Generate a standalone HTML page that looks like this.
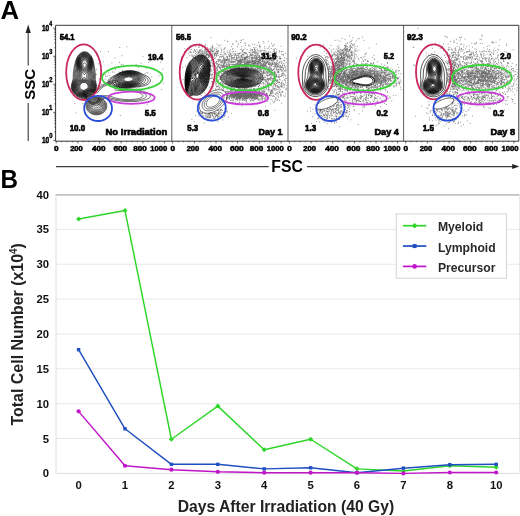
<!DOCTYPE html><html><head><meta charset="utf-8"><title>Figure</title><style>html,body{margin:0;padding:0;background:#fff}svg{display:block;filter:blur(0.3px)}text{font-family:"Liberation Sans",sans-serif}</style></head><body>
<svg width="520" height="516" viewBox="0 0 520 516">
<rect width="520" height="516" fill="#fff"/>
<text transform="translate(0.46 18.70) scale(1.009 1)" font-size="25.45" font-weight="bold">A</text>
<text transform="translate(0.56 187.70) scale(0.937 1)" font-size="25.89" font-weight="bold">B</text>
<path d="M28.2 33V65.4M28.2 103V141" stroke="#3a3a3a" stroke-width="1.1"/>
<path d="M28.2 24.6L25.6 33.1H30.8Z" fill="#222"/>
<text transform="translate(35.2 84.3) rotate(-90)" font-size="15" text-anchor="middle" font-weight="bold">SSC</text>
<path d="M56 166.6H268.7M307 166.6H513" stroke="#3a3a3a" stroke-width="1.1"/>
<path d="M519.3 166.6L512.2 164.1V169.1Z" fill="#222"/>
<text x="287.1" y="172" font-size="15.8" text-anchor="middle" font-weight="bold">FSC</text>
<path d="M126.3 46.8h.8m-7.7 .6h.8m-20.1 4.1h.8m7.1 0h.8m12.7 4.2h.8m20.2 .7h.8m-28.7 1.7h.8m34.6 3.2h.8m-48.1 .5h.8m44.5 .5h.8m11.5 0h.8m-42 .3h.8m-8.4 .2h.8m28.4 .3h.8m-43.6 .7h.8m22 .6h.8m14.2 0h.8m-13.8 .3h.8m-1.8 1.5h.8m-8 .9h.8m22.6 .4h.8m7.5 .5h.8m15.5 1.2h.8m-67 .1h.8m18.2 .2h.8m6.2 .9h.8m-22.8 .1h.8m20.9 .5h.8m15.7 0h.8m-27.1 1h.8m.8 .1h.8m4.4 .1h.8m26.7 .3h.8m-38.9 .3h.8m38.5 .3h.8m-45.3 .4h.8m40.8 .2h.8m-49.5 .8h.8m7.8 0h.8m-10.4 .2h.8m13 .8h.8m48.8 .5h.8m-54.1 .3h.8m.7 .1h.8m43.8 .6h.8m-53.2 1.8h.8m4.9 .3h.8m-5.8 .1h.8m2.5 1.8h.8m-.5 1h.8m58.8 1h.8m-62.4 1.4h.8m-5.5 1.2h.8m41.6 1.2h.8m-5.1 .7h.8m2.2 .2h.8m-2.5 1.4h.8m24.2 .5h.8m-58.6 9.4h.8m5.3 1.1h.8m-24.9 .5h.8m-11.5 3h.8m7.3 .1h.8m63.6 1h.8m-37.7 7.9h.8m-35 .2h.8m43.3 2.7h.8" stroke="#6a6a6a" stroke-width="0.85" fill="none"/>
<g fill="none" stroke="#000" stroke-width="0.62">
<path d="M85.5 98.8l-2.3 .1-2.4-.7-2.8-1.3-2.2-1.6-1.8-1.7-1.4-2-.9-2.3-.4-2.3 .3-2.7 1.6-5.3 .1-5.7 .6-4.3 1.2-6 1.1-3.7 1.4-3 1.9-2.4 2.3-1.5 1.2-.5 1.2-.2 1.3 .1 1.3 .3 1.2 .6 1.2 1 1.9 2.1 1.6 3.2 .9 3.6 1.3 7.7 .4 4 0 5.5 .9 4.2 .3 2.3-.2 2-.6 2.3-1.1 2-1.1 1.4-1.7 1.7-2.3 1.5-2 1-2 .6z"/><path d="M85.8 97.8l-2.3 .2-2.5-.5-2.5-1-2.3-1.4-1.9-1.8-1.4-2-.8-2-.3-2.3 .3-3 1.9-5.2 .5-7.5 1.4-8.7 1-3.6 1.3-2.7 1.8-2.1 2-1.3 2.2-.5 2.3 .3 1.3 .6 1.2 .8 1.9 2.2 1.5 3.3 .7 3.2 1.2 9.8 .2 7 1.2 4.2 .3 2.5-.1 2-.5 1.7-1 2-1.2 1.6-1.7 1.6-1.7 1.2-1.8 .8-2.2 .6z"/><path d="M84.5 97.3l-2.3-.1-2.2-.6-2.5-1.2-1.7-1.3-1.6-1.5-1.1-1.8-.7-2-.2-2 .5-3 1.8-4.2 .5-1.6 .2-4.7 .8-5.3 .4-5 .9-4 1.3-2.4 1.6-2 2-1.2 2.3-.5 1.3 .1 1.2 .4 2 1.4 1.7 2 1.2 2.8 .8 3.7 .2 5.7 .6 5.3 0 4.5 1.7 5 .4 2.8-.2 2-.6 1.7-.9 1.7-1.5 1.8-1.6 1.3-2.3 1.3-1.7 .6-2.3 .3z"/><path d="M86.2 96.6l-2.2 .2-2.2-.2-2.3-.7-2.3-1.2-2-1.6-1.3-1.8-.9-2-.4-2 .1-1.7 .4-1.8 2.4-4.8 .4-1.2 .2-4.2 .6-4.6 .1-5.7 .8-3.7 1-2.3 1.6-2.1 2-1.3 2-.5 2.3 .3 1 .5 1.2 .8 1.7 2 1.2 2.8 .5 2 .2 2-.2 6 .5 4.5 0 4 .4 1.5 1.7 4 .4 2.5-.1 1.7-.4 1.8-.8 1.5-1 1.5-1.6 1.4-1.4 1-1.6 .8-2 .6z"/><path d="M84.5 96.3l-2.3-.1-2-.5-2-.8-1.7-1.2-1.4-1.4-1.2-1.7-.6-1.8-.3-2 .2-1.5 .5-1.7 .7-1.6 1.9-3 .5-1.4 .2-3.6 .5-4-.3-6.4 .2-2 .5-1.8 1-2.2 1.6-2 2-1.3 2-.5 2 .4 2 1.2 1.6 1.9 1.2 2.7 .5 2 .2 2-.6 6.8 .3 3.8 0 3.4 .5 1.6 2 4.2 .4 1.5 .1 1.5-.2 1.8-.6 1.7-.9 1.5-1.2 1.4-1.6 1.2-1.7 1-1.7 .6-2.3 .3z"/><path d="M85 95.8l-2 0-2.2-.4-2-.7-1.8-1.1-1.5-1.5-1.1-1.5-.7-2-.2-1.8 .2-1.8 .6-1.7 .8-1.5 2.1-3 .5-1.5 .5-6.5-.6-4.5-.1-2.3 .2-2 .5-2 1-2.2 1.6-1.9 1.7-1.2 2-.4 2 .4 2 1.3 1.5 1.8 1.1 2.5 .3 1.7 .2 2.3-.2 2.5-.8 4.5 .2 6.5 .5 1.5 2.3 4.3 .5 1.4 .1 1.6-.1 1.7-.5 1.5-.8 1.5-1.2 1.5-1.4 1.1-1.7 1-1.7 .6-1.8 .3z"/><path d="M85.5 95.3l-2.3 .1-2-.3-2-.7-1.7-1-1.5-1.3-1.1-1.5-.7-1.8-.3-1.8 .2-2 .7-1.7 1-1.7 2.3-3 .5-1.6 .4-5.7-.9-4.5-.2-2.5 .2-2.3 .4-2 1.1-2.2 1.4-1.6 1.8-1.1 1.7-.4 2 .4 1.7 1.2 1.5 1.7 1.1 2.6 .4 2 0 2.2-.3 2.5-1.1 4.5 .1 5.8 .5 1.4 1.9 3 .8 1.6 .5 1.4 .2 1.6-.1 1.4-.4 1.6-.8 1.4-1 1.3-1.3 1.1-1.4 .9-1.6 .6-1.7 .4z"/><path d="M86 94.8l-2 .2-2-.1-2.2-.7-1.8-1-1.4-1.2-1.2-1.4-.7-1.8-.3-1.8 .2-2 .7-1.7 1.1-1.7 2.6-3 .6-1.6 .1-5.2-1.1-4.5-.3-2.5 0-2.2 .5-2.3 1.1-2.3 1.3-1.4 1.6-1 1.7-.4 2 .4 1.7 1.2 1.4 1.8 .9 2.2 .4 2.2-.1 2.3-.4 2.5-1.4 4.5-.1 5 .5 1.5 2.2 3 .9 1.5 .6 1.7 .2 1.6-.1 1.4-.3 1.3-.6 1.3-1 1.2-1.1 1-1.2 .9-1.5 .7-1.5 .4z"/><path d="M84.8 94.6l-2-.1-1.8-.3-1.8-.7-1.4-.9-1.3-1.3-.8-1.3-.6-1.4-.2-1.8 .3-2 .7-1.8 1.3-1.7 2.7-2.7 .7-1.6 0-4.7-1.5-4.7-.5-2.6 .1-2.2 .4-2.2 1-2 1.1-1.5 1.6-1 1.7-.4 1.7 .3 1.8 1.2 1.3 1.6 .9 2.2 .3 2.3-.1 2.5-.5 2.2-1.7 4.6-.3 4.4 .5 1.6 2.4 3 1.2 1.7 .6 1.7 .2 1.8-.1 1.5-.4 1.3-.7 1.2-1.1 1.2-1.3 1-1.2 .7-1.5 .6-1.7 .3z"/><path d="M85.2 94.1l-1.7 .1-1.7-.3-1.8-.5-1.5-.9-1.3-1.1-1-1.4-.6-1.4-.2-1.6 .2-2 .9-2 1.5-1.8 3.1-2.9 .6-.7 .2-.8-.3-4-1.8-4.5-.7-2.5-.1-2.5 .4-2.3 .8-2 1.2-1.4 1.4-1 1.7-.4 1.7 .3 1.6 1 1.2 1.6 .9 2.2 .3 2.5-.3 2.5-.8 2.5-2 4.2-.3 1.6-.2 2.4 .7 1.6 2.7 2.7 1.3 1.7 .7 1.8 .3 1.8 0 1.2-.4 1.2-.6 1.3-.8 1.1-1 .9-1.3 .8-1.4 .6-1.6 .4z"/><path d="M84.5 74.7l-.5-.1-.5-.6-2.9-5-.9-2.4-.3-2.6 .3-2.7 .5-1.3 .7-1.2 1.6-1.5 1-.5 1-.1 1 .1 1 .4 1 .7 .7 .8 1.2 2.3 .4 2.8-.3 2.5-.8 2.5-1.5 2.4-2 2.8-.7 .7z"/><path d="M85.5 93.6l-1.7 .1-1.8-.2-1.5-.4-1.5-.8-1.2-1-1-1.3-.6-1.2-.3-1.5 0-1.3 .3-1.2 .6-1.2 .9-1.3 2.5-2.4 2.8-1.8 1-.4 .8 .1 1 .6 2.2 1.7 1.7 1.7 1.5 2.2 .6 2.3 0 1.3-.3 1.2-1.3 2.1-2 1.7-1.2 .6-1.5 .4z"/><path d="M85 72.1l-.8 .1-.7-.3-1-.9-.9-1.2-1.4-2.7-.4-2.8 .2-2.5 1-2.4 1.5-1.5 1-.5 1-.2 1.7 .4 1 .7 .7 .7 1.1 2 .4 2.6-.2 2.4-1 2.6-1.4 2.2-1 .9-.8 .4z"/><path d="M85.5 93.1l-1.5 .2-1.5-.1-1.5-.4-1.5-.8-1.3-.9-.8-1.1-.6-1.2-.4-1.2 0-1.3 .3-1.3 .5-1.2 .9-1.2 1.1-1.2 1.6-1.1 1.4-.8 1.3-.4 1 0 1.3 .3 2.7 1.9 1.9 2.3 .6 1.2 .3 1.2-.2 2.3-.5 1.3-.7 1-1.9 1.6-2.5 .9z"/><path d="M84.8 71.1l-.8-.1-.8-.3-1.5-1.7-1.2-2.4-.3-2.6 .3-2.4 1-2 1.4-1.3 1.6-.5 1 .2 .7 .3 1.5 1.3 .9 2 .4 2.2-.3 2.5-.9 2.2-1.6 1.8-.7 .6-.7 .2z"/><path d="M85.5 92.6l-1.3 .2-1.4-.1-1.6-.4-1.1-.5-1.1-.8-.9-1-.6-1-.4-1.2-.1-1.2 .2-1.3 .5-1.3 .7-1 1.1-1.1 1.3-.9 1.2-.7 1.2-.4 1.3 0 1 .2 2.3 1.3 1 .9 1 1.2 .5 1.1 .4 1.2-.1 2.2-1 2-.8 1-1 .7-2.3 .9z"/><path d="M85.2 70.1l-.7 .1-.7-.1-1.4-1.1-1.2-1.9-.5-2.3 .1-2.2 .7-2 1.3-1.5 1.4-.6 1.6 .2 1.2 .9 1 1.7 .5 2-.1 2-.6 2.1-1.1 1.6-1.5 1.1z"/><path d="M85.5 92.1l-2.5 .1-1.2-.3-1.3-.5-1-.7-.9-.9-.6-1-.3-1-.1-1 .1-1.2 1-2 1.8-1.8 1.3-.7 1.2-.5 2 0 1.2 .4 1 .7 1.8 1.7 1 2.2 .1 2-.3 1-.6 1-1.4 1.5-2.3 1z"/><path d="M85 69.3l-1.2-.1-1.3-1-.9-1.6-.4-2 .2-2 .6-1.6 1.1-1.2 1.4-.5 1.3 .3 1.1 1 .7 1.4 .4 1.8-.2 2-.6 1.5-1 1.3-1.2 .7z"/><path d="M85 91.6l-2.2 0-2.2-.8-1.6-1.5-.7-1.7 .1-2 1-2 1.7-1.6 2.1-.8 2 .1 1.9 1 1.5 1.5 .8 2 0 2-.9 1.8-1.5 1.3-2 .7z"/><path d="M85.2 68.3l-1 .2-1-.6-.9-1.3-.4-1.6 0-1.4 .4-1.6 .9-1.1 1-.5 1 .1 1 .7 .7 1.1 .3 1.3 0 1.4-.4 1.6-.6 1-1 .7z"/><path d="M84.2 91.1l-2-.3-1.7-.9-1.1-1.3-.5-1.8 .4-1.8 .9-1.5 1.6-1.2 2-.5 1.7 .2 1.6 1 1.2 1.6 .5 1.7-.2 1.7-1 1.6-1.4 1-2 .5z"/><path d="M84.5 67.3l-.7-.3-.4-.4-.4-.9-.1-.9 .1-.8 .4-.7 .6-.4 .5 0 .7 .2 .6 .4 .4 1.3-.1 1-.4 .8-.5 .5-.7 .2z"/><path d="M84.2 90.3l-1.4-.1-1.6-.7-1-1.2-.4-1.5 .2-1.5 .9-1.5 1.3-1 1.6-.4 1.4 .2 1.6 .9 .9 1.3 .4 1.5-.3 1.5-.8 1.2-1.2 .9-1.6 .4z"/>
</g>
<g fill="none" stroke="#000" stroke-width="0.62">
<path d="M128.2 87.8l-9.2 .2-4.2-.4-2.3-.6-1.9-1-1.5-1.2-.9-1.2-.3-1.3 .1-1.3 .6-1.2 1.1-1.2 1.5-1.1 6.3-3.6 3.5-1.7 3.5-1 4-.6 3.7 .1 3.8 .7 3.8 1.3 7.2 3.5 2 1.4 1.2 1.7 .2 .7-.1 1-.6 1.6-1.5 1.4-2.4 1.3-2 .6-2.3 .5-13.3 1.4z"/><path d="M129.8 87.3l-4 .2-5.8-.1-3.2-.3-2.6-.5-2.2-.9-1.8-1.4-.8-1.5-.1-1 .1-.8 .9-1.4 2.1-1.8 5.8-3.9 4-1.8 3.8-.9 3.5-.3 3.5 .3 3.5 .7 4 1.8 5.8 3.9 1 1 .6 1 .2 1-.2 1-.7 1-.8 .7-1.3 .7-1.6 .7-8 1.8-5.7 .8z"/><path d="M127.2 87.1l-5.7-.2-5.5-.7-1.8-.6-1.4-.7-1-.9-.7-1-.2-.7 0-1 .4-1 .8-1 4.7-3.9 2-1.3 2-1 3.4-1.2 3.6-.5 3.7-.1 3.5 .6 3 1 2.8 1.7 2.6 2.2 1.7 2.2 .3 1.3-.3 1.3-1.3 1.2-1.9 1-3.7 1.4-3.7 1-3.3 .5-4 .4z"/><path d="M129.2 86.6l-3.4 .1-3.6-.2-3.4-.6-2.8-.7-1.9-.9-1.1-1-.5-1.3 .1-1.2 .6-1 1-1.2 2.9-2.8 2.9-1.9 2.8-1.2 3.2-.8 3.5-.3 3.5 .3 3.2 .8 3.3 1.6 1.3 1 1.2 1.3 .8 1.2 .4 1.2 .1 1-.3 1-.8 1-1 .8-3.4 1.8-4.3 1.3-4.3 .7z"/><path d="M130.5 86.1l-3.3 .2-3.2-.1-3.5-.5-2.7-.8-2-.9-1.2-1-.6-1.2 .2-1.5 1.4-2.3 2.2-2.1 2.4-1.7 3-1.3 3-.7 3.3-.2 3.3 .2 3 .8 3 1.5 2 1.8 .8 1.3 .3 1 .1 1-.3 1-.6 1-.7 .7-2.4 1.6-3.5 1.3-4 .9z"/><path d="M129.2 85.8l-3 .1-3-.2-2.7-.6-2.5-.9-1.5-.9-1-1.3-.2-1.2 .4-1.5 1.4-2 2.1-1.9 2.6-1.5 2.7-.9 3.3-.6 3.2 0 3 .5 2.8 1 2.2 1.4 .9 1 .7 1 .3 1 .1 1-.6 1.7-1.6 1.7-2.6 1.4-3.2 1.1-3.8 .6z"/><path d="M130.2 85.3l-2.7 .2-3-.1-2.7-.5-2.6-.9-1.7-1-.9-1.2-.3-1.2 .4-1.6 1.1-1.7 2-1.7 2.4-1.4 2.6-.9 3-.5 2.7-.1 3 .5 2.5 .8 2.1 1.3 1.5 1.7 .5 1.8-.4 1.8-1.2 1.5-2.3 1.5-2.7 1.1-3.3 .6z"/><path d="M129.2 85.1l-2.7 0-2.7-.2-2.6-.6-2-.9-1.3-1.1-.6-1.3 0-1.2 .6-1.5 1.2-1.5 1.9-1.5 2.2-1.1 2.8-.8 2.8-.3 3 .1 2.4 .6 2.3 1 1.7 1.4 1 1.6 .1 1.8-.7 1.4-1.6 1.5-2 1.1-2.8 1-3 .5z"/><path d="M130 84.6l-2.8 .2-2.4-.2-2.3-.5-2.1-.8-1.4-1-.7-1-.2-1.3 .4-1.4 1.1-1.6 1.6-1.3 2-1.1 2.6-.8 2.7-.3 2.5 0 2.5 .5 2 .8 1.8 1.2 1 1.6 .3 1.4-.5 1.6-1.3 1.4-1.8 1.1-2.2 .9-2.8 .6z"/><path d="M128.5 84.3l-2.5 0-2.5-.4-2-.7-1.5-.9-.9-1.3-.2-1.2 .5-1.5 1-1.3 1.6-1.2 2-1 2.2-.6 2.3-.3 2.5 .1 2.2 .4 2 .9 1.5 1 .9 1.3 .2 1.2-.2 1.2-.9 1.3-1.5 1.1-2 1-2.2 .6-2.5 .3z"/><path d="M129.5 83.8l-2.3 .1-2.2-.2-2-.4-1.6-.7-1.1-1-.6-1 0-1 .4-1.3 1.1-1.3 1.3-1 2-.9 2-.6 2.3-.2 2.2 .1 2 .4 1.8 .8 1.2 1 .9 1.2 .1 1.5-.5 1.2-1.3 1.3-1.4 .9-2 .7-2.3 .4z"/><path d="M130 83.3l-2 .2-2-.1-2-.4-1.5-.5-1-.7-.8-1-.2-1 .3-1.2 1-1.3 1.2-1 1.6-.7 1.9-.6 2-.3 2 .1 1.7 .3 1.8 .7 1.2 .9 .9 1.1 .2 1-.3 1.2-.8 1-1.3 1-1.8 .8-2.1 .5z"/><path d="M127.8 83.1l-2-.2-1.6-.3-1.4-.7-1.1-.9-.4-1 .1-1 .5-1 1.1-1 1.2-.7 1.6-.6 1.7-.4 1.7-.1 1.8 .1 1.7 .5 1.3 .7 .9 .8 .5 1 .1 1-.5 1-.8 .8-1.2 .8-1.7 .7-1.8 .3-1.7 .2z"/><path d="M128.5 82.6l-3.3-.3-1.2-.4-1-.6-.6-.7-.3-1 .4-1 .6-.8 .9-.8 1.5-.7 3-.6 1.7 .1 1.5 .2 1.2 .6 1 .7 .6 .7 .2 .8-.3 1-.5 .8-1 .7-1.1 .6-1.6 .4-1.7 .3z"/><path d="M128.5 82.1l-2.7-.2-1.1-.3-.9-.6-.6-.7-.2-.7 .3-.8 .5-.8 1-.7 1-.5 2.7-.6 2.7 .3 1.3 .5 .6 .6 .5 .7 .2 .7-.3 .8-.5 .7-1.9 1.1-2.6 .5z"/><path d="M129.8 81.3l-2.3 .2-2.3-.4-1-.8-.2-.5 .1-.8 .4-.5 .7-.7 2-.8 2-.1 2 .4 1 .5 .4 .5 .2 .5-.1 .8-1 1-1.9 .7z"/>
</g>
<g fill="none" stroke="#000" stroke-width="0.5">
<path d="M98 114.8l-1.8 .1-2-.2-1.7-.5-1.7-.8-1.6-1-1.3-1.4-.8-1.2-.7-1.8-.3-1.4 .1-1.8 .5-1.8 .8-1.4 1-1.3 1.5-1.3 1.5-.8 2-.8 2-.3 2.3 0 1.7 .3 2 .8 1.7 1 1.6 1.4 1.2 1.7 .6 1.7 .3 1.8-.2 2-.5 1.5-1.1 1.7-1.6 1.6-1.7 1.1-1.8 .7-2 .4z"/><path d="M97.5 114.3l-1.7 0-2-.3-1.8-.6-1.5-.8-1.3-1-1.1-1.3-.8-1.5-.4-1.5-.1-1.7 .2-1.6 .6-1.4 1-1.6 1.2-1.1 1.4-1 1.8-.8 1.8-.4 2-.1 2 .2 2 .6 1.4 .8 1.6 1.2 1.1 1.4 .7 1.2 .6 1.8 0 1.8-.2 1.4-.7 1.6-1.1 1.5-1.2 1.1-1.5 1-2 .8-2 .3z"/><path d="M98.8 113.6l-1.6 .2-1.7 0-1.7-.4-1.6-.5-1.4-.9-1.2-1-1-1.2-.7-1.2-.4-1.3-.1-1.5 .2-1.5 .5-1.3 .7-1.2 1-1.1 1.2-1 1.5-.8 1.7-.5 1.8-.3 1.8 .1 2 .4 1.7 .8 1.5 1.1 1.2 1.3 .8 1.5 .5 1.7 .1 1.6-.3 1.4-.7 1.6-.9 1.2-1.5 1.2-1.4 .9-2 .7z"/><path d="M98 113.1l-3 0-1.5-.4-1.5-.6-1.2-.8-1-1-.9-1.3-.5-1.2-.3-1.2 .1-1.6 .3-1.2 .6-1.2 .9-1.2 1-.9 2.5-1.3 1.7-.4 1.8-.1 1.8 .2 1.4 .6 1.6 .8 1.1 1 1 1.3 .7 1.4 .3 1.6-.1 1.4-.4 1.6-.8 1.2-1.1 1.2-1.3 .9-1.4 .7-1.8 .5z"/><path d="M97.2 112.6l-2.7-.2-1.5-.5-1.2-.7-1.1-.9-.8-1-.6-1-.4-1.3-.1-1.2 .2-1.2 .5-1.3 .7-1.2 2-1.7 1.6-.7 1.2-.3 1.5-.2 1.7 .2 1.6 .5 1.2 .6 1.2 1 .9 1.1 .7 1.2 .3 1.2 .1 1.6-.3 1.2-.6 1.2-.7 1-1.1 1-1.3 .7-1.4 .6-1.6 .3z"/><path d="M97.8 111.8l-2.6 0-2.4-.8-1.8-1.4-1.2-2-.2-1 0-1.3 .3-1.3 .5-1 1.6-1.7 2.2-1.1 1.3-.3 1.5-.1 1.5 .3 1.3 .5 2 1.4 .8 1 .6 1.3 .2 1.3-.1 1.2-.3 1.2-.6 1-.9 1-1 .8-1.3 .6-1.4 .4z"/><path d="M97.8 111.1l-2.3 0-2.3-.7-1.6-1.4-1-1.7-.1-2 .7-2 1.3-1.5 2-1.1 1.3-.2 1.2-.1 2.3 .6 1.2 .8 .8 .8 .7 1 .4 1 .1 2-.2 1-.5 1-.8 .9-1 .7-2.2 .9z"/><path d="M97.2 110.3l-2-.1-1.7-.7-1.3-1.2-.8-1.7 0-1.8 .9-1.8 1.4-1.2 1.8-.7 2 0 2 .8 1.4 1.4 .7 1.7-.1 1.8-.9 1.8-1.6 1.2-1.8 .5z"/><path d="M97 109.3l-1.5-.1-1.5-.6-1-1-.6-1.6 .1-1.4 .6-1.3 1.1-1 1.6-.6 1.4 0 1.6 .6 1.1 1 .7 1.5 0 1.5-.8 1.5-1.2 1-1.6 .5z"/><path d="M96.8 107.8l-1.3-.1-1-.6-.7-.8-.3-1 .1-1 .5-1 .9-.7 1-.3 1.2 .1 1.1 .4 .8 .8 .4 1-.1 1.2-.6 1-.8 .6-1.2 .4z"/><path d="M97.5 105.8l-1.5 .1-1-.4-.4-.9 .4-1 .7-.6 .8-.1 .8 .1 .7 .5 .3 .5 .1 .8-.4 .7-.5 .3z"/>
</g>
<g fill="none" stroke="#000" stroke-width="0.55">
<path d="M97.8 104.8l-2.6 .2-2.7-.7-2.7-1.3-2.8-2.2-2.2-2.8-1.2-2.7-.3-2.5 .2-1 .4-1 .7-.8 .9-.6 2-.5 2.3 .2 4.2 1 1.8-.2 1.2-.8 4.5-3.5 3.3-2 3.7-1.7 3.7-1 2-.3 1.8 .1 1.2 .4 1 .6 .6 .7 .2 .9-.1 3.5 .3 .6 .8 .5 2 .3 6.8 .5 4.4 .4 4.6 .8 3.4 .8 3.6 1 2.8 1.3 1.8 1.3 .6 .7 .3 .8 0 1-.7 1-1.4 .9-1.7 .8-4.7 1.2-6.8 .8-6.8 .1-7-.4-6.7-1-7.7-1.8-3-.1-1 .3-.8 .5-.5 .7-.9 2.5-.6 1-1 1-1.2 .5z"/><path d="M97 103.6l-2 .2-2.5-.6-2.5-1.2-2.2-1.9-1.9-2.3-1-2.2-.2-2.3 .5-1.6 1.3-1.1 2-.4 2 .2 4 1 1.7-.1 1-.7 4-3.5 3-2 4-1.9 3.6-1 2.7 0 1 .3 .7 .6 .5 .7 .2 .8-.1 3.2 .4 .8 .6 .3 2 .4 6.4 .2 4.6 .4 7.2 1.2 3.5 1.1 2.6 1.1 1.7 1.3 .7 1.2-.2 1-.7 .8-1.2 .7-1.9 .7-4.7 1.1-6 .4-5.8 0-5.5-.5-5.5-.9-7.8-2-2.2-.2-2.2 .1-1.3 .4-.7 .5-.6 .7-1.2 3.4-.8 .9-1.2 .7z"/><path d="M95.8 102.6l-1.8 0-2-.6-2-1.1-1.8-1.6-1.3-1.7-.9-2-.1-1.8 .6-1.3 1.3-.9 1.7-.3 2 .3 4 1.2 1.5 0 .8-.5 3-3.5 2.7-2.1 3.7-2 3.6-1.1 1.2 0 1.2 .1 .9 .3 .5 .6 .4 1.2-.2 3.2 .2 .6 .8 .5 2 .3 10 .2 6.4 .8 3.5 .9 2.7 1 1.6 1 .5 .5 .4 .8-.1 .7-.5 .7-1.2 .8-1.6 .6-4.5 .9-5.5 .3-5.5-.2-5.5-.7-3.7-.9-5-1.7-1.8-.4-2.5-.1-4.7 .2-1 .4-.6 .6-.8 3.2-.6 1.3-.8 .8-1.2 .5z"/>
</g>
<path d="M210.7 37.7h.8m31.3 1.8h.8m-3.1 .7h.8m-16.8 .1h.8m16 .5h.8m-5.9 .2h.8m25.7 .3h.8m4.4 0h.8m-41.2 .1h.8m7.5 0h.8m-9.6 .1h.8m12.4 .9h.8m17.4 .2h.8m-14.7 .3h.8m18.2 0h.8m-26.1 .4h.8m32 0h.8m-26.5 .2h.8m-46.7 .2h.8m32.1 0h.8m-16.6 .3h.8m-15.9 .2h.8m50.3 .1h.8m-47.9 .1h.8m26.3 .2h.8m21.2 0h.8m18.4 0h.8m-36.7 .1h.8m-18.1 .1h.8m27.2 .2h.8m9.7 0h.8m-60.6 .4h.8m4.7 0h.8m6.5 0h.8m43.9 0h.8m-39 .1h.8m25.6 .1h.8m27.2 0h.8m-25.4 .1h.8m-49.4 .1h.8m18.4 0h.8m39.2 0h.8m12.3 .2h.8m-23.3 .1h.8m18.9 .1h.8m10.6 0h.8m-77.7 .1h.8m55.4 .1h.8m-65.3 .1h.8m35.1 .1h.8m5 0h.8m-25.3 .1h.8m27.6 0h.8m17.3 0h.8m-61.7 .1h.8m12.7 0h.8m51.6 0h.8m-66.1 .6h.8m-10.6 .1h.8m63.4 0h.8m-46.9 .2h.8m3.7 0h.8m-.1 0h.8m42.4 0h.8m-31.5 .1h.8m34.1 0h.8m-58.2 .1h.8m13.8 .1h.8m50.3 0h.8m-48.3 .1h.8m23.2 0h.8m-21 .1h.8m29.2 0h.8m-44.7 .1h.8m3.2 .1h.8m55.6 .1h.8m-62.9 .1h.8m55 0h.8m10 0h.8m-63.8 .1h.8m19.6 0h.8m-49 .1h.8m19.8 0h.8m61.2 .1h.8m-53.8 .1h.8m8.9 0h.8m-19.6 .1h.8m-.6 0h.8m-.5 0h.8m-.4 0h.8m25.6 0h.8m17.3 0h.8m2.5 0h.8m-13.1 .1h.8m14.8 0h.8m16.3 0h.8m-85.4 .1h.8m17.1 0h.8m2 0h.8m-4.6 .1h.8m8.8 0h.8m23.7 0h.8m11 0h.8m19.9 0h.8m-27.1 .1h.8m6.6 0h.8m-63.8 .1h.8m4.5 0h.8m26.3 0h.8m19.1 0h.8m-50 .1h.8m9.4 0h.8m5.2 0h.8m65.2 0h.8m-89.3 .1h.8m15.4 0h.8m49.8 0h.8m-50 .1h.8m4.8 0h.8m9.4 0h.8m-22.4 .1h.8m.6 0h.8m10.3 0h.8m2.8 0h.8m13.8 0h.8m20.4 0h.8m-47.7 .1h.8m5.7 0h.8m38.6 0h.8m-51.9 .1h.8m-.2 0h.8m58.7 0h.8m1.2 0h.8m-67.8 .1h.8m3.8 0h.8m18 0h.8m23.6 0h.8m-29.4 .2h.8m2.7 0h.8m38.5 0h.8m16.5 0h.8m-13.2 .1h.8m2 0h.8m-71.3 .1h.8m7.4 0h.8m39.8 .1h.8m6.3 0h.8m1.7 0h.8m5.4 0h.8m5.3 0h.8m13.6 0h.8m-84.9 .1h.8m10.9 0h.8m2.9 0h.8m10.3 0h.8m20.2 0h.8m11.6 0h.8m7.8 0h.8m-57.6 .1h.8m34.8 0h.8m8.9 0h.8m1.8 0h.8m.1 0h.8m-43.9 .1h.8m15.8 0h.8m30.1 0h.8m5.1 0h.8m-56.6 .1h.8m2.2 0h.8m13.1 0h.8m14.2 0h.8m11.5 0h.8m-57.6 .1h.8m1 0h.8m4.4 0h.8m1.2 0h.8m3.5 0h.8m21.4 0h.8m-28.5 .1h.8m1.4 0h.8m1.6 0h.8m62.4 0h.8m-73.1 .1h.8m.6 0h.8m32.6 0h.8m44.8 0h.8m-.7 0h.8m-97.5 .1h.8m4.9 0h.8m4.5 0h.8m11.5 0h.8m.6 0h.8m2.5 0h.8m-.1 0h.8m2 0h.8m-.6 0h.8m1 0h.8m14.3 0h.8m42.1 0h.8m-64.6 .1h.8m4.5 0h.8m42.6 0h.8m6.9 0h.8m5.1 0h.8m7.5 0h.8m-76.7 .1h.8m45.8 0h.8m-55.9 .1h.8m10.6 0h.8m6.1 0h.8m42.7 0h.8m18.4 0h.8m-91 .1h.8m3.2 0h.8m7.7 0h.8m.7 0h.8m7 0h.8m12.6 0h.8m4.8 0h.8m26.9 0h.8m15.8 0h.8m-75.6 .1h.8m9.3 0h.8m7.6 0h.8m4.5 0h.8m-25.1 .1h.8m69 0h.8m.7 0h.8m-80.7 .1h.8m1.9 0h.8m59.1 0h.8m2.8 0h.8m-60.8 .1h.8m8.8 0h.8m8.5 0h.8m.7 0h.8m31.4 0h.8m2.8 0h.8m1 0h.8m10.3 0h.8m-75.5 .1h.8m17.3 0h.8m11.1 .1h.8m7.1 0h.8m11.2 0h.8m1.9 0h.8m-.1 0h.8m3.8 0h.8m1 0h.8m.6 0h.8m2.5 0h.8m20.2 0h.8m-78.4 .1h.8m44.5 0h.8m18.3 0h.8m.2 0h.8m9 0h.8m-76.4 .1h.8m6.3 0h.8m21.2 0h.8m3.7 0h.8m12.3 0h.8m29.3 0h.8m-71.6 .1h.8m51 0h.8m-52.7 .1h.8m1.2 0h.8m37.4 0h.8m21.2 0h.8m4.6 0h.8m-72.3 .1h.8m.3 0h.8m-.3 0h.8m6.2 0h.8m2.2 0h.8m27.1 0h.8m13.9 0h.8m-46.7 .1h.8m4.5 0h.8m-.2 0h.8m30 0h.8m-.3 0h.8m12 0h.8m-13.5 .1h.8m4 0h.8m5.3 0h.8m27.7 0h.8m-82.7 .1h.8m5 0h.8m28.3 0h.8m14.8 0h.8m12.8 0h.8m7.9 0h.8m-74.8 .1h.8m14.5 0h.8m6.9 0h.8m13.3 0h.8m4.8 0h.8m15.9 0h.8m-47.3 .1h.8m14.7 0h.8m26.2 0h.8m-70 .1h.8m8.1 0h.8m.5 0h.8m2.8 0h.8m-.4 0h.8m3.9 0h.8m1.3 0h.8m5.1 0h.8m.5 0h.8m21.9 0h.8m14.9 0h.8m11.2 0h.8m-72.7 .1h.8m9.6 0h.8m23.5 0h.8m3.7 0h.8m1.9 0h.8m-36.1 .1h.8m3.2 0h.8m9.7 0h.8m7.2 0h.8m10.3 0h.8m-23.4 .1h.8m28.4 0h.8m-31.6 .1h.8m21.6 0h.8m1.5 0h.8m10.3 0h.8m-41.1 .1h.8m-.6 0h.8m34.4 0h.8m19.7 0h.8m17.9 0h.8m.6 0h.8m-91.8 .1h.8m8.2 0h.8m-.7 0h.8m.3 0h.8m-.1 0h.8m2.7 0h.8m1 0h.8m11.5 0h.8m31.3 0h.8m-54.2 .1h.8m17.1 0h.8m12.7 0h.8m7.6 0h.8m3.5 0h.8m-47.2 .1h.8m2.5 0h.8m7.4 0h.8m1 0h.8m10.8 0h.8m28.2 0h.8m1.6 0h.8m7.6 0h.8m-11.7 .1h.8m4.8 0h.8m-58 .1h.8m3.8 0h.8m1.9 0h.8m.4 0h.8m2.8 0h.8m4.1 0h.8m9.3 0h.8m1.7 0h.8m21.3 0h.8m21 0h.8m-60.9 .1h.8m9.8 0h.8m1.2 0h.8m17.7 0h.8m2.7 0h.8m9.6 0h.8m25.1 0h.8m-82 .1h.8m11.5 0h.8m-.6 0h.8m15.5 0h.8m3.4 0h.8m6.1 0h.8m28 0h.8m3.4 0h.8m-74.3 .1h.8m12.3 0h.8m14 0h.8m21.1 0h.8m-.5 0h.8m6.2 0h.8m2.1 0h.8m-62.7 .1h.8m12 0h.8m29.7 0h.8m.4 0h.8m22.1 0h.8m1.7 0h.8m-68.3 .1h.8m1.9 0h.8m3.5 0h.8m1 0h.8m2.7 0h.8m3.6 0h.8m30.4 0h.8m-44.1 .1h.8m.7 0h.8m0 0h.8m5.4 0h.8m1.1 0h.8m14.9 0h.8m1.6 0h.8m19.8 0h.8m20 0h.8m-87.4 .1h.8m4 0h.8m8.4 0h.8m-.6 0h.8m30.3 0h.8m1.1 0h.8m33.1 0h.8m1.3 0h.8m-76.2 .1h.8m13.1 0h.8m24.8 0h.8m13.9 0h.8m.2 0h.8m1.4 0h.8m-46.7 .1h.8m21.9 0h.8m18 0h.8m8.1 0h.8m8.6 0h.8m-77.8 .1h.8m11 0h.8m3.7 0h.8m2.4 0h.8m4.4 0h.8m20.8 0h.8m15.7 0h.8m2 0h.8m24.7 0h.8m-78.1 .1h.8m22.7 0h.8m8.4 0h.8m8.2 0h.8m2.7 0h.8m-56.1 .1h.8m13.7 0h.8m30.2 0h.8m-.5 0h.8m14.4 0h.8m19 0h.8m-84 .1h.8m11.6 0h.8m.5 0h.8m4.7 0h.8m17.6 0h.8m9.3 0h.8m-.3 0h.8m12.3 0h.8m-45.8 .1h.8m11.9 0h.8m7 0h.8m21.2 0h.8m3 0h.8m2.5 0h.8m-.8 0h.8m-67.8 .1h.8m12.5 0h.8m5.3 0h.8m4.1 0h.8m14.3 0h.8m2.1 0h.8m4.6 0h.8m1.1 0h.8m17 0h.8m16.3 0h.8m-67.9 .1h.8m2.3 0h.8m7 0h.8m1.8 0h.8m-.6 0h.8m3.6 0h.8m8 0h.8m10 0h.8m11.3 0h.8m2.7 0h.8m3 0h.8m2.5 0h.8m-61 .1h.8m1.2 0h.8m36.6 0h.8m6.2 0h.8m18 0h.8m.3 0h.8m-57 .1h.8m.7 0h.8m4.8 0h.8m20.5 0h.8m-19.6 .1h.8m33.1 0h.8m3.5 0h.8m.7 0h.8m-57.7 .1h.8m16.3 0h.8m43.1 0h.8m-81.3 .1h.8m20.7 0h.8m23.8 0h.8m6.8 0h.8m.1 0h.8m6.1 0h.8m3.8 0h.8m8.6 0h.8m-.7 0h.8m10.3 0h.8m-72.1 .1h.8m-.4 0h.8m47.6 0h.8m19.5 0h.8m-.7 0h.8m-51.8 .1h.8m-.1 0h.8m3.7 0h.8m10.3 0h.8m2 0h.8m.5 0h.8m1.7 0h.8m25.7 0h.8m3.6 0h.8m-39.8 .1h.8m2.1 0h.8m2.1 0h.8m27.8 0h.8m-94.7 .1h.8m11.2 .1h.8m14.6 0h.8m.7 0h.8m2 0h.8m24.1 0h.8m2.4 0h.8m3.7 0h.8m0 0h.8m8.9 0h.8m3.5 0h.8m-27.6 .1h.8m-.3 0h.8m1.3 0h.8m12.5 0h.8m1.7 0h.8m-.2 0h.8m.9 0h.8m-.2 0h.8m.7 0h.8m3.9 0h.8m6.6 0h.8m-75.8 .1h.8m13.6 0h.8m35.3 0h.8m1.9 0h.8m-.7 0h.8m3.7 0h.8m5.6 0h.8m-.2 0h.8m.4 0h.8m-73.6 .1h.8m33.3 0h.8m1.6 0h.8m8.4 0h.8m2.9 0h.8m0 0h.8m1.2 0h.8m5.7 0h.8m13.4 0h.8m7.2 0h.8m-25.8 .1h.8m.7 0h.8m-.7 0h.8m7.1 0h.8m10.8 0h.8m-83.2 .1h.8m44.9 0h.8m3.1 0h.8m.4 0h.8m9.4 0h.8m2.6 0h.8m2.6 0h.8m-.2 0h.8m2.4 0h.8m-38.5 .1h.8m2.9 0h.8m18.7 0h.8m12.3 0h.8m3.9 0h.8m-.2 0h.8m1.4 0h.8m-28.2 .1h.8m8.1 0h.8m3.9 0h.8m-18.9 .1h.8m17.4 0h.8m5.3 0h.8m12.1 0h.8m2.7 0h.8m4.4 0h.8m10.5 0h.8m-60.5 .1h.8m3.2 0h.8m3.2 0h.8m10.3 0h.8m10.1 0h.8m0 0h.8m.6 0h.8m2.6 0h.8m3.9 0h.8m9.4 0h.8m3.1 0h.8m.9 0h.8m-57.3 .1h.8m19.3 0h.8m-.3 0h.8m8.4 0h.8m6.7 0h.8m1.8 0h.8m-53.6 .1h.8m11.3 0h.8m23.8 0h.8m7.2 0h.8m8 0h.8m.5 0h.8m1.1 0h.8m7.1 0h.8m-45.8 .1h.8m20.7 0h.8m2.3 0h.8m9.6 0h.8m-52.4 .1h.8m18.1 0h.8m12.5 0h.8m11.9 0h.8m1.9 0h.8m3.9 0h.8m1.7 0h.8m4.4 0h.8m-52 .1h.8m13.1 0h.8m18.3 0h.8m13.4 0h.8m2.5 0h.8m5.4 0h.8m-.3 0h.8m5.2 0h.8m-53.3 .1h.8m9.7 0h.8m7 0h.8m6.6 0h.8m-.6 0h.8m-24.8 .1h.8m5.6 0h.8m8.5 0h.8m13.6 0h.8m.9 0h.8m3.1 0h.8m1.4 0h.8m4.6 0h.8m.4 0h.8m-44.7 .1h.8m-.8 0h.8m15.9 0h.8m1.1 0h.8m19.6 0h.8m-47.4 .1h.8m12.5 0h.8m-.1 0h.8m-32.3 .1h.8m14.4 0h.8m1.9 0h.8m10.3 0h.8m-.8 0h.8m4.1 0h.8m-.3 0h.8m4.6 0h.8m9.9 0h.8m9.7 0h.8m-46.7 .1h.8m12.6 0h.8m3.4 0h.8m11.3 0h.8m.5 0h.8m-.4 0h.8m1.9 0h.8m.1 0h.8m11.4 0h.8m-51 .1h.8m.4 0h.8m10.2 0h.8m2.4 0h.8m5.9 0h.8m12.8 0h.8m9.4 0h.8m0 0h.8m2.3 0h.8m-53.9 .1h.8m3.9 0h.8m.6 0h.8m5.8 0h.8m7.9 0h.8m2.3 0h.8m1.3 0h.8m12.2 0h.8m4.6 0h.8m1.5 0h.8m6.2 0h.8m.2 0h.8m-49.4 .1h.8m14.7 0h.8m13.2 0h.8m2.2 0h.8m2.7 0h.8m-46.2 .1h.8m-.2 0h.8m-.1 0h.8m5.2 0h.8m2.8 0h.8m2.2 0h.8m3.7 0h.8m4.7 0h.8m1.6 0h.8m-.6 0h.8m5.1 0h.8m-37 .1h.8m4.5 0h.8m7.6 0h.8m19.3 0h.8m11.5 0h.8m10 0h.8m-58.5 .1h.8m4.7 0h.8m7 0h.8m4 0h.8m2.2 0h.8m16.8 0h.8m-.7 0h.8m5.3 0h.8m1.5 0h.8m11.1 0h.8m-.6 0h.8m-33.8 .1h.8m18.4 0h.8m-.2 0h.8m-.6 0h.8m8.6 0h.8m-.5 0h.8m7.3 0h.8m-55.5 .1h.8m4.1 0h.8m7.1 0h.8m19.4 0h.8m-.6 0h.8m2.4 0h.8m2.9 0h.8m2.6 0h.8m-37.8 .1h.8m6.9 0h.8m5.1 0h.8m13.2 0h.8m5.2 0h.8m8.4 0h.8m-62.8 .1h.8m12.7 0h.8m17.4 0h.8m6.8 0h.8m-.3 0h.8m4.8 0h.8m18.6 0h.8m-55.2 .1h.8m5 0h.8m-.8 0h.8m12.8 0h.8m.1 0h.8m2.5 0h.8m.2 0h.8m6.9 0h.8m-.3 0h.8m6.3 0h.8m-.6 0h.8m12.4 0h.8m-63 .1h.8m16.5 0h.8m8.2 0h.8m-.3 0h.8m.7 0h.8m.8 0h.8m2.9 0h.8m12.5 0h.8m10.8 0h.8m1 0h.8m11.4 0h.8m-63.3 .1h.8m2.3 0h.8m-.6 0h.8m1.2 0h.8m9 0h.8m2.9 0h.8m9 0h.8m3.6 0h.8m29.7 0h.8m-61.5 .1h.8m13.7 0h.8m1.8 0h.8m7.7 0h.8m4.6 0h.8m4 0h.8m1.6 0h.8m3.8 0h.8m-48.5 .1h.8m-.5 0h.8m5.9 0h.8m2.3 0h.8m11.9 0h.8m2.3 0h.8m31.2 0h.8m-66.2 .1h.8m13.1 0h.8m3.7 0h.8m10.9 0h.8m-.5 0h.8m9.3 0h.8m11.3 0h.8m12.2 0h.8m6.5 0h.8m-60.5 .1h.8m6.6 0h.8m5.6 0h.8m13.3 0h.8m.5 0h.8m-.8 0h.8m12.3 0h.8m4.1 0h.8m-34.2 .1h.8m1 0h.8m5.6 0h.8m-.5 0h.8m.8 0h.8m2.8 0h.8m5.9 0h.8m3.4 0h.8m-41.8 .1h.8m1.2 0h.8m5.4 0h.8m7.2 0h.8m1.7 0h.8m5.7 0h.8m1.7 0h.8m.9 0h.8m3.6 0h.8m.7 0h.8m22.7 0h.8m-68.3 .1h.8m6.6 0h.8m1.5 0h.8m.5 0h.8m21.3 0h.8m.4 0h.8m-.5 0h.8m2 0h.8m11.1 0h.8m0 0h.8m.3 0h.8m-47.5 .1h.8m3.5 0h.8m5.8 0h.8m3.5 0h.8m18.5 0h.8m.2 0h.8m-.1 0h.8m1.6 0h.8m1.3 0h.8m6.2 0h.8m-49.9 .1h.8m17.2 0h.8m3.6 0h.8m-.3 0h.8m12.7 0h.8m3.3 0h.8m-.2 0h.8m3 0h.8m0 0h.8m-31.8 .1h.8m8.8 0h.8m2.6 0h.8m3 0h.8m5 0h.8m.9 0h.8m2.8 0h.8m8.3 0h.8m-52.5 .1h.8m1 0h.8m13.4 0h.8m2.1 0h.8m1 0h.8m.1 0h.8m-.3 0h.8m6 0h.8m.2 0h.8m1.7 0h.8m2.4 0h.8m1.4 0h.8m18 0h.8m-63.7 .1h.8m20.2 0h.8m2.9 0h.8m5.2 0h.8m1.4 0h.8m6.1 0h.8m7.5 0h.8m7.9 0h.8m-.1 0h.8m0 0h.8m-.6 0h.8m10.3 0h.8m-42.1 .1h.8m1.1 0h.8m15.3 0h.8m23.8 0h.8m-68.6 .1h.8m6.6 0h.8m6.2 0h.8m4 0h.8m7.3 0h.8m2.1 0h.8m5.8 0h.8m3.7 0h.8m2.5 0h.8m1.8 0h.8m-34.2 .1h.8m5.3 0h.8m5.3 0h.8m1.5 0h.8m12.2 0h.8m3 0h.8m-.1 0h.8m.3 0h.8m11.4 0h.8m.9 0h.8m2.7 0h.8m-56.8 .1h.8m24.5 0h.8m3.6 0h.8m3.4 0h.8m2.8 0h.8m3.7 0h.8m0 0h.8m6.3 0h.8m-47.1 .1h.8m-.4 0h.8m6.6 0h.8m.4 0h.8m2.3 0h.8m3.8 0h.8m6.6 0h.8m1 0h.8m1.9 0h.8m3.8 0h.8m-.6 0h.8m2.6 0h.8m4.3 0h.8m8.1 0h.8m9.2 0h.8m-62.8 .1h.8m6.1 0h.8m15.5 0h.8m0 0h.8m1.4 0h.8m.9 0h.8m26.2 0h.8m-.3 0h.8m-58.6 .1h.8m18.4 0h.8m6 0h.8m-.3 0h.8m.2 0h.8m-.2 0h.8m14.3 0h.8m.4 0h.8m-.5 0h.8m.1 0h.8m-56.1 .1h.8m15.4 0h.8m1.9 0h.8m8 0h.8m2.6 0h.8m9.5 0h.8m.8 0h.8m-.6 0h.8m-24.5 .1h.8m8.4 0h.8m3.1 0h.8m.4 0h.8m2.2 0h.8m14.6 0h.8m9.5 0h.8m6.7 0h.8m-67.1 .1h.8m8 0h.8m16.5 0h.8m1.7 0h.8m-.5 0h.8m4.1 0h.8m-.7 0h.8m5 0h.8m-.4 0h.8m3 0h.8m7.2 0h.8m-52.5 .1h.8m3.6 0h.8m1.6 0h.8m-.6 0h.8m5.9 0h.8m2.6 0h.8m3.5 0h.8m.1 0h.8m.4 0h.8m13 0h.8m3.1 0h.8m.3 0h.8m-.2 0h.8m.7 0h.8m8.7 0h.8m-.7 0h.8m-30.5 .1h.8m3.3 0h.8m1.2 0h.8m-.8 0h.8m-.2 0h.8m.3 0h.8m2.4 0h.8m.8 0h.8m1.1 0h.8m.2 0h.8m3.3 0h.8m4.4 0h.8m-.5 0h.8m3.9 0h.8m5.1 0h.8m-66.6 .1h.8m2.4 0h.8m2.6 0h.8m20.1 0h.8m1.8 0h.8m5.8 0h.8m-.5 0h.8m7 0h.8m2.1 0h.8m7.1 0h.8m6.1 0h.8m1 0h.8m-62.3 .1h.8m2.5 0h.8m32 0h.8m3.2 0h.8m-15.7 .1h.8m14.3 0h.8m2.2 0h.8m3.5 0h.8m-37.1 .1h.8m0 0h.8m10.2 0h.8m.9 0h.8m13.8 0h.8m1 0h.8m2.4 0h.8m3.2 0h.8m1 0h.8m8.1 0h.8m8.4 0h.8m1.6 0h.8m-66.7 .1h.8m5.3 0h.8m16.3 0h.8m4.2 0h.8m1.8 0h.8m1.7 0h.8m1 0h.8m-.6 0h.8m1.9 0h.8m.8 0h.8m-.7 0h.8m7.6 0h.8m8.6 0h.8m.5 0h.8m-63.4 .1h.8m29.5 0h.8m9.8 0h.8m15.2 0h.8m-59.5 .1h.8m32.5 0h.8m26.9 0h.8m3.3 0h.8m-.8 0h.8m-51.5 .1h.8m13.1 0h.8m6.3 0h.8m5.5 0h.8m9 0h.8m.4 0h.8m.9 0h.8m1.4 0h.8m-.2 0h.8m-.2 0h.8m8.1 0h.8m-43.6 .1h.8m.2 0h.8m8.2 0h.8m6.6 0h.8m3.9 0h.8m.4 0h.8m.7 0h.8m-.5 0h.8m1.2 0h.8m-.7 0h.8m4.5 0h.8m-.7 0h.8m-41.2 .1h.8m-.3 0h.8m10.1 0h.8m12.7 0h.8m.3 0h.8m10 0h.8m.5 0h.8m5.1 0h.8m11.6 0h.8m-56.2 .1h.8m9.1 0h.8m32.8 0h.8m-60 .1h.8m7.3 0h.8m19.6 0h.8m3.2 0h.8m2.4 0h.8m4.7 0h.8m2.6 0h.8m4.4 0h.8m-.5 0h.8m8.6 0h.8m1.8 0h.8m-56.9 .1h.8m16.5 0h.8m1 0h.8m.9 0h.8m-.6 0h.8m4.8 0h.8m1.2 0h.8m6.1 0h.8m12.5 0h.8m3.5 0h.8m-55.7 .1h.8m7.6 0h.8m3.2 0h.8m1 0h.8m.4 0h.8m1.9 0h.8m14.8 0h.8m.7 0h.8m2.3 0h.8m8.5 0h.8m2.4 0h.8m5 0h.8m.9 0h.8m-58 .1h.8m4.3 0h.8m7.4 0h.8m5.4 0h.8m4.1 0h.8m1.3 0h.8m.3 0h.8m1.1 0h.8m20.5 0h.8m.3 0h.8m4.9 0h.8m-42.6 .1h.8m6.5 0h.8m.5 0h.8m6.3 0h.8m1.1 0h.8m1.2 0h.8m3.2 0h.8m10.9 0h.8m7.9 0h.8m-66.4 .1h.8m9.9 0h.8m11.6 0h.8m.7 0h.8m3.5 0h.8m5 0h.8m13.8 0h.8m2.4 0h.8m8.8 0h.8m-59.5 .1h.8m6.4 0h.8m2.8 0h.8m4.2 0h.8m5.7 0h.8m.2 0h.8m3.2 0h.8m-.2 0h.8m2.9 0h.8m.1 0h.8m.3 0h.8m6.7 0h.8m2.1 0h.8m-.1 0h.8m1.1 0h.8m.7 0h.8m5.9 0h.8m-53.6 .1h.8m1.4 0h.8m12.6 0h.8m-.1 0h.8m.8 0h.8m5.1 0h.8m1.3 0h.8m-.1 0h.8m4.6 0h.8m5.4 0h.8m25.5 0h.8m-56.8 .1h.8m1.4 0h.8m-.4 0h.8m1.3 0h.8m12.4 0h.8m1.8 0h.8m2.5 0h.8m10.2 0h.8m-28.4 .1h.8m8.9 0h.8m1.6 0h.8m-.2 0h.8m.7 0h.8m2.1 0h.8m8.1 0h.8m1.1 0h.8m9.1 0h.8m-59.8 .1h.8m5.2 0h.8m3.2 0h.8m4.3 0h.8m4.6 0h.8m-.5 0h.8m.9 0h.8m4.1 0h.8m1.1 0h.8m5.1 0h.8m4.2 0h.8m3.4 0h.8m18.4 0h.8m-.1 0h.8m-67.7 .1h.8m2.6 0h.8m11.7 0h.8m2.3 0h.8m7.1 0h.8m1.2 0h.8m-.1 0h.8m1.5 0h.8m4.5 0h.8m-.8 0h.8m9.7 0h.8m3.2 0h.8m7 0h.8m7.3 0h.8m3.5 0h.8m-60.1 .1h.8m.3 0h.8m12.8 0h.8m7.6 0h.8m.3 0h.8m4.4 0h.8m2.6 0h.8m.3 0h.8m2.5 0h.8m1.5 0h.8m12 0h.8m4.5 0h.8m-60.4 .1h.8m.9 0h.8m5.6 0h.8m7.6 0h.8m6.7 0h.8m2.2 0h.8m1.9 0h.8m6.2 0h.8m2.6 0h.8m2.2 0h.8m-.3 0h.8m-.7 0h.8m.4 0h.8m4.6 0h.8m12.3 0h.8m-61.7 .1h.8m13.8 0h.8m2.1 0h.8m5.5 0h.8m1.1 0h.8m-.2 0h.8m-.4 0h.8m.1 0h.8m.8 0h.8m1.5 0h.8m1.5 0h.8m6.8 0h.8m5.6 0h.8m10.4 0h.8m-39.7 .1h.8m1.4 0h.8m2.4 0h.8m10.3 0h.8m14.2 0h.8m3.3 0h.8m-66.7 .1h.8m23.6 0h.8m1.2 0h.8m5 0h.8m5.4 0h.8m1.2 0h.8m.4 0h.8m4.2 0h.8m-.7 0h.8m1.7 0h.8m1.2 0h.8m.4 0h.8m-.7 0h.8m-55.4 .1h.8m3.6 0h.8m1.4 0h.8m2.6 0h.8m15.6 0h.8m.5 0h.8m4.5 0h.8m.7 0h.8m5.2 0h.8m.1 0h.8m9.1 0h.8m.3 0h.8m16.4 0h.8m-60 .1h.8m16.5 0h.8m6.9 0h.8m14.2 0h.8m.5 0h.8m0 0h.8m-.8 0h.8m6.7 0h.8m-47.8 .1h.8m-.1 0h.8m4.1 0h.8m15.3 0h.8m1 0h.8m2.5 0h.8m2.2 0h.8m5.8 0h.8m16.4 0h.8m-60.3 .1h.8m5.6 0h.8m-.1 0h.8m10.9 0h.8m-.6 0h.8m8 0h.8m.8 0h.8m8.9 0h.8m2.1 0h.8m2.9 0h.8m21.2 0h.8m-101.2 .1h.8m25.8 0h.8m13.1 0h.8m15.8 0h.8m2.6 0h.8m-.8 0h.8m3.9 0h.8m-40.9 .1h.8m12.6 0h.8m2.6 0h.8m8.4 0h.8m.5 0h.8m15.2 0h.8m1 0h.8m3 0h.8m21.6 0h.8m2 0h.8m-65.6 .1h.8m1.9 0h.8m2.9 0h.8m.2 0h.8m1.8 0h.8m-.8 0h.8m13.5 0h.8m5.4 0h.8m1.7 0h.8m1.5 0h.8m2.7 0h.8m10.3 0h.8m9.6 0h.8m-63.9 .1h.8m4.9 0h.8m5.5 0h.8m5.3 0h.8m9.7 0h.8m6.2 0h.8m-.1 0h.8m11.4 0h.8m.1 0h.8m6.2 0h.8m.1 0h.8m-.2 0h.8m1.1 0h.8m-53.8 .1h.8m5.4 0h.8m2.5 0h.8m3.2 0h.8m1.5 0h.8m3.4 0h.8m10.5 0h.8m2.4 0h.8m1.6 0h.8m2.1 0h.8m-.1 0h.8m10.2 0h.8m.9 0h.8m.4 0h.8m-61.4 .1h.8m.2 0h.8m6.3 0h.8m11.5 0h.8m.2 0h.8m.2 0h.8m12.1 0h.8m25.5 0h.8m-57.4 .1h.8m15.8 0h.8m2.1 0h.8m.5 0h.8m1.1 0h.8m1.4 0h.8m2.2 0h.8m.8 0h.8m9.7 0h.8m12.2 0h.8m-63.4 .1h.8m4.9 0h.8m2.7 0h.8m5.6 0h.8m.1 0h.8m-.7 0h.8m9.5 0h.8m10.6 0h.8m9.4 0h.8m14 0h.8m1 0h.8m-52.2 .1h.8m4.1 0h.8m1.6 0h.8m3.1 0h.8m.5 0h.8m5.4 0h.8m12.5 0h.8m.2 0h.8m5.9 0h.8m-84.9 .1h.8m39.9 0h.8m6.7 0h.8m4.8 0h.8m.3 0h.8m5.6 0h.8m2.6 0h.8m8.8 0h.8m0 0h.8m1.8 0h.8m5.7 0h.8m1.3 0h.8m5.6 0h.8m-53 .1h.8m11.7 0h.8m3.1 0h.8m1.7 0h.8m15.1 0h.8m9 0h.8m-41.1 .1h.8m4.3 0h.8m2.5 0h.8m8.5 0h.8m-.6 0h.8m2.1 0h.8m20.2 0h.8m.1 0h.8m11 0h.8m-61.5 .1h.8m7 0h.8m18 0h.8m-.2 0h.8m9 0h.8m22.5 0h.8m3 0h.8m-61.3 .1h.8m10.2 0h.8m1.9 0h.8m2.4 0h.8m6 0h.8m1.2 0h.8m7.4 0h.8m20.6 0h.8m1.1 0h.8m0 0h.8m-64 .1h.8m-.6 0h.8m1.5 0h.8m4.1 0h.8m3.8 0h.8m3.7 0h.8m-.1 0h.8m8.6 0h.8m-.8 0h.8m14.3 0h.8m4 0h.8m-53.1 .1h.8m1.9 0h.8m0 0h.8m2 0h.8m12.9 0h.8m-.6 0h.8m3.6 0h.8m.4 0h.8m6.1 0h.8m8.8 0h.8m1.5 0h.8m1.4 0h.8m.9 0h.8m8 0h.8m11.3 0h.8m-53.3 .1h.8m1 0h.8m5.9 0h.8m2 0h.8m1.1 0h.8m1.5 0h.8m15.4 0h.8m.8 0h.8m12.4 0h.8m2.7 0h.8m-61.1 .1h.8m9.9 0h.8m2.2 0h.8m.3 0h.8m15.9 0h.8m3.2 0h.8m2.7 0h.8m2 0h.8m1.3 0h.8m5 0h.8m-41.8 .1h.8m15.7 0h.8m3.2 0h.8m2.4 0h.8m-36.9 .1h.8m10 0h.8m5.9 0h.8m2.1 0h.8m.1 0h.8m-.3 0h.8m2.7 0h.8m2.8 0h.8m13.7 0h.8m25.1 0h.8m-58.5 .1h.8m13.2 0h.8m4.5 0h.8m.2 0h.8m3.3 0h.8m-.4 0h.8m-.2 0h.8m3.4 0h.8m-31.5 .1h.8m21 0h.8m.8 0h.8m0 0h.8m-.6 0h.8m2.6 0h.8m1.5 0h.8m.9 0h.8m-45 .1h.8m36.5 0h.8m-.7 0h.8m12.6 0h.8m2.6 0h.8m-54.3 .1h.8m18.6 0h.8m16.7 0h.8m10 0h.8m19.7 0h.8m-70.1 .1h.8m2.6 0h.8m9.9 0h.8m2.6 0h.8m2.8 0h.8m12.2 0h.8m10.2 0h.8m7.1 0h.8m.8 0h.8m.9 0h.8m3.2 0h.8m-43 .1h.8m1.3 0h.8m38.5 0h.8m1.6 0h.8m-56.8 .1h.8m12.3 0h.8m23.9 0h.8m2.5 0h.8m7.5 0h.8m-60 .1h.8m13.9 0h.8m3.5 0h.8m.4 0h.8m23.7 0h.8m6.8 0h.8m.1 0h.8m.6 0h.8m5.8 0h.8m5.6 0h.8m-52.8 .1h.8m4 0h.8m1 0h.8m22 0h.8m-.6 0h.8m1.6 0h.8m13 0h.8m-51.8 .1h.8m8.4 0h.8m22.5 0h.8m.6 0h.8m5.1 0h.8m17.9 0h.8m.8 0h.8m-.5 0h.8m1.3 0h.8m-63.3 .1h.8m9.6 0h.8m-.8 0h.8m22.1 0h.8m25.3 0h.8m-26 .1h.8m1.9 0h.8m-36.2 .1h.8m33.9 0h.8m9 0h.8m5.8 0h.8m2.4 0h.8m-9.1 .1h.8m0 0h.8m1.7 0h.8m3.8 0h.8m-52.5 .1h.8m2 0h.8m26.4 0h.8m1.4 0h.8m2.7 0h.8m-.6 0h.8m0 0h.8m6.9 0h.8m3.8 0h.8m3.8 0h.8m-.7 0h.8m-67.6 .1h.8m41.3 0h.8m-37.2 .1h.8m4.9 0h.8m6.7 0h.8m25.7 0h.8m12 0h.8m-56.9 .1h.8m12 0h.8m30 0h.8m6.5 0h.8m3.4 0h.8m1.5 0h.8m1.3 0h.8m8 0h.8m3 0h.8m-.2 0h.8m-70.6 .1h.8m.3 0h.8m36.2 0h.8m.6 0h.8m.5 0h.8m12.3 0h.8m-46.3 .1h.8m1.3 0h.8m27.1 0h.8m4.2 0h.8m-.6 0h.8m19.5 0h.8m-20.1 .1h.8m1.9 0h.8m-49.9 .1h.8m2 0h.8m5.3 0h.8m-.1 0h.8m57.2 0h.8m-60.2 .1h.8m47.6 0h.8m-57.8 .1h.8m43.6 0h.8m13.3 0h.8m-16.2 .1h.8m-.3 0h.8m14.2 0h.8m5.2 0h.8m5.3 0h.8m-70.5 .1h.8m11.4 0h.8m44.1 0h.8m4 0h.8m7 0h.8m-75 .1h.8m10 0h.8m2.6 0h.8m31.3 0h.8m1.7 0h.8m.5 0h.8m1.8 0h.8m1.5 0h.8m3.2 0h.8m-45.3 .1h.8m56.9 0h.8m-71.9 .1h.8m9.4 0h.8m46.7 0h.8m4.5 0h.8m-53.8 .1h.8m.8 .1h.8m-.3 0h.8m57.1 0h.8m-72.7 .1h.8m3.7 0h.8m3.4 0h.8m-.2 0h.8m5.6 0h.8m44.4 0h.8m-55.7 .1h.8m41.9 0h.8m4 0h.8m2.6 0h.8m-45.5 .1h.8m-.1 0h.8m38 0h.8m8.1 0h.8m7 0h.8m-54.7 .1h.8m.6 0h.8m-.7 0h.8m41 0h.8m6.3 0h.8m-15.5 .1h.8m-.8 0h.8m1.3 0h.8m1.2 0h.8m1.6 0h.8m10.4 0h.8m-.4 0h.8m6.9 0h.8m-25.2 .1h.8m6 0h.8m-.1 0h.8m-6 .1h.8m4.8 0h.8m4.6 0h.8m3.5 0h.8m3.9 0h.8m-67.6 .1h.8m2.7 0h.8m-4.4 .1h.8m5.7 0h.8m45.8 0h.8m-50.4 .1h.8m45.7 .1h.8m6.5 0h.8m2.6 0h.8m-15.4 .1h.8m8.1 0h.8m-.2 0h.8m5.1 0h.8m-15.6 .1h.8m-50.6 .2h.8m56.6 0h.8m3.2 0h.8m-56.9 .1h.8m44.5 0h.8m-.5 0h.8m2.1 0h.8m2.9 0h.8m1.9 0h.8m-.3 0h.8m-58.7 .1h.8m48.4 0h.8m.6 0h.8m-52.9 .1h.8m.1 0h.8m44.6 0h.8m-.3 0h.8m.9 0h.8m3.9 0h.8m1.7 0h.8m3.8 0h.8m-60.2 .1h.8m.9 0h.8m2.9 0h.8m40.4 0h.8m11.1 0h.8m7.1 0h.8m-61.4 .1h.8m60.2 0h.8m-20.1 .1h.8m5.8 0h.8m-5.7 .1h.8m5.8 .1h.8m11.2 0h.8m-61.7 .1h.8m43.6 0h.8m-53.8 .1h.8m45.8 0h.8m1.2 .1h.8m18.1 0h.8m0 0h.8m-66.6 .1h.8m58.9 0h.8m-66.2 .1h.8m58.5 0h.8m-58.8 .1h.8m56.5 .1h.8m.6 0h.8m-57.4 .1h.8m3.7 0h.8m49.7 0h.8m4.8 0h.8m-.8 0h.8m-63.8 .1h.8m59.2 0h.8m-61.8 .1h.8m54.2 .1h.8m11.9 0h.8m-9.5 .1h.8m-.8 0h.8m13.5 0h.8m-68.6 .1h.8m57.2 0h.8m1.1 0h.8m2.2 0h.8m-17.4 .1h.8m19.2 0h.8m-62.7 .1h.8m41 0h.8m3.4 0h.8m15.7 0h.8m-64.9 .1h.8m61.9 0h.8m-20.2 .1h.8m4.3 0h.8m-.7 0h.8m13.2 0h.8m-14.1 .1h.8m2.5 0h.8m-.6 0h.8m12.8 0h.8m-68.1 .1h.8m50.7 0h.8m-58.6 .1h.8m54.2 0h.8m-57.8 .2h.8m65.7 0h.8m-.5 .1h.8m-13.1 .1h.8m8.5 0h.8m-56.2 .1h.8m1 0h.8m54.8 0h.8m8.9 0h.8m-10.2 .1h.8m-1.8 .1h.8m-.3 0h.8m-.3 0h.8m-.8 0h.8m4.1 0h.8m-.1 .2h.8m-4 .1h.8m1.5 0h.8m-62.1 .1h.8m47.4 0h.8m-56.9 .1h.8m65.8 0h.8m-.3 0h.8m-59 .1h.8m50.5 0h.8m4.2 0h.8m1 0h.8m-4.4 .1h.8m-.4 0h.8m-10.9 .2h.8m4.7 0h.8m7 0h.8m-.3 0h.8m-9.6 .1h.8m-50.5 .1h.8m41.6 0h.8m19.9 0h.8m-66.8 .2h.8m46.2 0h.8m-53.2 .1h.8m50.7 .1h.8m-1.1 .1h.8m15.1 0h.8m-60.8 .1h.8m-3.4 .1h.8m53.3 0h.8m-.7 0h.8m-4.5 .1h.8m5.4 0h.8m1.5 0h.8m9.9 .1h.8m-20.4 .1h.8m5.6 0h.8m-63.8 .1h.8m.7 0h.8m59.8 0h.8m-62.4 .1h.8m58.7 0h.8m-1.9 .1h.8m15.3 0h.8m-23.2 .1h.8m4.9 0h.8m-.6 0h.8m-53.6 .1h.8m3.9 0h.8m50.1 0h.8m1 0h.8m.6 0h.8m-62.5 .1h.8m55.4 0h.8m-3.1 .1h.8m-2.7 .1h.8m1.5 0h.8m-49.1 .1h.8m42.9 0h.8m5.1 0h.8m-.6 0h.8m-49.4 .2h.8m-.4 0h.8m48.5 0h.8m13.5 0h.8m-20.9 .1h.8m9.8 0h.8m3.8 0h.8m-97.2 .1h.8m29.5 0h.8m48.8 0h.8m-.4 0h.8m8.3 0h.8m4.5 0h.8m-11.7 .1h.8m6.7 0h.8m-9.9 .1h.8m8.1 0h.8m5.3 0h.8m-16.3 .1h.8m10.2 0h.8m.3 0h.8m-60.7 .1h.8m51 0h.8m5.2 0h.8m-57.2 .1h.8m51.3 0h.8m-5.9 .1h.8m6 0h.8m-58.5 .1h.8m-.6 0h.8m50.7 0h.8m1.1 .1h.8m16.1 0h.8m-10.5 .1h.8m1.4 0h.8m4.5 0h.8m-10.5 .1h.8m2.4 0h.8m.3 0h.8m-1.5 .2h.8m8 0h.8m-14.4 .1h.8m-57.1 .1h.8m61.1 0h.8m-60.2 .2h.8m-.7 .1h.8m-2.6 .1h.8m49.2 0h.8m7.2 0h.8m-62.4 .1h.8m59.9 0h.8m-62.7 .1h.8m.3 0h.8m54.3 0h.8m3.9 0h.8m2.9 0h.8m-64.2 .1h.8m51.6 0h.8m-44.7 .1h.8m43.3 0h.8m13.5 .1h.8m-17.3 .1h.8m14.3 0h.8m-63.5 .1h.8m51.8 0h.8m12.6 0h.8m-61.6 .2h.8m56.9 0h.8m0 0h.8m5.6 0h.8m-6.8 .1h.8m-2.8 .1h.8m-65.6 .1h.8m57.8 0h.8m-59.7 .1h.8m49.8 0h.8m3.7 0h.8m13.9 0h.8m-16.3 .1h.8m-46.4 .1h.8m38.4 0h.8m-.2 0h.8m-39 .1h.8m45.9 0h.8m4.4 0h.8m-52.7 .1h.8m39.6 .1h.8m-48 .1h.8m-.1 0h.8m42.4 0h.8m6.7 0h.8m5.8 0h.8m6.2 0h.8m-14.2 .1h.8m3.5 0h.8m3.5 0h.8m-57.3 .1h.8m56.1 0h.8m3.8 0h.8m1 0h.8m-24.8 .1h.8m9.3 0h.8m1.6 0h.8m-60.5 .1h.8m.2 0h.8m10.6 0h.8m34.8 0h.8m13.5 .1h.8m-13 .1h.8m.6 0h.8m.6 0h.8m-45.2 .1h.8m37.2 0h.8m9.2 0h.8m10.6 .1h.8m3.5 0h.8m.2 0h.8m-62.8 .1h.8m45.3 0h.8m-54.2 .1h.8m2.3 0h.8m2.4 0h.8m-.6 0h.8m44.6 0h.8m3.2 .1h.8m1.7 0h.8m-49.6 .1h.8m43.1 .1h.8m4.1 0h.8m.3 0h.8m5.4 0h.8m-13.9 .1h.8m-9.4 .1h.8m10.8 0h.8m-.6 0h.8m-6.9 .1h.8m-53.8 .1h.8m2.7 0h.8m49.9 0h.8m15.8 0h.8m.1 0h.8m-9.7 .1h.8m-5.1 .2h.8m-12.2 .2h.8m8.5 0h.8m11.2 0h.8m-68.5 .1h.8m61.4 0h.8m10.2 0h.8m-30.3 .1h.8m19.2 0h.8m-.1 0h.8m-49.4 .1h.8m52.1 0h.8m-59.5 .1h.8m3.9 0h.8m.1 0h.8m24.4 0h.8m18.9 0h.8m-56.5 .1h.8m-.2 0h.8m9.7 0h.8m36 0h.8m5.5 0h.8m-56.4 .1h.8m41.1 0h.8m23 0h.8m-56.8 .1h.8m36.4 0h.8m1.1 0h.8m12.4 0h.8m2.1 0h.8m-62.4 .1h.8m34.7 0h.8m7.6 0h.8m11 0h.8m-18.1 .1h.8m21.1 0h.8m-63.6 .1h.8m36 0h.8m8.5 0h.8m.8 0h.8m-53.9 .1h.8m4.5 0h.8m60.5 0h.8m1.9 0h.8m-69 .1h.8m16.3 0h.8m-.1 0h.8m29.4 0h.8m-45.6 .1h.8m34 0h.8m6.7 0h.8m-26.3 .1h.8m43.2 0h.8m-.4 0h.8m-55.6 .1h.8m61.1 0h.8m-75.5 .1h.8m23.4 0h.8m15.2 0h.8m14.4 0h.8m13 0h.8m-47.7 .1h.8m15.4 0h.8m32.5 0h.8m-45.8 .1h.8m14.3 0h.8m20.5 0h.8m-37.3 .1h.8m41.5 0h.8m-54.6 .1h.8m.2 0h.8m.8 0h.8m2.8 0h.8m36.6 0h.8m-41.8 .1h.8m19.5 0h.8m13.3 0h.8m-43.1 .1h.8m2.3 0h.8m-4.4 .1h.8m26.9 0h.8m12.2 0h.8m8.1 0h.8m13.6 0h.8m-52 .1h.8m13.3 0h.8m21.9 0h.8m-50.7 .2h.8m3.7 0h.8m14 0h.8m5.8 0h.8m7.9 0h.8m18.9 0h.8m5.2 0h.8m-45.8 .1h.8m11.7 0h.8m28.1 0h.8m10.1 0h.8m-47.4 .1h.8m4 0h.8m12.4 0h.8m-5 .1h.8m11.7 0h.8m-22.8 .1h.8m9.3 0h.8m18.7 0h.8m-40.1 .1h.8m9.1 0h.8m12.6 0h.8m-37.3 .1h.8m12 0h.8m3.2 0h.8m-.2 0h.8m3.3 0h.8m19.4 0h.8m-48.3 .1h.8m23.4 0h.8m1.5 0h.8m20.4 0h.8m10 0h.8m-.2 0h.8m-62.3 .1h.8m30.5 0h.8m6.3 0h.8m8.4 0h.8m-21.5 .1h.8m3.4 0h.8m31.6 0h.8m1.4 0h.8m-61.7 .1h.8m12.8 0h.8m.5 0h.8m11.4 0h.8m3.4 0h.8m.9 0h.8m1.9 0h.8m11.8 0h.8m1.2 0h.8m3.3 0h.8m12.5 0h.8m-39.9 .1h.8m-.1 0h.8m1.6 0h.8m-10.6 .1h.8m4.6 0h.8m4.5 0h.8m23.4 0h.8m-45.4 .1h.8m7.5 0h.8m2.1 0h.8m13.2 0h.8m8.7 0h.8m2.4 0h.8m11.7 0h.8m-48.2 .1h.8m-.7 0h.8m8.4 0h.8m.2 0h.8m33.1 0h.8m-42.1 .1h.8m3.9 0h.8m7.1 0h.8m9.7 0h.8m26.2 0h.8m-64.5 .1h.8m.4 0h.8m2.8 0h.8m20.8 0h.8m19.1 0h.8m-.4 0h.8m-23.3 .1h.8m2.8 0h.8m20.3 0h.8m1.9 0h.8m-59 .1h.8m20.7 0h.8m6.6 0h.8m9.1 0h.8m-.4 0h.8m-20.8 .1h.8m.1 0h.8m5.6 0h.8m.3 0h.8m15.1 0h.8m1.3 0h.8m-29.1 .1h.8m5.2 0h.8m1.2 0h.8m.1 0h.8m18.9 0h.8m10.1 0h.8m2.5 0h.8m-45.2 .1h.8m1.1 0h.8m7.9 0h.8m2.2 0h.8m3.3 0h.8m21.4 0h.8m7.4 0h.8m-47.6 .1h.8m7.4 0h.8m.2 0h.8m0 0h.8m6.8 0h.8m5.9 0h.8m12.3 0h.8m-47.4 .1h.8m6.3 0h.8m4 0h.8m9.3 0h.8m-10.2 .1h.8m-.6 0h.8m2.6 0h.8m3.1 0h.8m4.4 0h.8m7 0h.8m6.3 0h.8m-20.4 .1h.8m5.7 0h.8m2.6 0h.8m.5 0h.8m-15.1 .1h.8m8.2 0h.8m1.5 0h.8m14.7 0h.8m-38.1 .1h.8m.7 0h.8m-.8 0h.8m3.1 0h.8m9.6 0h.8m4.3 0h.8m-.1 0h.8m2.1 0h.8m-.2 0h.8m5.7 0h.8m-31.6 .1h.8m6.8 0h.8m4.9 0h.8m2.2 0h.8m3 0h.8m12.5 0h.8m-25.5 .1h.8m-.4 0h.8m-.7 0h.8m1.1 0h.8m-.1 0h.8m14.2 0h.8m4.2 0h.8m9.1 0h.8m-38.3 .1h.8m-.5 0h.8m5.3 0h.8m12.5 0h.8m12.9 0h.8m1.8 0h.8m-43 .1h.8m9 0h.8m.1 0h.8m4.4 0h.8m4.4 0h.8m3.2 0h.8m16.9 0h.8m-47.1 .1h.8m.9 0h.8m2.5 0h.8m3.8 0h.8m5.4 0h.8m-.5 0h.8m3.7 0h.8m11.8 0h.8m-31.1 .1h.8m15.4 0h.8m.5 0h.8m-.5 0h.8m17.3 0h.8m6.3 0h.8m-36.4 .1h.8m1.2 0h.8m.5 0h.8m2.1 0h.8m1.5 0h.8m2 0h.8m4.3 0h.8m9.2 0h.8m-25.1 .1h.8m2.3 0h.8m3.6 0h.8m-.4 0h.8m3.7 0h.8m-.7 0h.8m4.8 0h.8m.9 0h.8m.5 0h.8m-.8 0h.8m.5 0h.8m20.5 0h.8m-.5 0h.8m-48.7 .1h.8m2.9 0h.8m.2 0h.8m4.3 0h.8m.6 0h.8m2.4 0h.8m.8 0h.8m-.5 0h.8m19.5 0h.8m-43.6 .1h.8m1.7 0h.8m4.2 0h.8m4.2 0h.8m.5 0h.8m2.5 0h.8m-.2 0h.8m9.3 0h.8m.3 0h.8m6.1 0h.8m5.9 0h.8m6.3 0h.8m-52.7 .1h.8m.2 0h.8m19.7 0h.8m-.1 0h.8m5.7 0h.8m4 0h.8m1.7 0h.8m-36.8 .1h.8m1.8 0h.8m4.5 0h.8m1.4 0h.8m1.9 0h.8m-.6 0h.8m2.7 0h.8m.9 0h.8m6.5 0h.8m1.4 0h.8m17.3 0h.8m6.5 0h.8m1.9 0h.8m-45.4 .1h.8m1.6 0h.8m10 0h.8m2.3 0h.8m9.8 0h.8m15.1 0h.8m-71 .1h.8m21.8 0h.8m-.6 0h.8m.6 0h.8m10.7 0h.8m.8 0h.8m2 0h.8m-.5 0h.8m-.1 0h.8m1.6 0h.8m-.8 0h.8m5.2 0h.8m-.7 0h.8m19.3 0h.8m-39.4 .1h.8m-.8 0h.8m2.4 0h.8m1.4 0h.8m1.1 0h.8m0 0h.8m.8 0h.8m1.9 0h.8m-.7 0h.8m.2 0h.8m-.6 0h.8m6.9 0h.8m19.8 0h.8m-54.9 .1h.8m2.8 0h.8m-.8 0h.8m1.4 0h.8m2.5 0h.8m-.5 0h.8m1.4 0h.8m4.5 0h.8m.2 0h.8m.5 0h.8m.4 0h.8m1.2 0h.8m-.2 0h.8m2.4 0h.8m-.1 0h.8m-.1 0h.8m-20.8 .1h.8m1.5 0h.8m.6 0h.8m1.9 0h.8m0 0h.8m1.1 0h.8m5 0h.8m4 0h.8m1.2 0h.8m.9 0h.8m-.6 0h.8m.2 0h.8m8.5 0h.8m-38.6 .1h.8m8 0h.8m1.4 0h.8m1.1 0h.8m1.6 0h.8m.6 0h.8m2.5 0h.8m.7 0h.8m3.8 0h.8m.9 0h.8m3.1 0h.8m7.5 0h.8m-40.3 .1h.8m4.6 0h.8m2.4 0h.8m.3 0h.8m1 0h.8m1.8 0h.8m.9 0h.8m2 0h.8m.1 0h.8m-.7 0h.8m-.3 0h.8m5.8 0h.8m3.1 0h.8m-27.8 .1h.8m-.2 0h.8m-.7 0h.8m-.3 0h.8m.5 0h.8m2.2 0h.8m.9 0h.8m.6 0h.8m4.4 0h.8m-.2 0h.8m-.7 0h.8m1.3 0h.8m.7 0h.8m-.3 0h.8m3.3 0h.8m-55.4 .1h.8m29 0h.8m1.9 0h.8m2.2 0h.8m2.4 0h.8m1.4 0h.8m2.4 0h.8m-.7 0h.8m.6 0h.8m-.1 0h.8m1 0h.8m1.5 0h.8m1.1 0h.8m-30.3 .1h.8m8.4 0h.8m.6 0h.8m-.5 0h.8m2.8 0h.8m-.4 0h.8m-.2 0h.8m4.4 0h.8m-.4 0h.8m0 0h.8m.9 0h.8m-.2 0h.8m5.9 0h.8m-.8 0h.8m11.9 0h.8m4.5 0h.8m0 0h.8m-49.7 .1h.8m6.5 0h.8m-.5 0h.8m.5 0h.8m-.4 0h.8m-.4 0h.8m4.6 0h.8m6.2 0h.8m-.4 0h.8m3 0h.8m.5 0h.8m0 0h.8m-.7 0h.8m9.1 0h.8m3.7 0h.8m-41.6 .1h.8m1.4 0h.8m.5 0h.8m1.4 0h.8m2.1 0h.8m0 0h.8m.5 0h.8m1.2 0h.8m0 0h.8m.5 0h.8m.3 0h.8m.5 0h.8m1.1 0h.8m1.2 0h.8m-.2 0h.8m.2 0h.8m.8 0h.8m-.3 0h.8m2.5 0h.8m11.1 0h.8m1.9 0h.8m-47 .1h.8m3.6 0h.8m-.7 0h.8m-.2 0h.8m6.5 0h.8m.5 0h.8m-.4 0h.8m.6 0h.8m-.6 0h.8m.8 0h.8m-.4 0h.8m0 0h.8m-.5 0h.8m-.2 0h.8m-.3 0h.8m-.7 0h.8m1.5 0h.8m-.2 0h.8m1.6 0h.8m-.2 0h.8m.6 0h.8m2.7 0h.8m4.8 0h.8m2.2 0h.8m-.1 0h.8m-30.9 .1h.8m-.5 0h.8m4.6 0h.8m2.8 0h.8m-.5 0h.8m1.8 0h.8m4.8 0h.8m1.7 0h.8m12.5 0h.8m-44.9 .1h.8m1.7 0h.8m-.1 0h.8m4.9 0h.8m.7 0h.8m-.7 0h.8m2.2 0h.8m-.3 0h.8m13.5 0h.8m22.5 0h.8m-50 .1h.8m-.1 0h.8m-.1 0h.8m-.6 0h.8m1.6 0h.8m2.8 0h.8m-.4 0h.8m1.8 0h.8m1.2 0h.8m-.2 0h.8m3.2 0h.8m4.5 0h.8m-.7 0h.8m-.6 0h.8m-.7 0h.8m-.5 0h.8m.1 0h.8m.9 0h.8m4.7 0h.8m14.4 0h.8m-49.7 .1h.8m-.3 0h.8m5.9 0h.8m0 0h.8m.9 0h.8m-.6 0h.8m.6 0h.8m1.6 0h.8m5.2 0h.8m-.6 0h.8m-.3 0h.8m-.2 0h.8m1.1 0h.8m2.5 0h.8m.8 0h.8m3.3 0h.8m.4 0h.8m-.3 0h.8m1.3 0h.8m3.7 0h.8m13.1 0h.8m-48.3 .1h.8m2.1 0h.8m0 0h.8m10.9 0h.8m0 0h.8m-.3 0h.8m1.8 0h.8m-.5 0h.8m-.5 0h.8m2.6 0h.8m4.7 0h.8m-.6 0h.8m2.6 0h.8m5.8 0h.8m-42 .1h.8m.9 0h.8m1.6 0h.8m2.2 0h.8m-.2 0h.8m-.5 0h.8m-.5 0h.8m1.6 0h.8m-.5 0h.8m2.4 0h.8m-.3 0h.8m-.4 0h.8m-.5 0h.8m-.7 0h.8m0 0h.8m8.3 0h.8m7.2 0h.8m-37.8 .1h.8m10 0h.8m-.1 0h.8m.5 0h.8m-.7 0h.8m-.6 0h.8m-.3 0h.8m6.2 0h.8m2.8 0h.8m4.4 0h.8m3.8 0h.8m4.2 0h.8m-.8 0h.8m18.6 0h.8m-56.2 .1h.8m.6 0h.8m1.8 0h.8m-.3 0h.8m2.8 0h.8m2.9 0h.8m-.6 0h.8m.2 0h.8m-.6 0h.8m.2 0h.8m.7 0h.8m-.6 0h.8m1.7 0h.8m4.8 0h.8m-.2 0h.8m3.3 0h.8m-.4 0h.8m10.4 0h.8m4.2 0h.8m-43.8 .1h.8m.1 0h.8m2.7 0h.8m2.5 0h.8m.5 0h.8m-.7 0h.8m7.3 0h.8m-.1 0h.8m-.3 0h.8m1.8 0h.8m.2 0h.8m-.3 0h.8m1.7 0h.8m.8 0h.8m2.6 0h.8m-28 .1h.8m-.7 0h.8m.4 0h.8m3.2 0h.8m2 0h.8m.8 0h.8m.3 0h.8m1.2 0h.8m2.5 0h.8m4.3 0h.8m-26.4 .1h.8m.2 0h.8m1.8 0h.8m4.6 0h.8m1 0h.8m2.7 0h.8m.2 0h.8m-.6 0h.8m-.4 0h.8m1.2 0h.8m.5 0h.8m-.7 0h.8m-.4 0h.8m-.4 0h.8m1.5 0h.8m-.1 0h.8m0 0h.8m-.6 0h.8m2.7 0h.8m.4 0h.8m9.3 0h.8m-36.9 .1h.8m1.6 0h.8m6.9 0h.8m3.8 0h.8m.7 0h.8m.7 0h.8m.2 0h.8m.5 0h.8m-.6 0h.8m-.7 0h.8m.3 0h.8m3 0h.8m3.9 0h.8m-37.3 .1h.8m4.6 0h.8m1.2 0h.8m-.3 0h.8m.5 0h.8m-.6 0h.8m-.2 0h.8m.2 0h.8m1.9 0h.8m-.4 0h.8m1.6 0h.8m.4 0h.8m4 0h.8m0 0h.8m2 0h.8m-.2 0h.8m2.8 0h.8m-22 .1h.8m.2 0h.8m2.4 0h.8m.8 0h.8m2.6 0h.8m-.4 0h.8m.3 0h.8m1.5 0h.8m4.7 0h.8m.3 0h.8m8.7 0h.8m.2 0h.8m.4 0h.8m12.5 0h.8m-50.1 .1h.8m-.6 0h.8m.4 0h.8m0 0h.8m.6 0h.8m1.6 0h.8m-.4 0h.8m2.5 0h.8m1.2 0h.8m.8 0h.8m.2 0h.8m3.7 0h.8m-.7 0h.8m.3 0h.8m-.5 0h.8m2.5 0h.8m22.6 0h.8m-49.2 .1h.8m1.5 0h.8m1.7 0h.8m-.7 0h.8m.2 0h.8m-.5 0h.8m0 0h.8m-.2 0h.8m1 0h.8m.5 0h.8m.3 0h.8m.9 0h.8m1.4 0h.8m1 0h.8m.4 0h.8m2.1 0h.8m.5 0h.8m-.1 0h.8m4.1 0h.8m1.3 0h.8m19.7 0h.8m-49 .1h.8m1.3 0h.8m4 0h.8m.4 0h.8m.3 0h.8m.2 0h.8m1.2 0h.8m4 0h.8m-.3 0h.8m-.3 0h.8m-.1 0h.8m-.7 0h.8m2.3 0h.8m0 0h.8m1.3 0h.8m-.1 0h.8m2.4 0h.8m.2 0h.8m-.7 0h.8m3.8 0h.8m-40.8 .1h.8m2.7 0h.8m2.6 0h.8m-.2 0h.8m-.3 0h.8m-.5 0h.8m.3 0h.8m1 0h.8m.4 0h.8m8.2 0h.8m-.2 0h.8m-.3 0h.8m-.5 0h.8m-.6 0h.8m3.8 0h.8m-.8 0h.8m-.4 0h.8m2.5 0h.8m1.1 0h.8m19.7 0h.8m-51.5 .1h.8m7.6 0h.8m-.3 0h.8m-.4 0h.8m-.3 0h.8m2.7 0h.8m-.1 0h.8m.6 0h.8m1 0h.8m3 0h.8m1.7 0h.8m2 0h.8m13.9 0h.8m4.7 0h.8m-46.6 .1h.8m.3 0h.8m6.4 0h.8m-.6 0h.8m-.7 0h.8m-.1 0h.8m2.2 0h.8m-.6 0h.8m-.2 0h.8m.1 0h.8m3.7 0h.8m1.6 0h.8m-.7 0h.8m3.6 0h.8m2 0h.8m5.9 0h.8m2.7 0h.8m-41.3 .1h.8m3.7 0h.8m1.5 0h.8m-.2 0h.8m-.5 0h.8m-.4 0h.8m5 0h.8m-.6 0h.8m3.6 0h.8m1.9 0h.8m3.1 0h.8m-.4 0h.8m1.6 0h.8m-.3 0h.8m3.2 0h.8m7.3 0h.8m-69.2 .1h.8m29.6 0h.8m.5 0h.8m-.1 0h.8m-.7 0h.8m.3 0h.8m-.6 0h.8m-.8 0h.8m1.8 0h.8m4.4 0h.8m-.5 0h.8m-.5 0h.8m2.7 0h.8m-.2 0h.8m2.6 0h.8m3.2 0h.8m4.5 0h.8m.3 0h.8m3.3 0h.8m7.5 0h.8m-46.8 .1h.8m-.4 0h.8m2.6 0h.8m1.1 0h.8m3.6 0h.8m2.5 0h.8m4.1 0h.8m-.5 0h.8m-.2 0h.8m2 0h.8m1.6 0h.8m1.8 0h.8m-.3 0h.8m0 0h.8m4 0h.8m-.2 0h.8m6 0h.8m.8 0h.8m-.2 0h.8m-40.2 .1h.8m-.1 0h.8m5.4 0h.8m3 0h.8m6.1 0h.8m-.4 0h.8m2 0h.8m6.7 0h.8m-32.7 .1h.8m3.8 0h.8m.7 0h.8m.3 0h.8m4.3 0h.8m3.1 0h.8m0 0h.8m-.4 0h.8m1.4 0h.8m.1 0h.8m3.3 0h.8m.1 0h.8m.1 0h.8m.5 0h.8m-.5 0h.8m-.6 0h.8m4 0h.8m-.7 0h.8m22.6 0h.8m-57.1 .1h.8m4 0h.8m-.7 0h.8m1 0h.8m1.6 0h.8m.4 0h.8m-.2 0h.8m-.6 0h.8m.5 0h.8m1.3 0h.8m.3 0h.8m.3 0h.8m2.7 0h.8m.4 0h.8m-.6 0h.8m-.5 0h.8m.5 0h.8m-.5 0h.8m-.4 0h.8m4.2 0h.8m2.4 0h.8m.9 0h.8m-31.6 .1h.8m-.4 0h.8m-.4 0h.8m3.1 0h.8m-.6 0h.8m.6 0h.8m.7 0h.8m-.7 0h.8m.3 0h.8m3 0h.8m2.5 0h.8m-.5 0h.8m3.5 0h.8m-.5 0h.8m2.8 0h.8m1.6 0h.8m.7 0h.8m-.4 0h.8m13.4 0h.8m-45 .1h.8m-.3 0h.8m2.3 0h.8m-.3 0h.8m-.7 0h.8m3 0h.8m-.4 0h.8m-.1 0h.8m0 0h.8m.7 0h.8m1 0h.8m-.6 0h.8m4.4 0h.8m-.3 0h.8m6.7 0h.8m.5 0h.8m9 0h.8m13 0h.8m3.2 0h.8m-57.7 .1h.8m2.6 0h.8m2.9 0h.8m1.7 0h.8m1.7 0h.8m3.7 0h.8m-.1 0h.8m.3 0h.8m4.3 0h.8m-.5 0h.8m-.7 0h.8m.5 0h.8m2.6 0h.8m15.2 0h.8m-44.1 .1h.8m0 0h.8m9.3 0h.8m-.4 0h.8m1.8 0h.8m-.3 0h.8m1.2 0h.8m1.9 0h.8m4.2 0h.8m.1 0h.8m.8 0h.8m-23.8 .1h.8m3 0h.8m.8 0h.8m1.8 0h.8m8.5 0h.8m11.8 0h.8m3.9 0h.8m6.2 0h.8m-40.7 .1h.8m-.1 0h.8m.6 0h.8m1.2 0h.8m.1 0h.8m-.5 0h.8m1.1 0h.8m0 0h.8m1.4 0h.8m-.2 0h.8m2.1 0h.8m2.5 0h.8m1.4 0h.8m8.7 0h.8m2.4 0h.8m-34.8 .1h.8m-.7 0h.8m6.5 0h.8m-.7 0h.8m1.4 0h.8m-.7 0h.8m2.5 0h.8m3.2 0h.8m2.6 0h.8m-.8 0h.8m3.8 0h.8m-.6 0h.8m19.4 0h.8m-36.7 .1h.8m2.7 0h.8m0 0h.8m.3 0h.8m-.6 0h.8m0 0h.8m-.4 0h.8m-.3 0h.8m.5 0h.8m0 0h.8m-.5 0h.8m2.6 0h.8m-21.8 .1h.8m8.6 0h.8m.8 0h.8m3.2 0h.8m-.1 0h.8m10.6 0h.8m-28.7 .1h.8m0 0h.8m-.1 0h.8m.5 0h.8m2.7 0h.8m.7 0h.8m1.2 0h.8m3.1 0h.8m.4 0h.8m6.2 0h.8m5.9 0h.8m2.7 0h.8m1.4 0h.8m-30.3 .1h.8m-.1 0h.8m.6 0h.8m3.2 0h.8m.2 0h.8m1.1 0h.8m2.4 0h.8m3.8 0h.8m5.5 0h.8m-24.6 .1h.8m3.2 0h.8m6 0h.8m1.5 0h.8m-.1 0h.8m1.6 0h.8m-25 .1h.8m3.3 0h.8m.3 0h.8m1.3 0h.8m3.5 0h.8m6.8 0h.8m4 0h.8m.9 0h.8m.1 0h.8m21.6 0h.8m-45.8 .1h.8m.3 0h.8m5.8 0h.8m3.3 0h.8m9.3 0h.8m.4 0h.8m10.7 0h.8m-38.1 .1h.8m1.7 0h.8m.5 0h.8m4.3 0h.8m5.2 0h.8m6.2 0h.8m.2 0h.8m-.4 0h.8m.7 0h.8m-29.6 .1h.8m.5 0h.8m2.5 0h.8m3.6 0h.8m2.6 0h.8m-.1 0h.8m1 0h.8m3.8 0h.8m-.4 0h.8m2.2 0h.8m3.6 0h.8m.2 0h.8m2 0h.8m6.4 0h.8m2 0h.8m7.2 0h.8m-49.9 .1h.8m.4 0h.8m8.1 0h.8m2.1 0h.8m-.7 0h.8m-.6 0h.8m.9 0h.8m2.2 0h.8m2.5 0h.8m3.5 0h.8m0 0h.8m4 0h.8m-30 .1h.8m6.7 0h.8m-.4 0h.8m.9 0h.8m1.1 0h.8m.1 0h.8m2.6 0h.8m4.9 0h.8m-.8 0h.8m0 0h.8m.4 0h.8m.5 0h.8m14.4 0h.8m-42.1 .1h.8m4.2 0h.8m1.1 0h.8m1.5 0h.8m-.7 0h.8m2.5 0h.8m2.4 0h.8m2.3 0h.8m.1 0h.8m2.2 0h.8m1.2 0h.8m3.4 0h.8m-10.5 .1h.8m-.6 0h.8m4.3 0h.8m.1 0h.8m0 0h.8m-17 .1h.8m5.6 0h.8m-.3 0h.8m6.1 0h.8m-.5 0h.8m1.6 0h.8m2 0h.8m4.7 0h.8m-33.8 .1h.8m1.5 0h.8m5.8 0h.8m.5 0h.8m.5 0h.8m1.3 0h.8m11.5 0h.8m1.6 0h.8m4.5 0h.8m2.4 0h.8m-30 .1h.8m1.1 0h.8m.5 0h.8m2.1 0h.8m-.8 0h.8m1.1 0h.8m-.5 0h.8m5.7 0h.8m3.9 0h.8m.5 0h.8m4.1 0h.8m.7 0h.8m-31.2 .1h.8m4 0h.8m.5 0h.8m1.6 0h.8m3.1 0h.8m.1 0h.8m.1 0h.8m4.1 0h.8m13.8 0h.8m-41.4 .1h.8m9.3 0h.8m.4 0h.8m-.6 0h.8m-.5 0h.8m-.3 0h.8m.6 0h.8m12.8 0h.8m6.1 0h.8m14 0h.8m-37.6 .1h.8m6.3 0h.8m.3 0h.8m8.1 0h.8m-.3 0h.8m-27.7 .1h.8m9 0h.8m-.3 0h.8m2 0h.8m.2 0h.8m20.6 0h.8m9.8 0h.8m-30.9 .1h.8m2.4 0h.8m-22.1 .1h.8m10.3 0h.8m6.1 0h.8m8.8 0h.8m-20.4 .1h.8m10.4 0h.8m12.2 0h.8m-31.3 .1h.8m2.9 0h.8m-.6 0h.8m3.4 0h.8m11.1 0h.8m8.1 0h.8m-22.4 .1h.8m8.5 0h.8m6.5 0h.8m1.8 0h.8m-30 .1h.8m7.8 0h.8m-.4 0h.8m3.7 0h.8m13.9 0h.8m6.4 0h.8m-25.9 .1h.8m7.1 0h.8m9.1 0h.8m1.7 0h.8m1.1 0h.8m4.9 0h.8m5.3 0h.8m-20.4 .1h.8m25.7 0h.8m-34.9 .1h.8m9.8 0h.8m-17.7 .1h.8m1.4 0h.8m2.4 0h.8m.2 0h.8m-18.3 .1h.8m15.1 0h.8m32.7 0h.8m-18.4 .1h.8m3.1 0h.8m-31.3 .1h.8m4.4 .1h.8m13.6 0h.8m8.9 0h.8m.7 0h.8m-23.8 .1h.8m1 0h.8m35.2 0h.8m-40.3 .1h.8m12.1 0h.8m1.3 0h.8m-8.5 .1h.8m-15.2 .1h.8m48 0h.8m-37.5 .1h.8m1.3 0h.8m13.6 0h.8m-27.4 .2h.8m0 0h.8m12.1 .1h.8m-.7 0h.8m2.8 0h.8m2.1 0h.8m-.3 0h.8m18.6 .1h.8m1.1 .1h.8m-7.7 .4h.8m-22.5 .1h.8m-11.2 .3h.8m37.9 .1h.8m-14.7 .1h.8m-21.8 .1h.8m-7.8 .2h.8m6.3 .1h.8m21.7 0h.8m-20.2 .1h.8m3.5 .1h.8m25.5 .1h.8m-39.3 .2h.8m46 .1h.8m-36.5 .4h.8m23.9 .4h.8m-29.5 2.2h.8m23 .1h.8m-41.9 2.6h.8m-4.3 .5h.8m-.1 .2h.8m-1.9 .2h.8m-.4 0h.8m-3.3 .4h.8m.7 0h.8m-3.2 .1h.8m-.5 0h.8m1.6 .1h.8m53.7 0h.8m-54.7 .1h.8m-4.6 .1h.8m4.3 0h.8m-26.2 .6h.8m28.8 .1h.8m-.2 0h.8m-9 .2h.8m.3 0h.8m-20.4 .5h.8m-.6 0h.8m13.1 .2h.8m-12.9 .1h.8m24 0h.8m-12.8 .2h.8m3.2 0h.8m3.8 .1h.8m-25.1 .1h.8m21 0h.8m-3.4 .1h.8m-17.5 .1h.8m-.5 0h.8m8 .1h.8m1.2 0h.8m2.9 0h.8m.7 .1h.8m-8.3 .1h.8m-2 .1h.8m10.2 0h.8m-18.6 .1h.8m10 0h.8m3.5 0h.8m-16.9 .1h.8m2.5 0h.8m4 0h.8m.5 0h.8m2.5 0h.8m15.9 0h.8m-23.6 .1h.8m10.5 0h.8m-8.1 .1h.8m1.5 0h.8m-.2 0h.8m2.4 0h.8m-18.6 .1h.8m8.4 0h.8m3.5 0h.8m-9.3 .1h.8m1.4 .1h.8m.4 .2h.8m5.9 0h.8m1.9 .1h.8m-17.2 .1h.8m5.2 0h.8m3.7 0h.8m2.9 .1h.8m1.7 0h.8m-10.4 .2h.8m4.3 .1h.8m-5.4 .1h.8m-3.8 .1h.8m10.2 0h.8m-6.4 .1h.8m6.3 0h.8m1.6 0h.8m2.1 0h.8m-14.8 .1h.8m6.2 0h.8m-.8 .1h.8m-5.8 .1h.8m2 0h.8m.6 0h.8m-6.9 .1h.8m-.5 0h.8m13.5 0h.8m-9 .1h.8m-22.4 .1h.8m20.2 0h.8m.1 0h.8m-5.4 .1h.8m-8 .1h.8m2.1 0h.8m7.2 0h.8m-14.6 .1h.8m3.6 0h.8m.2 0h.8m3.7 0h.8m-9.9 .1h.8m-5.4 .1h.8m10.3 0h.8m10.5 .1h.8m-16.7 .1h.8m9.7 0h.8m1.2 0h.8m-10.8 .1h.8m5.1 .3h.8m4 0h.8m3.1 0h.8m1.1 0h.8m-17.2 .1h.8m1.4 0h.8m-.6 0h.8m4.6 0h.8m-2.8 .1h.8m4.9 .1h.8m-10.5 .1h.8m7.5 0h.8m9.9 0h.8m-22.7 .1h.8m6.6 0h.8m-11.4 .1h.8m13.1 0h.8m-8.8 .1h.8m12.6 0h.8m-12.7 .1h.8m-3.1 .2h.8m-2 .1h.8m-2.1 .1h.8m3.2 .1h.8m4.5 0h.8m-1.8 .4h.8m-2 .2h.8m-22.2 .7h.8m16.1 .1h.8m9 .3h.8m3.6 .2h.8m-12.2 .3h.8m-4.4 .1h.8m9.1 1.3h.8m-24.5 .1h.8m9 1.5h.8" stroke="#6a6a6a" stroke-width="0.85" fill="none"/>
<g fill="none" stroke="#000" stroke-width="0.8">
<path d="M190.3 96.3l-1 .2-.7-.1-.8-.6-.6-.8-1-2.4-.8-4-.4-5.8 .1-5.8 .6-4.4 1-4.3 1.4-3.5 1.6-2.8 1.9-2.2 2.2-2 2.5-1.5 2.5-.9 2.5-.1 2.3 .4 2.2 1.1 2 1.9 1.4 2.3 .8 2.8 .2 3.5-.7 9.5-.5 3.5-.9 3.3-1.1 3-1.6 2.7-1.8 2.4-2 1.8-1.6 .8-1.7 .7-1.7 .2-3.4-.2-.9 .3-2 1z"/><path d="M190 95.6l-.7 0-.7-.2-.8-.6-.5-.8-1-2.7-.7-3.7-.3-5 .2-5.3 .6-4.7 1.1-4 1.2-3 1.6-2.9 2-2.4 2.3-1.9 2.5-1.5 2.2-.8 2.3-.2 2.3 .5 2.2 1.2 1.7 1.7 1.4 2.5 .6 2.5 .2 3.3-.9 9.4-.6 3.8-.8 3-1.2 2.8-1.4 2.4-1.8 2.1-1.7 1.5-1.5 .9-1.5 .5-1.7 .3-3.3-.2-3.3 1.5z"/><path d="M190.3 94.6l-.7 .2-.8-.2-.7-.6-.5-.7-1-2.5-.7-3.8-.2-5 .2-5 .7-4.4 1-3.8 1.3-3 1.5-2.5 1.9-2.3 2.3-1.9 2.2-1.5 2-.7 2.2-.3 2.3 .3 2 1 1.7 1.7 1.3 2.2 .7 2.5 .1 3.3-.9 9.7-.5 3.3-.8 2.7-1 2.5-1.5 2.5-1.6 2-1.8 1.5-1.4 .9-1.8 .5-4.8 0-2.7 1.4z"/><path d="M190 93.8l-.7 0-.6-.2-1.1-1.4-.9-2.6-.5-3.8-.1-4.8 .3-4.4 .7-4.3 1.1-3.5 1.2-2.8 1.6-2.4 2-2.3 2.3-1.9 2-1.2 2.3-.8 2-.1 2 .4 2 1.2 1.4 1.7 1 2 .6 2.4 0 2.6-1 10-.6 3.2-.8 2.8-1 2.2-1.4 2.2-1.5 1.8-1.7 1.4-1.6 .7-1.4 .4-4.3-.1-3.3 1.6z"/><path d="M190.3 92.9l-.7 0-.8-.2-1-1.3-.9-2.6-.4-3.5-.1-4.3 .3-4.2 .7-4 1.1-3.5 1.2-2.7 1.5-2.3 2.1-2.2 2.5-2.2 2-1.2 1.8-.6 2-.2 1.7 .4 1.7 1 1.5 1.5 1 2 .5 2.2 0 2.6-1 10-.5 3-.8 2.4-1 2.3-1.2 2-1.5 1.6-1.4 1.3-1.6 .8-1.4 .4-4.3-.1-3 1.6z"/><path d="M190.6 91.9l-1.3 .1-.6-.4-.6-.8-.8-2.2-.5-3.3-.1-4 .4-4.5 .7-4 1.1-3.2 1.2-2.6 1.5-2 2.2-2.4 2.5-2.2 1.7-1.1 1.8-.6 1.8-.1 1.7 .4 1.5 .9 1.3 1.4 .9 1.7 .5 2.3 0 2.3-1.1 10-.5 2.7-.8 2.5-.9 2-1.3 2-1.3 1.6-1.6 1.1-1.2 .6-1.2 .3-4.3 0-2.7 1.5z"/><path d="M190.3 91.1l-.7 0-.6-.3-.9-1.2-.6-2.3-.4-3 0-3.7 .3-3.8 .8-3.8 1-3 1.1-2.2 1.5-2.1 2.8-2.9 2.2-1.9 1.8-1 1.4-.5 1.8-.1 1.5 .4 1.5 1 1.1 1.3 .7 1.8 .3 2 0 2-1.1 9.8-.5 2.7-.9 2.5-.9 2-1.1 1.5-1.4 1.5-1.2 .9-1.2 .5-1.3 .3-3.7-.1-3.3 1.7z"/><path d="M190.6 90.1l-.8 .1-.5-.2-.9-1.2-.7-2.2-.3-2.8 0-3.5 .4-3.7 .7-3 1-3 1.1-2.1 1.2-1.8 3.3-3.4 2-1.7 1.5-1 1.4-.5 1.6-.1 1.4 .4 1.5 .9 1 1.3 .6 1.7 .3 1.7-1.2 11.6-.5 2.4-.7 2.3-.9 1.7-1.1 1.6-1.2 1.3-1.2 .9-1.3 .6-1 .2-3.7-.2-3 1.7z"/><path d="M190.8 89.1l-1 .1-.5-.3-.5-.6-.6-1.7-.4-2.8-.1-3.2 .4-3.6 .6-3 1-2.7 .9-1.7 1.2-1.8 5.5-5.5 1.5-1 1.2-.5 1.6-.1 1.2 .3 1.2 .8 1 1.2 .6 1.6 .2 1.4-1.2 11.6-.4 2.2-.8 2.2-.8 1.7-1 1.4-1 1-1.3 .9-2 .6-3.7-.1-2.8 1.6z"/><path d="M190.8 88.2l-1 0-.8-.9-.6-1.7-.3-2.6 0-3 .4-3 .6-2.7 .9-2.5 .9-1.8 1.1-1.5 5.8-5.7 1.2-.8 1.3-.4 1.3-.1 1 .3 1 .6 .9 1.2 .5 1.2 .1 1.5-1 11-.5 2.3-.7 2-1.6 2.7-1 1-1.3 .9-2 .5-2.4-.3-1 .1-2.8 1.7z"/><path d="M191 87.1l-1 .1-.7-.6-.6-1.6-.3-2.2 0-2.8 .4-2.7 .5-2.5 .9-2.2 .8-1.7 1-1.3 6-6 1.2-.8 1.1-.4 1-.1 1 .2 1 .7 .6 .8 .4 1.3 .2 1.3-1 10.4-.4 2.3-.8 2-1.5 2.4-1 1-1 .6-1.8 .5-3.2-.3-1 .4-1.8 1.2z"/><path d="M191 86.1l-.7 .2-.8-.7-.5-1.6-.2-2 0-2.4 .4-2.6 .6-2.2 .8-1.9 1.4-2.3 6.3-6.2 1-.7 1-.4 1-.1 .7 .2 .8 .6 .5 .8 .4 1 0 1.2-.8 10-.5 2.3-.7 1.7-1.4 2.2-1.7 1.3-1.8 .3-3-.3-.8 .2-2 1.4z"/><path d="M191 85.1l-.7 0-.6-.5-.4-1.4-.2-1.9 .5-4.2 .4-1.8 .8-1.8 1.5-2.1 6.3-6 1.7-1 .7-.1 .8 .3 .5 .4 .4 .8 .2 1.8-.5 9.2-.5 2.2-.8 1.8-1.3 1.8-1.5 1-1.5 .3-2.2-.5-.8 0-.8 .3-2 1.4z"/><path d="M191 84.1l-.4 0-.6-.5-.3-1.3-.2-1.5 .4-3.5 1.1-3.1 1.3-1.6 6-5.7 1.5-1 .8-.2 .4 .1 .7 .8 .2 1 .1 7.2-.4 3-.9 2.5-1.1 1.5-1.3 .9-1.5 .2-2.2-.5-.8 0-.8 .3-2 1.4z"/><path d="M191.3 82.8l-.5 .1-.5-.6-.3-2 .3-2.7 1-2.6 1-1.3 5-4.7 1.7-1.1 .8-.2 .5 .2 .4 .7 .3 1.2 .4 5-.4 2.8-1 2.4-1 1.2-1.2 .7-1.2 .1-2-.7-.8-.1-.8 .3-1.7 1.3z"/><path d="M191.6 81.4l-.6 0-.2-.3-.2-1.3 .2-2 .8-1.8 5.2-5.5 1.5-.8 .7-.1 .4 .2 .5 .5 .4 1 .5 3.5-.3 2.5-.9 2.3-1 1-1 .4-1.3-.1-1.7-.8-.8-.2-.8 .3-1.4 1.2z"/><path d="M197.6 80.1l-.8 0-.8-.3-2.4-1.9-.6 .1-1 .9-.2 .1-.1-.4 .3-1.1 1.3-1.1 2.5-3.8 1.2-1.1 1.3-.5 .7 .3 .7 1 .4 1.5 0 2-.2 1.5-.6 1.4-.7 .9-1 .5z"/><path d="M197.8 79.1l-1 0-.9-.5-.7-1-.3-1.3 .4-1.5 .7-1.3 1-1 1-.3 .7 .4 .5 .7 .4 2.3-.6 2.2-.5 .8-.7 .5z"/><path d="M197.8 78.2l-.8 .1-.4-.3-.6-.7-.2-1 .1-1 .5-1 .6-.7 .8-.3 .5 .2 .4 .5 .3 1.6-.4 1.7-.8 .9z"/>
</g>
<g fill="none" stroke="#000" stroke-width="0.7">
<path d="M245.3 87.6l-5 .1-5-.5-4.5-1-3.8-1.4-3.2-2-1.1-1-1.1-1.2-.6-1.3-.2-1 0-1.3 .4-1 .8-1.2 1.2-1.2 3.4-2.2 4.4-1.7 5-1 5.6-.4 5.7 .3 5.3 1 4.2 1.6 2 1 1.5 1.1 1.2 1.3 .9 1.2 .5 1.5 0 1.3-.4 1.2-.7 1.2-1.1 1.3-1.4 1.1-3.7 2-4.6 1.3-5.7 .9z"/><path d="M244.6 87.1l-4.6 0-4.4-.5-4.3-.9-3.7-1.5-3-1.9-1.9-2-.6-1-.3-1.3 .1-1 .4-1 .9-1.2 1-1 3.4-2.1 4.2-1.5 5-1 5.2-.3 5.3 .3 4.7 .9 4.3 1.6 1.7 1 1.5 1.1 1.2 1.2 .7 1.3 .3 1.3 0 1.2-.5 1.2-.6 1-1 1.1-1.6 1.2-3.7 1.8-4.7 1.3-5 .7z"/><path d="M242.8 86.6l-4-.2-4-.5-3.8-1-3.2-1.4-2.5-1.7-1.8-2-.4-1-.2-1 .5-1.8 .9-1.1 1.2-1.1 3.3-1.9 4.2-1.4 4.6-.8 5.2-.3 5 .5 4.5 1 3.7 1.5 1.6 .9 1.4 1.3 1 1.2 .4 1 .2 1.2-.1 1-.6 1.3-.8 1-1.3 1.1-1.5 1-3.7 1.6-4.8 1.1-5 .5z"/><path d="M245.6 85.8l-4.3 .2-4.3-.3-3.7-.8-3.5-1.2-2.8-1.6-2-1.8-.6-1-.3-1-.1-.7 .3-1 .6-1 .9-1 2.8-1.8 3.4-1.4 4.6-1 4.7-.4 4.5 .2 4.2 .7 3.8 1.2 3 1.7 1.1 1 .9 1 .5 1.2 .2 1-.2 1-.4 1-.8 1-1.2 1-3.1 1.8-4 1.3-4.2 .7z"/><path d="M244.6 85.3l-4 .1-3.8-.4-3.5-.8-3-1.1-2.5-1.4-1.8-1.7-.9-1.7 0-1 .3-.7 1.4-1.8 2.5-1.6 3.7-1.5 4-.8 4.3-.3 4.3 .1 4 .7 3.7 1.3 2.8 1.6 1.1 1 .7 1 .4 1 .1 1-.2 1-.5 .7-1.9 1.9-3.2 1.7-3.8 1.1-4.2 .6z"/><path d="M243.3 84.8l-3.5 0-3.2-.4-3-.8-3-1.1-2.4-1.5-1.4-1.4-.6-1.6 .2-1.4 1.4-1.7 2.5-1.5 3.5-1.3 4-.7 4.2-.3 4 .3 3.8 .7 3.2 1.2 2.6 1.7 1.4 1.8 .4 1-.1 .8-.7 1.5-2.3 1.8-3.3 1.5-3.7 1-4 .4z"/><path d="M245.3 84.1l-3.5 .1-3.5-.2-3.3-.6-2.7-.9-2.5-1.3-1.7-1.4-.8-1.5-.1-.7 .2-.8 1.2-1.5 2.2-1.4 3.2-1.2 3.6-.7 3.7-.3 3.7 .1 3.3 .6 3 .9 2.5 1.3 1.8 1.7 .7 1.5 0 .8-.2 .7-1.4 1.5-2.7 1.5-3.2 1.1-3.5 .7z"/><path d="M244.3 83.6l-3.3 .1-3-.3-3-.6-2.4-.9-2.1-1.1-1.5-1.2-.7-1.3 0-.7 .2-.8 1.3-1.5 2-1.2 2.8-1 3.4-.7 3.6-.2 3.4 .2 3.3 .6 2.7 .9 2.4 1.4 1.5 1.5 .4 .8 .1 .7-.5 1.3-1.6 1.3-2.5 1.2-3 .9-3.5 .6z"/><path d="M243 83.1l-2.7-.1-2.7-.3-2.6-.6-2.2-.8-1.8-1-1.2-1.3-.5-1.2 .2-1 1.1-1.2 2-1.2 2.7-.9 3.3-.6 3.2-.2 3.2 .2 2.8 .6 2.8 .9 2.2 1.3 1.3 1.3 .4 1.3-.6 1.3-1.6 1.2-2.7 1.1-3.3 .8-3.3 .4z"/><path d="M245 82.3l-2.7 .2-2.7-.1-2.8-.4-2.2-.7-2-.9-1.5-1.1-.6-1 0-1.3 1-1.2 1.5-.9 2.3-.9 2.7-.5 3-.3 2.8 .1 2.5 .4 2.5 .7 2.2 1 1.7 1.2 .8 1.2 0 1-.9 1.1-1.8 1-2.5 .8-3.3 .6z"/><path d="M244.8 81.8l-2.5 .2-2.5-.1-2.5-.4-2-.5-1.7-.8-1.3-.9-.8-1 0-1 .6-1 1.4-1 2.1-.8 2.4-.5 2.8-.3 2.5 .1 2.5 .3 2.2 .6 2.3 1 1.6 1.1 .8 1-.1 1-.9 1-1.7 .8-2.4 .8-2.8 .4z"/><path d="M244.8 81.3l-4.5 .1-2.3-.3-2-.5-1.7-.7-1.2-.9-.5-.7-.1-1 .7-1 1.2-.7 1.6-.7 2.3-.5 2.3-.2 2.4 .1 2.3 .2 2.3 .6 2 .8 1.4 1 .8 .9-.1 1-.9 .9-1.5 .7-2 .5-2.5 .4z"/><path d="M245.3 80.8l-4.5 .2-3.9-.7-1.3-.5-1.3-.8-.6-.7-.1-1 .5-.7 1.1-.8 1.6-.6 2-.4 4-.1 4 .7 1.8 .7 1.4 .8 .9 .9 0 .8-.6 .7-1 .6-1.7 .5-2.3 .4z"/><path d="M245.8 80.3l-4 .2-3.8-.4-2.5-1.1-.7-.7-.2-.7 .4-.8 .6-.5 1.2-.5 1.8-.5 3.4-.2 3.6 .5 3.2 1.2 1 .8 .3 .7-.5 .7-.8 .5-3 .8z"/><path d="M244.6 80.1l-3.3 0-3-.5-2-.9-.6-.7 0-.4 .3-.7 .8-.5 2.5-.7 3.3-.1 3.2 .5 2.5 1 .8 .7 .1 .5-.4 .6-1 .5-3.2 .7z"/><path d="M245.6 79.6l-3.3 .1-3-.3-2-.8-.5-.6 0-.4 .3-.6 .7-.4 2-.6 2.5 0 2.5 .3 2.3 .7 .8 .6 .3 .4-.1 .6-.5 .4-2 .6z"/><path d="M244.3 79.3l-2.5 0-2-.3-1.6-.7-.3-.7 .9-.8 1.8-.4 2.2 0 2.2 .4 1.8 .8 .5 .4 0 .3-1 .6-2 .4z"/><path d="M245 78.8l-2 .2-2-.2-1.5-.5-.3-.3-.1-.4 .7-.6 1.2-.2 1.8 0 1.5 .2 1.4 .6 .5 .4-.3 .6-.9 .2z"/><path d="M244 78.6l-2.4-.1-.8-.2-.6-.5 .4-.4 .7-.2 2.3 .1 .9 .3 .6 .4-.2 .3-.9 .3z"/><path d="M243.8 78.1l-1.2 .1-.9-.2-.2-.2 .5-.2 .8 0 1 .2 0 .3z"/>
</g>
<g fill="none" stroke="#000" stroke-width="0.5">
<path d="M209.6 113.1l-3 .2-2.8-.5-2.2-1.2-1.5-1.6-.8-2.2 0-2.5 .8-2.7 1.5-2.8 2.1-2.8 2.6-2.3 3.3-2.2 3.2-1.6 3.2-.9 3-.3 2.8 .4 2.2 1 1.2 .9 .9 1.3 .5 1.5 .2 1.5-.2 1.7-.4 1.8-.8 1.8-1 1.7-1.3 1.7-1.7 1.8-3.6 2.9-4.2 2.2-4 1.2z"/><path d="M209.6 110.8l-2.3 0-2-.4-1.7-1.1-1-1.4-.6-1.9 .2-2 .8-2.2 1.1-2 1.7-2 2.2-2 2.6-1.7 2.4-1.1 2.6-.7 2.4-.2 2.3 .4 1.7 .8 .8 .8 .6 .9 .5 1.3 .1 1.3-.6 2.7-1.6 3-2.4 2.7-3.1 2.4-3.3 1.6-3.4 .8z"/><path d="M211 108.8l-2 .2-1.7-.2-1.5-.7-1-1.1-.5-1.4-.1-1.6 .5-1.7 .9-1.7 1.3-1.8 1.7-1.5 2-1.4 2-1 2.2-.7 2-.2 1.8 .2 1.4 .6 1.3 1.4 .5 1.8-.3 2.3-1.2 2.3-1.7 2.1-2.3 1.9-2.5 1.4-2.8 .8z"/><path d="M211.8 107.1l-1.5 .2-1.3-.1-1.2-.5-.9-.7-.5-1-.2-1.2 .3-1.2 .6-1.6 1.1-1.4 1.3-1.3 1.5-1.1 1.6-.7 1.7-.6 1.5-.2 1.2 .1 1.3 .5 1 1 .5 1.5-.2 1.5-.8 1.7-1.4 1.8-1.6 1.4-2 1.2-2 .7z"/>
</g>
<path d="M349 35.8h.8m12.2 1.5h.8m-10.4 .5h.8m-11.6 .6h.8m16.2 .2h.8m-1.8 .2h.8m-13.8 .6h.8m-7.8 .8h.8m-3.7 .1h.8m16.1 0h.8m11 .1h.8m-8.4 .6h.8m-16.9 .3h.8m9.1 .3h.8m.8 .1h.8m-4.7 1.4h.8m1.6 0h.8m-3.3 .2h.8m-2.5 .1h.8m4.8 .3h.8m1.9 .1h.8m21.3 .1h.8m-22.9 .7h.8m-31.2 .1h.8m27.7 0h.8m-3 .4h.8m2 0h.8m-7.7 .1h.8m-15.9 .1h.8m7.2 0h.8m4.8 .2h.8m-.1 0h.8m4.4 0h.8m-5 .1h.8m6.5 0h.8m-9.4 .3h.8m4.5 .4h.8m-13.8 .1h.8m8.9 .1h.8m2.2 .1h.8m6.5 0h.8m-10.3 .1h.8m3.2 0h.8m-6.5 .1h.8m8.1 0h.8m-10.5 .2h.8m-25.9 .2h.8m24.8 .1h.8m4.7 .2h.8m-.9 .1h.8m-13.4 .1h.8m6.2 0h.8m2.7 0h.8m-10.8 .2h.8m5.4 0h.8m6.4 .1h.8m15.9 0h.8m-40.2 .3h.8m20 0h.8m-4.3 .1h.8m-3 .1h.8m-1.4 .1h.8m11 0h.8m-10.4 .1h.8m.4 0h.8m-24.2 .2h.8m8.4 .1h.8m2 0h.8m1.1 0h.8m11.1 .2h.8m-.4 0h.8m-10.6 .1h.8m4.2 0h.8m8 0h.8m-9.6 .1h.8m-6.5 .1h.8m1.5 .1h.8m.6 0h.8m3.3 0h.8m-3.2 .1h.8m.7 0h.8m-.3 0h.8m1.3 0h.8m-6 .1h.8m4.7 .1h.8m-.6 0h.8m-18.6 .1h.8m13.8 0h.8m-2.7 .1h.8m1.7 0h.8m10.7 0h.8m-22.1 .1h.8m7.7 0h.8m1.5 0h.8m.7 .1h.8m-8.8 .1h.8m.1 0h.8m6 0h.8m-8.1 .1h.8m-1 .1h.8m2.4 0h.8m9.8 0h.8m-17.8 .1h.8m.6 .1h.8m4.1 .1h.8m11.1 0h.8m-19.6 .1h.8m16 0h.8m-24.5 .1h.8m17.2 0h.8m-9.1 .1h.8m1.8 0h.8m7.4 0h.8m-.6 0h.8m2.3 0h.8m-31.6 .1h.8m12.6 .1h.8m.4 0h.8m7.4 0h.8m-12.1 .2h.8m9.7 0h.8m-.4 0h.8m.9 .1h.8m-.5 0h.8m-6.5 .1h.8m3.4 0h.8m-4.3 .2h.8m-.6 0h.8m-5.4 .1h.8m6.1 0h.8m3.7 0h.8m-11.8 .1h.8m2.6 0h.8m7.4 0h.8m1.8 0h.8m-9 .2h.8m-9.5 .1h.8m12.8 0h.8m.2 0h.8m-9.4 .2h.8m8.5 0h.8m-19.5 .1h.8m4.4 0h.8m1.6 0h.8m.5 0h.8m-8.2 .1h.8m4.7 0h.8m-9.5 .1h.8m9.8 0h.8m23.3 0h.8m-33.2 .2h.8m9.2 0h.8m1.7 .1h.8m4 0h.8m-10 .1h.8m-16.7 .1h.8m10 0h.8m2.6 0h.8m-.6 0h.8m5 0h.8m1.1 0h.8m-4.1 .1h.8m8.9 0h.8m-16.6 .1h.8m1.5 0h.8m-.3 0h.8m1.1 0h.8m-1.2 .1h.8m-2.5 .2h.8m3.8 0h.8m-.4 0h.8m-4.6 .1h.8m-.6 0h.8m9.3 0h.8m11.7 0h.8m-14.5 .1h.8m-23.9 .1h.8m4.7 0h.8m14.6 0h.8m14.4 0h.8m-31.2 .1h.8m3.6 0h.8m6.1 0h.8m5.2 0h.8m-17.9 .1h.8m2.1 0h.8m1.7 .1h.8m.9 0h.8m-9.4 .1h.8m6.5 0h.8m13.5 0h.8m-10.6 .1h.8m-14.7 .1h.8m2.4 0h.8m.9 0h.8m7.7 0h.8m1.6 0h.8m8.8 0h.8m-18 .1h.8m.3 0h.8m2.7 0h.8m4 0h.8m1.6 0h.8m-16.1 .1h.8m4.9 0h.8m3.9 0h.8m.9 0h.8m-16.4 .1h.8m8.3 0h.8m-4.1 .1h.8m5.3 0h.8m.7 0h.8m3.5 0h.8m23.1 0h.8m-37.5 .1h.8m13.9 0h.8m-15.9 .1h.8m3.2 0h.8m1.9 0h.8m-.5 0h.8m6.6 .1h.8m-27.9 .1h.8m7.3 0h.8m-.5 0h.8m15.7 0h.8m2.8 0h.8m-6.6 .1h.8m-15.3 .1h.8m21.4 0h.8m-22.5 .1h.8m13 0h.8m1.5 0h.8m-14.4 .1h.8m7.7 0h.8m2.6 0h.8m-16.2 .1h.8m9.2 0h.8m4.4 0h.8m-40.1 .1h.8m28.7 0h.8m9.6 0h.8m.5 0h.8m4.6 0h.8m9.8 0h.8m-39.6 .1h.8m14.5 0h.8m-.2 0h.8m-3.9 .1h.8m9.1 0h.8m-11.9 .1h.8m5.4 0h.8m5.4 0h.8m-24.8 .1h.8m.3 0h.8m13.4 0h.8m-4.3 .1h.8m-.4 0h.8m-9.9 .1h.8m26.9 0h.8m-16 .1h.8m-.8 0h.8m3 0h.8m2.1 0h.8m.7 0h.8m-9.3 .1h.8m2.9 0h.8m1.4 0h.8m-.3 0h.8m15.1 0h.8m-20.5 .2h.8m-.1 0h.8m6.4 0h.8m19.7 0h.8m-35.2 .1h.8m12.2 0h.8m9.8 0h.8m-22.5 .1h.8m-15.2 .1h.8m1.9 0h.8m11.9 0h.8m1.5 0h.8m4.1 0h.8m-11.4 .1h.8m-.7 0h.8m11.1 0h.8m-.4 0h.8m10 0h.8m-20.9 .1h.8m0 0h.8m1.2 0h.8m-8 .1h.8m5.4 0h.8m1.3 0h.8m-8 .1h.8m2.3 0h.8m.9 0h.8m4.3 0h.8m6.3 0h.8m-.1 0h.8m-59.7 .1h.8m28.5 .1h.8m1.2 0h.8m9.5 0h.8m-.5 0h.8m1.2 0h.8m3.5 0h.8m-2.4 .1h.8m-6.8 .1h.8m3 0h.8m.8 0h.8m-.7 0h.8m-.2 0h.8m-.4 0h.8m14.3 0h.8m-24.1 .1h.8m.1 .1h.8m1.6 0h.8m.7 0h.8m8.4 0h.8m1.5 0h.8m-14.1 .1h.8m1.3 0h.8m.8 0h.8m7.5 .1h.8m2.9 0h.8m-20.8 .1h.8m9.3 0h.8m.3 0h.8m.6 0h.8m4.1 0h.8m22.1 0h.8m-38.9 .2h.8m2.5 0h.8m3.6 0h.8m17.8 0h.8m-32.1 .1h.8m-.2 .1h.8m1.4 0h.8m3.7 0h.8m-3.3 .1h.8m4.4 0h.8m3.2 0h.8m5.5 0h.8m-13.3 .1h.8m-14 .1h.8m10.4 0h.8m4.7 0h.8m-4.5 .1h.8m5 0h.8m20.4 0h.8m8 0h.8m-38 .1h.8m.4 0h.8m1.6 0h.8m-.6 0h.8m17.1 0h.8m-18 .1h.8m3.8 0h.8m1.9 0h.8m15.2 0h.8m-39.4 .1h.8m17.2 0h.8m2.2 0h.8m5.8 0h.8m-11.6 .1h.8m.5 0h.8m-.7 0h.8m.9 0h.8m-3.3 .1h.8m7.9 0h.8m-16.2 .1h.8m5.7 0h.8m-3.9 .1h.8m.7 0h.8m-.6 .1h.8m.3 0h.8m.7 0h.8m-18.1 .1h.8m6.1 0h.8m4.6 0h.8m2.1 0h.8m24 0h.8m-24.7 .1h.8m8.9 0h.8m9.6 0h.8m-26.5 .1h.8m1.7 0h.8m1.4 0h.8m1 0h.8m-19.1 .1h.8m11.9 0h.8m-.4 0h.8m8.6 0h.8m-.7 0h.8m.7 0h.8m2.9 0h.8m-13.8 .1h.8m-15.7 .1h.8m10.5 0h.8m-.4 0h.8m8.7 0h.8m-.1 0h.8m-8.1 .1h.8m-.4 0h.8m-5.5 .1h.8m8.8 0h.8m-5.9 .1h.8m11 0h.8m.3 0h.8m-18.2 .1h.8m1.3 0h.8m24 0h.8m3.4 0h.8m-27.2 .1h.8m1.1 0h.8m5.8 0h.8m18.1 0h.8m-32.7 .1h.8m-.1 0h.8m39.3 0h.8m-43.7 .1h.8m3.1 0h.8m-.7 0h.8m15 0h.8m6.6 0h.8m-23.1 .2h.8m1.4 0h.8m10.9 0h.8m-25.5 .1h.8m13.4 0h.8m-.6 0h.8m8 0h.8m-19.3 .1h.8m-.2 0h.8m1 0h.8m.3 0h.8m.7 0h.8m-.5 0h.8m0 0h.8m4.6 0h.8m-6.3 .1h.8m2.5 0h.8m-12.8 .1h.8m9.1 0h.8m2.2 0h.8m43.1 0h.8m-48.9 .1h.8m2.4 0h.8m4.3 0h.8m25 0h.8m-38.4 .1h.8m-10.2 .1h.8m13.5 0h.8m-.3 0h.8m1.1 0h.8m10.7 0h.8m-20.1 .1h.8m-.4 0h.8m2.2 0h.8m.2 0h.8m2.3 0h.8m-.8 0h.8m-.7 0h.8m1.5 0h.8m-9.8 .1h.8m6.9 0h.8m-9 .1h.8m-.2 0h.8m4.8 0h.8m28.1 0h.8m-26.8 .1h.8m4.3 0h.8m-13 .1h.8m10.9 0h.8m-14.6 .1h.8m-.6 0h.8m-.5 0h.8m30.1 .1h.8m5.5 0h.8m13.3 0h.8m-47.2 .1h.8m4.9 0h.8m-13.2 .1h.8m11.6 0h.8m6.9 0h.8m7.8 0h.8m-36 .1h.8m12.7 0h.8m-.5 0h.8m13.4 0h.8m9.4 0h.8m4.7 0h.8m-45 .1h.8m6.5 0h.8m4.8 0h.8m2.2 0h.8m21.4 0h.8m-34.4 .1h.8m3.5 0h.8m1.6 0h.8m1.7 0h.8m1.5 0h.8m.7 0h.8m25 0h.8m1.4 0h.8m-34.1 .1h.8m2.1 0h.8m7.5 0h.8m10 0h.8m-19.5 .1h.8m6.1 0h.8m19.7 0h.8m10.6 0h.8m-49.3 .1h.8m3.6 0h.8m-.1 0h.8m2.5 0h.8m6.8 0h.8m6.5 0h.8m4.4 0h.8m-35.6 .1h.8m.2 0h.8m13.4 0h.8m1.9 0h.8m1.7 0h.8m5.5 0h.8m3.4 0h.8m-24.8 .1h.8m.8 0h.8m1 0h.8m4.1 0h.8m54.9 0h.8m-61.6 .1h.8m.4 0h.8m-4.6 .1h.8m8.2 0h.8m2.5 0h.8m9.7 0h.8m-29.4 .1h.8m13 0h.8m-4.1 .1h.8m9.9 0h.8m7.7 0h.8m-19.1 .1h.8m23.3 0h.8m-27.4 .1h.8m1 0h.8m16.5 0h.8m-15.8 .1h.8m21.6 0h.8m-30.2 .1h.8m.7 0h.8m2.8 0h.8m.6 0h.8m1.7 0h.8m13.1 0h.8m-16.6 .1h.8m12.1 0h.8m10.1 0h.8m8.5 0h.8m9.2 0h.8m-49.6 .1h.8m3.9 0h.8m4.5 0h.8m7.1 0h.8m3.1 0h.8m1.1 0h.8m4.3 0h.8m-28.2 .1h.8m.9 0h.8m1.4 0h.8m10.9 0h.8m13.4 0h.8m1.4 0h.8m-36.7 .1h.8m.8 0h.8m3.2 0h.8m3.5 0h.8m1.5 0h.8m6 0h.8m-3.9 .1h.8m10.4 0h.8m1.1 0h.8m12.6 0h.8m-47 .1h.8m2.9 0h.8m1.5 0h.8m4.5 0h.8m12.3 0h.8m-.6 .1h.8m1.5 0h.8m5.4 0h.8m-28.9 .1h.8m1.2 0h.8m.9 0h.8m.4 0h.8m-.1 0h.8m26.3 0h.8m-33 .1h.8m1.9 0h.8m1.5 0h.8m1.2 0h.8m1.6 0h.8m-12.4 .1h.8m-.2 0h.8m.5 0h.8m3.7 0h.8m19.4 0h.8m.1 0h.8m-29 .1h.8m2.5 0h.8m0 0h.8m-.1 0h.8m15.7 0h.8m29.3 0h.8m-52.4 .1h.8m9.4 0h.8m2.6 0h.8m16.9 0h.8m-25.1 .1h.8m3.5 0h.8m7.1 0h.8m-20.2 .1h.8m5.7 0h.8m3.1 0h.8m.9 0h.8m-11.2 .1h.8m-.6 0h.8m43.5 0h.8m-49.1 .1h.8m1 0h.8m0 0h.8m10 0h.8m6.1 0h.8m3.3 0h.8m12.5 0h.8m-39 .1h.8m26.3 0h.8m20.6 0h.8m-49.6 .1h.8m2.8 0h.8m.3 0h.8m.1 0h.8m5.8 0h.8m1.6 0h.8m21.9 0h.8m8.9 0h.8m10.8 0h.8m-40.1 .1h.8m26.6 0h.8m-38.7 .1h.8m6.6 0h.8m7.5 0h.8m7.2 0h.8m15.6 0h.8m9.3 0h.8m9.7 0h.8m-69.5 .1h.8m2.3 0h.8m.7 0h.8m2.5 0h.8m-.5 0h.8m4.3 0h.8m3.2 0h.8m14.3 0h.8m-.1 0h.8m11.1 0h.8m-40.6 .1h.8m12.4 0h.8m9.4 0h.8m27 0h.8m-47.8 .1h.8m-.2 0h.8m7.1 0h.8m17.4 0h.8m-.6 0h.8m5.3 0h.8m-38.9 .1h.8m3.7 0h.8m8.5 0h.8m2.8 0h.8m9.3 0h.8m-4.4 .1h.8m-27.2 .1h.8m2.1 0h.8m2.3 0h.8m-.1 0h.8m-.6 0h.8m2.4 0h.8m.7 0h.8m1.5 0h.8m5.2 .1h.8m4.7 0h.8m.5 0h.8m4 0h.8m24.3 0h.8m-45.1 .1h.8m-.6 0h.8m16.1 0h.8m22.1 0h.8m-56.1 .1h.8m6.3 0h.8m1.5 0h.8m21.9 0h.8m11.7 0h.8m16.9 0h.8m-54.7 .1h.8m3.2 0h.8m8.4 0h.8m8.7 0h.8m18.7 0h.8m-50.8 .1h.8m6.3 0h.8m0 0h.8m3 0h.8m1.5 0h.8m6.9 0h.8m35 0h.8m-52 .1h.8m2.6 0h.8m15.1 0h.8m-.4 0h.8m5.8 0h.8m11.3 0h.8m1.6 0h.8m-46.2 .1h.8m1 0h.8m1.4 0h.8m11.1 0h.8m9.8 0h.8m-.2 0h.8m4.7 0h.8m3.1 0h.8m11.3 0h.8m-40.6 .1h.8m-.3 0h.8m.6 0h.8m9.6 0h.8m0 0h.8m2.5 0h.8m13.3 0h.8m.2 0h.8m8.3 0h.8m-.5 0h.8m-27.6 .1h.8m5 0h.8m.2 0h.8m1 0h.8m0 0h.8m-.3 0h.8m-23.5 .1h.8m10.2 0h.8m8.2 0h.8m2.9 0h.8m20.6 0h.8m-56.3 .1h.8m19.4 0h.8m-.6 0h.8m1.2 0h.8m4.7 0h.8m.1 0h.8m.6 0h.8m-31.4 .1h.8m3.6 0h.8m.3 0h.8m.3 0h.8m.9 0h.8m.1 0h.8m12 0h.8m21.4 0h.8m-40.3 .1h.8m4.5 0h.8m0 0h.8m20.4 0h.8m18.7 0h.8m-49.4 .1h.8m.7 0h.8m.5 0h.8m1.3 0h.8m5.6 0h.8m-.3 0h.8m15.4 0h.8m2.2 0h.8m4.4 0h.8m.1 0h.8m4.6 0h.8m5.2 0h.8m3.8 0h.8m-58.9 .1h.8m2.4 0h.8m2.3 0h.8m3.3 0h.8m1.6 0h.8m8 0h.8m8.6 0h.8m-.8 0h.8m8.4 0h.8m-34 .1h.8m1.8 0h.8m-.2 0h.8m-.4 0h.8m25.4 0h.8m1 0h.8m7 0h.8m-37.1 .1h.8m-.7 0h.8m-.8 0h.8m1.5 0h.8m2 0h.8m3.9 0h.8m8.7 0h.8m7.1 0h.8m5.8 0h.8m1.6 0h.8m-43.2 .1h.8m-.2 0h.8m22.6 0h.8m.8 0h.8m6.5 0h.8m-37.1 .1h.8m5.9 0h.8m-.3 0h.8m2.7 0h.8m-.7 0h.8m2.6 0h.8m18.8 0h.8m2.8 0h.8m25.8 0h.8m-64.2 .1h.8m2 0h.8m-.3 0h.8m-.2 0h.8m0 0h.8m4.6 0h.8m3.3 0h.8m2.5 0h.8m-.6 0h.8m3.5 0h.8m29.2 0h.8m-32.3 .1h.8m6.2 0h.8m4.2 0h.8m3.9 0h.8m.3 0h.8m1.6 0h.8m1.5 0h.8m8.4 0h.8m2 0h.8m-46.4 .1h.8m1.8 0h.8m7 0h.8m0 0h.8m25.4 0h.8m4.8 0h.8m-44.3 .1h.8m1 0h.8m5.5 0h.8m-.5 0h.8m5.2 0h.8m2.6 0h.8m4.5 0h.8m22.2 0h.8m-52.7 .1h.8m1.7 0h.8m1.3 0h.8m4.5 0h.8m3.8 0h.8m8 0h.8m7.4 0h.8m19.6 0h.8m3 0h.8m-40.9 .1h.8m2.7 0h.8m.1 0h.8m5.8 0h.8m3 0h.8m16.3 0h.8m4.1 0h.8m1.1 0h.8m.4 0h.8m6.7 0h.8m.8 0h.8m-55.1 .1h.8m12.7 0h.8m13.7 0h.8m13.6 0h.8m-49.6 .1h.8m2 0h.8m6.5 0h.8m5.9 0h.8m7.2 0h.8m1.5 0h.8m-.8 0h.8m4.2 0h.8m1.5 0h.8m10.9 0h.8m-51.8 .1h.8m1.6 0h.8m-.4 0h.8m1.2 0h.8m.3 0h.8m1.3 0h.8m-.7 0h.8m1.5 0h.8m3.1 0h.8m4.2 0h.8m.1 0h.8m-.2 0h.8m-.6 0h.8m2.5 0h.8m-.4 0h.8m3.2 0h.8m8.1 0h.8m3.6 0h.8m25.1 0h.8m-60.9 .1h.8m1 0h.8m-.2 0h.8m2 0h.8m11.9 0h.8m2.2 0h.8m5.9 0h.8m1.6 0h.8m8 0h.8m.7 0h.8m-44.9 .1h.8m4.5 0h.8m9.1 0h.8m12.7 0h.8m6.4 0h.8m0 0h.8m-.3 0h.8m11.5 0h.8m-46.3 .1h.8m1.6 0h.8m11.6 0h.8m-.7 0h.8m13.6 0h.8m.2 0h.8m3.4 0h.8m1.9 0h.8m-23.5 .1h.8m19.6 0h.8m.7 0h.8m4.7 0h.8m0 0h.8m3.3 0h.8m11.6 0h.8m-69.9 .1h.8m4.2 0h.8m0 0h.8m5.6 0h.8m15.3 0h.8m13.8 0h.8m.5 0h.8m-.5 0h.8m11 0h.8m-55.5 .1h.8m2.1 0h.8m3.2 0h.8m13.4 0h.8m3.5 0h.8m.1 0h.8m-.7 0h.8m-.1 0h.8m.8 0h.8m1.9 0h.8m8.3 0h.8m-38.6 .1h.8m5.6 0h.8m1.7 0h.8m.6 0h.8m8.4 0h.8m.4 0h.8m6 0h.8m.7 0h.8m1.9 0h.8m4.3 0h.8m3.3 0h.8m.3 0h.8m.6 0h.8m-42.2 .1h.8m.7 0h.8m15.3 0h.8m1 0h.8m2.7 0h.8m3.4 0h.8m-.5 0h.8m6 0h.8m16.1 0h.8m-54.4 .1h.8m10.6 0h.8m18.6 0h.8m-35 .1h.8m9.1 0h.8m1.2 0h.8m3.5 0h.8m2.5 0h.8m3.9 0h.8m.3 0h.8m.5 0h.8m-.1 0h.8m.4 0h.8m.8 0h.8m2.9 0h.8m1.7 0h.8m.6 0h.8m3.3 0h.8m5 0h.8m.6 0h.8m4.1 0h.8m11.4 0h.8m-63 .1h.8m-.2 0h.8m7.8 0h.8m5.9 0h.8m2.9 0h.8m3.3 0h.8m2.8 0h.8m.8 0h.8m7.1 0h.8m3.5 0h.8m13.5 0h.8m-58.9 .1h.8m0 0h.8m12.6 0h.8m10.5 0h.8m9.8 0h.8m2 0h.8m1.5 0h.8m3.8 0h.8m.3 0h.8m-.7 0h.8m1.4 0h.8m-50.1 .1h.8m-.7 0h.8m.8 0h.8m2.4 0h.8m1.6 0h.8m5 0h.8m-.4 0h.8m.6 0h.8m1.7 0h.8m.4 0h.8m1 0h.8m1.5 0h.8m.3 0h.8m4.5 0h.8m1.2 0h.8m2.1 0h.8m-.5 0h.8m-32.9 .1h.8m1.5 0h.8m5.4 0h.8m5.9 0h.8m1.2 0h.8m.7 0h.8m.3 0h.8m.5 0h.8m.9 0h.8m.8 0h.8m3.4 0h.8m0 0h.8m5.7 0h.8m4.1 0h.8m7 0h.8m-.3 0h.8m10.3 0h.8m-60.4 .1h.8m7 0h.8m1.4 0h.8m8.2 0h.8m5.5 0h.8m1.6 0h.8m2.5 0h.8m-.4 0h.8m2.2 0h.8m.9 0h.8m24.7 0h.8m-65.4 .1h.8m6 0h.8m12.8 0h.8m1.8 0h.8m10 0h.8m23.3 0h.8m7.5 0h.8m-41.9 .1h.8m8 0h.8m9.4 0h.8m1.2 0h.8m6.4 0h.8m1.5 0h.8m-56.9 .1h.8m4.2 0h.8m13.5 0h.8m-.7 0h.8m1.8 0h.8m-.6 0h.8m5.6 0h.8m.2 0h.8m-.1 0h.8m2.2 0h.8m.9 0h.8m-.3 0h.8m2.8 0h.8m.8 0h.8m5.7 0h.8m1.6 0h.8m-33.7 .1h.8m5.3 0h.8m8.4 0h.8m4.3 0h.8m1 0h.8m.7 0h.8m10.5 0h.8m-38.8 .1h.8m-.2 0h.8m7.4 0h.8m.8 0h.8m6.6 0h.8m-.7 0h.8m4.4 0h.8m-.1 0h.8m0 0h.8m5.3 0h.8m8.7 0h.8m.7 0h.8m-54.5 .1h.8m2.1 0h.8m-.2 0h.8m5.4 0h.8m2.4 0h.8m-.6 0h.8m8.1 0h.8m.9 0h.8m4.6 0h.8m-.8 0h.8m3.4 0h.8m3.7 0h.8m3.6 0h.8m8.3 0h.8m1.1 0h.8m8.7 0h.8m-50.6 .1h.8m5.6 0h.8m-.1 0h.8m-.4 0h.8m2.5 0h.8m1.4 0h.8m3.2 0h.8m.2 0h.8m14.5 0h.8m2.7 0h.8m2 0h.8m4.5 0h.8m.5 0h.8m-55.5 .1h.8m6.2 0h.8m-.7 0h.8m9 0h.8m1.3 0h.8m4.6 0h.8m5.5 0h.8m.4 0h.8m5.5 0h.8m1.6 0h.8m2.2 0h.8m.1 0h.8m-49.9 .1h.8m3 0h.8m2.7 0h.8m-.3 0h.8m.7 0h.8m6.3 0h.8m4.2 0h.8m2.5 0h.8m2.5 0h.8m1.9 0h.8m-.6 0h.8m.6 0h.8m-30.4 .1h.8m-.2 0h.8m4.7 0h.8m3.2 0h.8m7.8 0h.8m.5 0h.8m5.5 0h.8m-.5 0h.8m-.5 0h.8m8 0h.8m-.4 0h.8m0 0h.8m1.3 0h.8m1.1 0h.8m12.1 0h.8m-56.3 .1h.8m2.5 0h.8m1.6 0h.8m4.5 0h.8m2 0h.8m2.2 0h.8m3.8 0h.8m17.7 0h.8m.1 0h.8m5.3 0h.8m1.4 0h.8m-.3 0h.8m1.2 0h.8m-48.1 .1h.8m-.8 0h.8m.5 0h.8m1.2 0h.8m.2 0h.8m2.8 0h.8m4 0h.8m-.3 0h.8m.2 0h.8m-.5 0h.8m4.7 0h.8m0 0h.8m.4 0h.8m7.6 0h.8m.8 0h.8m7.6 0h.8m12.7 0h.8m-60.4 .1h.8m.6 0h.8m2.1 0h.8m-.7 0h.8m2.3 0h.8m1.2 0h.8m9 0h.8m.3 0h.8m4.9 0h.8m.6 0h.8m3.6 0h.8m-.4 0h.8m.8 0h.8m-.6 0h.8m2.2 0h.8m4.6 0h.8m6.8 0h.8m-52.2 .1h.8m-.7 0h.8m2.2 0h.8m.3 0h.8m-.4 0h.8m-.8 0h.8m-.4 0h.8m4.4 0h.8m2.7 0h.8m-.2 0h.8m-.6 0h.8m-.8 0h.8m-.5 0h.8m10.7 0h.8m0 0h.8m4.6 0h.8m1.3 0h.8m2.4 0h.8m4 0h.8m-43.5 .1h.8m2.6 0h.8m2.4 0h.8m0 0h.8m4 0h.8m2.1 0h.8m12.2 0h.8m1.4 0h.8m4.3 0h.8m.2 0h.8m-.4 0h.8m4.6 0h.8m3.4 0h.8m6.9 0h.8m-52.3 .1h.8m6.9 0h.8m12.1 0h.8m3.5 0h.8m3.3 0h.8m.3 0h.8m6.9 0h.8m3.9 0h.8m.4 0h.8m2.1 0h.8m-42.8 .1h.8m7.4 0h.8m-.5 0h.8m.8 0h.8m1.8 0h.8m6.6 0h.8m0 0h.8m2.1 0h.8m3.6 0h.8m-.5 0h.8m.8 0h.8m4.3 0h.8m1 0h.8m2.3 0h.8m-.1 0h.8m6.7 0h.8m1.4 0h.8m1.8 0h.8m-55.1 .1h.8m0 0h.8m-.7 0h.8m1.6 0h.8m.3 0h.8m3 0h.8m-.5 0h.8m6.7 0h.8m1.8 0h.8m.3 0h.8m-.2 0h.8m-.4 0h.8m8.8 0h.8m2.2 0h.8m14.6 0h.8m13.2 0h.8m1.4 0h.8m-71.6 .1h.8m8.3 0h.8m-.2 0h.8m4.2 0h.8m9.1 0h.8m5.1 0h.8m-.5 0h.8m-.4 0h.8m2.3 0h.8m.9 0h.8m-.1 0h.8m2 0h.8m-.4 0h.8m.8 0h.8m4.7 0h.8m.9 0h.8m12.8 0h.8m-54.5 .1h.8m3.4 0h.8m9.8 0h.8m1.9 0h.8m-.3 0h.8m-.2 0h.8m-.7 0h.8m-.4 0h.8m-.6 0h.8m3.5 0h.8m1 0h.8m.3 0h.8m4.8 0h.8m18.3 0h.8m-59.2 .1h.8m1.5 0h.8m3.5 0h.8m3.2 0h.8m7.3 0h.8m.9 0h.8m4.3 0h.8m4.3 0h.8m2.5 0h.8m1 0h.8m3.1 0h.8m4 0h.8m13.3 0h.8m.7 0h.8m-60.7 .1h.8m4.2 0h.8m1.9 0h.8m6.7 0h.8m.3 0h.8m4.8 0h.8m.5 0h.8m.3 0h.8m6.3 0h.8m.1 0h.8m.6 0h.8m7.8 0h.8m-.4 0h.8m.1 0h.8m4.4 0h.8m5 0h.8m5.7 0h.8m-50.2 .1h.8m5 0h.8m3.7 0h.8m1.5 0h.8m-.8 0h.8m-.6 0h.8m2.1 0h.8m1 0h.8m3 0h.8m.5 0h.8m-.6 0h.8m-.1 0h.8m4.2 0h.8m3.9 0h.8m.8 0h.8m2.1 0h.8m3.2 0h.8m3.5 0h.8m5.7 0h.8m-66.5 .1h.8m16.1 0h.8m1.1 0h.8m.5 0h.8m1.5 0h.8m3.5 0h.8m.2 0h.8m1.3 0h.8m-.1 0h.8m-.4 0h.8m-.3 0h.8m1.8 0h.8m-.4 0h.8m1.6 0h.8m-.4 0h.8m12.1 0h.8m6.6 0h.8m-43.2 .1h.8m2.9 0h.8m1 0h.8m2.1 0h.8m-.3 0h.8m-.1 0h.8m0 0h.8m.7 0h.8m4.5 0h.8m.2 0h.8m.9 0h.8m-.4 0h.8m3.5 0h.8m4.1 0h.8m3.1 0h.8m9 0h.8m-56.7 .1h.8m-.6 0h.8m3 0h.8m-.3 0h.8m1.1 0h.8m-.2 0h.8m3.2 0h.8m7.8 0h.8m2.1 0h.8m9.8 0h.8m-.5 0h.8m.9 0h.8m-.2 0h.8m.9 0h.8m-.1 0h.8m1.1 0h.8m5 0h.8m1.4 0h.8m4.8 0h.8m1.4 0h.8m-58.9 .1h.8m5.6 0h.8m1.2 0h.8m1 0h.8m5.6 0h.8m-.4 0h.8m11.3 0h.8m-.2 0h.8m.4 0h.8m1.7 0h.8m2.3 0h.8m.5 0h.8m1.9 0h.8m6.9 0h.8m.5 0h.8m-51.1 .1h.8m9.7 0h.8m2.9 0h.8m4.3 0h.8m2.8 0h.8m-.3 0h.8m-.3 0h.8m6.7 0h.8m-.1 0h.8m2.9 0h.8m2 0h.8m2.4 0h.8m1.9 0h.8m-.5 0h.8m1.7 0h.8m9.8 0h.8m.4 0h.8m7.1 0h.8m-66.3 .1h.8m1.2 0h.8m9.6 0h.8m.1 0h.8m7 0h.8m-.3 0h.8m1.9 0h.8m.4 0h.8m6 0h.8m.7 0h.8m.3 0h.8m1.4 0h.8m-.1 0h.8m2.3 0h.8m2.4 0h.8m-34.1 .1h.8m2.1 0h.8m-.8 0h.8m3.6 0h.8m3.1 0h.8m.6 0h.8m-.3 0h.8m6 0h.8m1.9 0h.8m-.7 0h.8m1.5 0h.8m.8 0h.8m9.8 0h.8m3.4 0h.8m-53.1 .1h.8m4.4 0h.8m-.1 0h.8m-.7 0h.8m11.5 0h.8m1.3 0h.8m.4 0h.8m0 0h.8m.5 0h.8m-.5 0h.8m-.5 0h.8m.1 0h.8m3 0h.8m.5 0h.8m-.4 0h.8m-.6 0h.8m-.2 0h.8m1.5 0h.8m1.1 0h.8m2 0h.8m-.4 0h.8m-.6 0h.8m-.2 0h.8m4 0h.8m.5 0h.8m4 0h.8m5.1 0h.8m6.1 0h.8m-59.6 .1h.8m3.2 0h.8m4.8 0h.8m1.1 0h.8m.1 0h.8m-.6 0h.8m3.5 0h.8m5.4 0h.8m1.3 0h.8m3 0h.8m.4 0h.8m.9 0h.8m0 0h.8m2.7 0h.8m5.4 0h.8m-37.6 .1h.8m2.2 0h.8m2.2 0h.8m-.4 0h.8m-.2 0h.8m.2 0h.8m2.9 0h.8m-.1 0h.8m1.3 0h.8m4.6 0h.8m-.3 0h.8m2.2 0h.8m-.5 0h.8m1.4 0h.8m.5 0h.8m1 0h.8m.5 0h.8m3.7 0h.8m3.6 0h.8m4.6 0h.8m.2 0h.8m-51.1 .1h.8m.4 0h.8m.7 0h.8m1.1 0h.8m13.3 0h.8m.8 0h.8m.2 0h.8m4.8 0h.8m11 0h.8m2.1 0h.8m.1 0h.8m.3 0h.8m11.8 0h.8m-53.3 .1h.8m3.9 0h.8m2.4 0h.8m.3 0h.8m.5 0h.8m8.3 0h.8m-.3 0h.8m1.2 0h.8m.4 0h.8m2.8 0h.8m8.3 0h.8m-.4 0h.8m2.4 0h.8m.1 0h.8m1.4 0h.8m-49.8 .1h.8m-.1 0h.8m7.4 0h.8m1.8 0h.8m9.7 0h.8m2.6 0h.8m3 0h.8m.2 0h.8m4.8 0h.8m-.4 0h.8m-.5 0h.8m.7 0h.8m-.3 0h.8m1.8 0h.8m7.9 0h.8m3.4 0h.8m-56.9 .1h.8m-.5 0h.8m4.5 0h.8m.3 0h.8m6.6 0h.8m-.2 0h.8m4.9 0h.8m-.6 0h.8m-.5 0h.8m.2 0h.8m1.4 0h.8m1.4 0h.8m.1 0h.8m3.9 0h.8m7.5 0h.8m3.3 0h.8m4.2 0h.8m2.5 0h.8m8 0h.8m-.7 0h.8m-58.5 .1h.8m.8 0h.8m7.4 0h.8m1.8 0h.8m2.3 0h.8m7.7 0h.8m1.5 0h.8m-.5 0h.8m.5 0h.8m6.1 0h.8m7 0h.8m1.8 0h.8m12.8 0h.8m-56.6 .1h.8m.6 0h.8m-.1 0h.8m6.5 0h.8m.1 0h.8m-.7 0h.8m6.3 0h.8m-.7 0h.8m.9 0h.8m11.8 0h.8m2 0h.8m1.2 0h.8m10.5 0h.8m5.5 0h.8m-64.6 .1h.8m11.9 0h.8m.7 0h.8m3.5 0h.8m8 0h.8m2.5 0h.8m-.7 0h.8m1.7 0h.8m7.5 0h.8m3.6 0h.8m-.8 0h.8m1 0h.8m-.3 0h.8m6.3 0h.8m4.9 0h.8m-53.1 .1h.8m7.5 0h.8m1.5 0h.8m1.2 0h.8m6.4 0h.8m3.5 0h.8m7.7 0h.8m5.4 0h.8m3.2 0h.8m8.6 0h.8m.7 0h.8m-56.8 .1h.8m1.6 0h.8m-.5 0h.8m10.7 0h.8m-.3 0h.8m.9 0h.8m-.7 0h.8m-.2 0h.8m2.4 0h.8m-.1 0h.8m2 0h.8m.3 0h.8m.2 0h.8m9.6 0h.8m2.7 0h.8m9.2 0h.8m2.6 0h.8m-59.9 .1h.8m2.8 0h.8m3.9 0h.8m9.2 0h.8m-.5 0h.8m-.5 0h.8m-.6 0h.8m11.2 0h.8m.2 0h.8m8.6 0h.8m-.1 0h.8m4.6 0h.8m-38.2 .1h.8m-.6 0h.8m5.3 0h.8m3 0h.8m5 0h.8m3 0h.8m11.9 0h.8m.4 0h.8m1.4 0h.8m-.5 0h.8m0 0h.8m.4 0h.8m.5 0h.8m.6 0h.8m-.7 0h.8m.5 0h.8m3.5 0h.8m7 0h.8m-64.7 .1h.8m6.5 0h.8m5.1 0h.8m-.1 0h.8m1.1 0h.8m2.9 0h.8m2.1 0h.8m-.6 0h.8m3.1 0h.8m1 0h.8m-.1 0h.8m11.7 0h.8m.2 0h.8m-.1 0h.8m3.4 0h.8m3.3 0h.8m-.7 0h.8m10.3 0h.8m-58.9 .1h.8m.2 0h.8m1.1 0h.8m3.1 0h.8m.8 0h.8m5.2 0h.8m-.4 0h.8m4.8 0h.8m1 0h.8m1.3 0h.8m.4 0h.8m19 0h.8m2.8 0h.8m1 0h.8m4.7 0h.8m-54.8 .1h.8m7.4 0h.8m2.6 0h.8m-.4 0h.8m-.1 0h.8m3.3 0h.8m.9 0h.8m1.4 0h.8m1.5 0h.8m-.3 0h.8m14.3 0h.8m2.2 0h.8m1.6 0h.8m.1 0h.8m7.7 0h.8m2.8 0h.8m-.4 0h.8m.6 0h.8m-65.9 .1h.8m-.1 0h.8m6.3 0h.8m3.3 0h.8m2.2 0h.8m.9 0h.8m3.1 0h.8m6.4 0h.8m-.8 0h.8m15.3 0h.8m8.1 0h.8m1.7 0h.8m13.5 0h.8m-69.9 .1h.8m.1 0h.8m3.8 0h.8m-.6 0h.8m2 0h.8m-.3 0h.8m1.6 0h.8m.9 0h.8m.6 0h.8m.8 0h.8m-.4 0h.8m.9 0h.8m0 0h.8m3.5 0h.8m2.9 0h.8m-.2 0h.8m-.1 0h.8m14.5 0h.8m8.6 0h.8m-53.8 .1h.8m2 0h.8m-.5 0h.8m1.2 0h.8m2.9 0h.8m4 0h.8m2.5 0h.8m-.8 0h.8m.4 0h.8m-.8 0h.8m1.4 0h.8m-.5 0h.8m-.3 0h.8m-.3 0h.8m-.1 0h.8m-.3 0h.8m5 0h.8m12.4 0h.8m-.7 0h.8m4.4 0h.8m16.6 0h.8m-65.3 .1h.8m7.2 0h.8m-.6 0h.8m-.6 0h.8m.8 0h.8m1.9 0h.8m-.4 0h.8m2.1 0h.8m1.1 0h.8m-.5 0h.8m-.1 0h.8m1.3 0h.8m0 0h.8m.2 0h.8m19.4 0h.8m-.1 0h.8m10.1 0h.8m8.5 0h.8m-52.2 .1h.8m-.5 0h.8m1.1 0h.8m1.4 0h.8m.4 0h.8m1.3 0h.8m-.5 0h.8m2.4 0h.8m.8 0h.8m20.1 0h.8m6.5 0h.8m-.6 0h.8m-35.8 .1h.8m.9 0h.8m-.7 0h.8m0 0h.8m4 0h.8m.8 0h.8m-.7 0h.8m-22.8 .1h.8m1.7 0h.8m2.5 0h.8m.5 0h.8m1.5 0h.8m3.9 0h.8m1.3 0h.8m-.7 0h.8m2.4 0h.8m1.6 0h.8m15.8 0h.8m.3 0h.8m4 0h.8m1.3 0h.8m.8 0h.8m.8 0h.8m10.7 0h.8m-58.4 .1h.8m3 0h.8m7 0h.8m3.6 0h.8m16.3 0h.8m4.1 0h.8m6.3 0h.8m6.8 0h.8m1.8 0h.8m0 0h.8m-64.1 .1h.8m7.8 0h.8m-.3 0h.8m8.3 0h.8m.4 0h.8m-.1 0h.8m1.7 0h.8m.6 0h.8m15.9 0h.8m2.7 0h.8m5.2 0h.8m8.4 0h.8m1.9 0h.8m-65.9 .1h.8m5.9 0h.8m1.8 0h.8m1.1 0h.8m1.5 0h.8m-.4 0h.8m3 0h.8m3.4 0h.8m-.3 0h.8m.1 0h.8m20.7 0h.8m.6 0h.8m.5 0h.8m2.5 0h.8m-.2 0h.8m3.9 0h.8m5.5 0h.8m-46 .1h.8m2.5 0h.8m.8 0h.8m-.3 0h.8m-.7 0h.8m.3 0h.8m-.3 0h.8m19.1 0h.8m3.4 0h.8m11.8 0h.8m2.6 0h.8m-56 .1h.8m3.4 0h.8m1.6 0h.8m4.8 0h.8m1.9 0h.8m20.5 0h.8m4 0h.8m7 0h.8m-.6 0h.8m1.9 0h.8m6.5 0h.8m-61.1 .1h.8m2.6 0h.8m-.6 0h.8m4.9 0h.8m.2 0h.8m2.2 0h.8m-.6 0h.8m-.3 0h.8m-.3 0h.8m1.4 0h.8m19.7 0h.8m.4 0h.8m-.8 0h.8m.1 0h.8m0 0h.8m.5 0h.8m3.6 0h.8m2.3 0h.8m-53.6 .1h.8m.8 0h.8m-.3 0h.8m-.7 0h.8m8.7 0h.8m2.7 0h.8m1.9 0h.8m25 0h.8m4.5 0h.8m-.6 0h.8m-.8 0h.8m6.8 0h.8m3.8 0h.8m1.3 0h.8m-63.9 .1h.8m3.2 0h.8m-.6 0h.8m3.6 0h.8m1.8 0h.8m-.5 0h.8m2.2 0h.8m2 0h.8m3.5 0h.8m17.4 0h.8m3.2 0h.8m1 0h.8m8 0h.8m5.4 0h.8m-63.1 .1h.8m-.5 0h.8m1.5 0h.8m12.5 0h.8m-.1 0h.8m-.2 0h.8m24.7 0h.8m2.5 0h.8m14.4 0h.8m-64.1 .1h.8m6.2 0h.8m1.8 0h.8m.2 0h.8m6.1 0h.8m.8 0h.8m1.1 0h.8m2.1 0h.8m18.6 0h.8m0 0h.8m3 0h.8m2.9 0h.8m1.6 0h.8m-.2 0h.8m.3 0h.8m1.2 0h.8m8.5 0h.8m-55.1 .1h.8m31 0h.8m6.5 0h.8m1.3 0h.8m13.4 0h.8m-64.6 .1h.8m2.2 0h.8m7.3 0h.8m1 0h.8m4.1 0h.8m-.6 0h.8m35.3 0h.8m-59.2 .1h.8m3.7 0h.8m10.1 0h.8m2.9 0h.8m.6 0h.8m1.5 0h.8m.4 0h.8m21.3 0h.8m-.6 0h.8m10 0h.8m1.2 0h.8m1.7 0h.8m-57.8 .1h.8m.3 0h.8m-.5 0h.8m3.6 0h.8m4.1 0h.8m1 0h.8m.3 0h.8m24.7 0h.8m-34.6 .1h.8m34.3 0h.8m4.5 0h.8m-.7 0h.8m8.8 0h.8m-62.4 .1h.8m4.5 0h.8m.2 0h.8m6.2 0h.8m-.8 0h.8m8.1 0h.8m24.9 0h.8m-43.7 .1h.8m-.4 0h.8m.7 0h.8m2.7 0h.8m8.1 0h.8m-.1 0h.8m2.6 0h.8m-.3 0h.8m27.8 0h.8m1.1 0h.8m.7 0h.8m4.3 0h.8m7.1 0h.8m-65.5 .1h.8m1 0h.8m.4 0h.8m4.7 0h.8m-.1 0h.8m-.6 0h.8m1.9 0h.8m1.7 0h.8m.5 0h.8m.2 0h.8m-.3 0h.8m-.2 0h.8m22.9 0h.8m-45.2 .1h.8m1.4 0h.8m.1 0h.8m8 0h.8m3.4 0h.8m.9 0h.8m3.5 0h.8m25 0h.8m.2 0h.8m-.4 0h.8m-.7 0h.8m3 0h.8m3.2 0h.8m-55.7 .1h.8m2.2 0h.8m3.2 0h.8m.1 0h.8m4.6 0h.8m28.7 0h.8m.6 0h.8m-.8 0h.8m5.4 0h.8m1.5 0h.8m-.8 0h.8m2.9 0h.8m-56.5 .1h.8m4.8 0h.8m.3 0h.8m1.3 0h.8m.3 0h.8m6.7 0h.8m23.3 0h.8m1.4 0h.8m-.1 0h.8m4.9 0h.8m-54.7 .1h.8m1.1 0h.8m-.5 0h.8m5.8 0h.8m2.5 0h.8m1.4 0h.8m6.9 0h.8m22.6 0h.8m2.7 0h.8m-.6 0h.8m4.4 0h.8m4.1 0h.8m-53.1 .1h.8m9 0h.8m1.9 0h.8m33.3 0h.8m1.3 0h.8m-57.3 .1h.8m5.8 0h.8m.3 0h.8m-.5 0h.8m4.7 0h.8m1.3 0h.8m30.5 0h.8m1.2 0h.8m-.8 0h.8m1 0h.8m3.7 0h.8m1.7 0h.8m3 0h.8m-54.9 .1h.8m.2 0h.8m6.5 0h.8m-.7 0h.8m5 0h.8m-.1 0h.8m23.3 0h.8m-.7 0h.8m2.2 0h.8m6 0h.8m-47.5 .1h.8m1.3 0h.8m5.2 0h.8m.6 0h.8m1.9 0h.8m29.8 0h.8m3.4 0h.8m3.8 0h.8m3 0h.8m6.2 0h.8m-68.4 .1h.8m5.7 0h.8m2.9 0h.8m.4 0h.8m.4 0h.8m37.6 0h.8m4.1 0h.8m.6 0h.8m-54.2 .1h.8m3.3 0h.8m5.3 0h.8m2.3 0h.8m24 0h.8m1.7 0h.8m5.2 0h.8m1.1 0h.8m-56.7 .1h.8m4.5 0h.8m9.3 0h.8m.3 0h.8m28.9 0h.8m.2 0h.8m1.7 0h.8m6.3 0h.8m-51.3 .1h.8m5.1 0h.8m.5 0h.8m3.8 0h.8m1.1 0h.8m25.7 0h.8m8.1 0h.8m0 0h.8m-55.1 .1h.8m3.6 0h.8m-.2 0h.8m-.6 0h.8m-.5 0h.8m3.3 0h.8m8.8 0h.8m25.1 0h.8m-45.9 .1h.8m1.7 0h.8m3.3 0h.8m4.6 0h.8m5.4 0h.8m25.9 0h.8m-.5 0h.8m-.1 0h.8m4.1 0h.8m8.5 0h.8m-62.5 .1h.8m13.5 0h.8m1.8 0h.8m1.8 0h.8m25.1 0h.8m4.9 0h.8m-.7 0h.8m-.5 0h.8m.2 0h.8m.5 0h.8m4 0h.8m-58.4 .1h.8m5.8 0h.8m4.8 0h.8m.6 0h.8m1.5 0h.8m-.4 0h.8m29.6 0h.8m3.2 0h.8m1.6 0h.8m1.2 0h.8m.4 0h.8m-55.2 .1h.8m7.5 0h.8m.9 0h.8m31.7 0h.8m0 0h.8m1.3 0h.8m1.2 0h.8m15.6 0h.8m-68.9 .1h.8m1.7 0h.8m5.7 0h.8m-.3 0h.8m-.5 0h.8m-.1 0h.8m3.4 0h.8m1 0h.8m.5 0h.8m-.5 0h.8m27.7 0h.8m-.6 0h.8m-.2 0h.8m1.6 0h.8m-.3 0h.8m0 0h.8m8.1 0h.8m-59.1 .1h.8m7.9 0h.8m1.7 0h.8m.6 0h.8m3.9 0h.8m-.4 0h.8m1.8 0h.8m32.9 0h.8m.4 0h.8m2.6 0h.8m1.3 0h.8m-49.7 .1h.8m.3 0h.8m3.9 0h.8m27.2 0h.8m4.5 0h.8m3.1 0h.8m.5 0h.8m-40.9 .1h.8m31.3 0h.8m2.3 0h.8m16.6 0h.8m-52.1 .1h.8m-.2 0h.8m27.4 0h.8m-37.2 .1h.8m41.8 0h.8m-44 .1h.8m4.2 0h.8m5.3 0h.8m25.5 0h.8m3.8 0h.8m11.8 0h.8m-56.2 .1h.8m2.5 0h.8m.4 0h.8m.1 0h.8m.8 0h.8m30.9 0h.8m-45.3 .1h.8m7.3 0h.8m3.7 0h.8m-.1 0h.8m1.1 0h.8m.3 0h.8m.2 0h.8m27.1 0h.8m.7 0h.8m1.8 0h.8m.4 0h.8m1.1 0h.8m.1 0h.8m-55.2 .1h.8m7.3 0h.8m1.3 0h.8m35.4 0h.8m.6 0h.8m.6 0h.8m-49.9 .1h.8m6.1 0h.8m3 0h.8m-.4 0h.8m.6 0h.8m4.3 0h.8m-.5 0h.8m.2 0h.8m24.5 0h.8m3.4 0h.8m.4 0h.8m13.2 0h.8m5 0h.8m-62.3 .1h.8m2.2 0h.8m.6 0h.8m5.4 0h.8m24.4 0h.8m.2 0h.8m4.5 0h.8m2.9 0h.8m6 0h.8m-45.6 .1h.8m.3 0h.8m-.2 0h.8m24.5 0h.8m1.4 0h.8m-.2 0h.8m5.9 0h.8m.8 0h.8m7 0h.8m-53.9 .1h.8m33.1 0h.8m6.8 0h.8m16.3 0h.8m-65.2 .1h.8m1.3 0h.8m12.2 0h.8m.4 0h.8m24.1 0h.8m5.3 0h.8m5.2 0h.8m-55.3 .1h.8m5.4 0h.8m6.2 0h.8m4.7 0h.8m27.8 0h.8m18.5 0h.8m-70 .1h.8m12.4 0h.8m3.3 0h.8m1.9 0h.8m-21.6 .1h.8m16.9 0h.8m-.1 0h.8m26.7 0h.8m2.8 0h.8m1.9 0h.8m-34.8 .1h.8m35.6 0h.8m9.6 0h.8m-54.4 .1h.8m1.1 0h.8m.1 0h.8m.7 0h.8m.6 0h.8m.1 0h.8m29.2 0h.8m0 0h.8m2 0h.8m1.3 0h.8m3.6 0h.8m-53 .1h.8m-.6 0h.8m5.7 0h.8m1.2 0h.8m5.8 0h.8m25.1 0h.8m-45.6 .1h.8m2 0h.8m3.3 0h.8m8.6 0h.8m25.3 0h.8m4.5 0h.8m17.4 0h.8m1 0h.8m-67.5 .1h.8m9.7 0h.8m1.9 0h.8m4.4 0h.8m-.3 0h.8m28.5 0h.8m-.4 0h.8m-.5 0h.8m13.3 0h.8m-60.8 .1h.8m2.3 0h.8m5.6 0h.8m7.5 0h.8m19.2 0h.8m16 0h.8m-59 .1h.8m5.7 0h.8m0 0h.8m9.2 0h.8m28.3 0h.8m1 0h.8m4.5 0h.8m4.9 0h.8m4.2 0h.8m-67.9 .1h.8m.4 0h.8m3.4 0h.8m11.2 0h.8m5.9 0h.8m22.6 0h.8m10.5 0h.8m10.2 0h.8m-64.4 .1h.8m.4 0h.8m1.2 0h.8m7.5 0h.8m2.3 0h.8m1.7 0h.8m31.5 0h.8m-42.2 .1h.8m5.2 0h.8m2.5 0h.8m-17.5 .1h.8m4.2 0h.8m4.7 0h.8m6.9 0h.8m24.9 0h.8m5.4 0h.8m1.9 0h.8m-52 .1h.8m-.6 0h.8m3 0h.8m1.6 0h.8m8.1 0h.8m21.4 0h.8m12.9 0h.8m-56.4 .1h.8m8.2 0h.8m9.6 0h.8m32.3 0h.8m-51.1 .1h.8m10.1 0h.8m-11.7 .1h.8m14 0h.8m-.5 0h.8m2.9 0h.8m17.7 0h.8m-.4 0h.8m9.1 0h.8m3 0h.8m-50.6 .1h.8m8.4 0h.8m1.8 0h.8m2.4 0h.8m-.5 0h.8m3 0h.8m19 0h.8m.6 0h.8m-41.5 .1h.8m8.2 0h.8m7.8 0h.8m22.1 0h.8m2.2 0h.8m4.2 0h.8m1.5 0h.8m-55.7 .1h.8m13 0h.8m8.2 0h.8m24.3 0h.8m-.2 0h.8m3.1 0h.8m4.1 0h.8m-54.3 .1h.8m3.6 0h.8m15.1 0h.8m-.1 0h.8m24.5 0h.8m5.2 0h.8m-52.7 .1h.8m.5 0h.8m.9 0h.8m4.6 0h.8m-.3 0h.8m-.8 0h.8m2.4 0h.8m1.9 0h.8m-.6 0h.8m.2 0h.8m3.5 0h.8m17.1 0h.8m20.1 0h.8m2.7 0h.8m-66.2 .1h.8m10.7 0h.8m5.6 0h.8m-.5 0h.8m.4 0h.8m4.6 0h.8m11.8 0h.8m-36.2 .1h.8m3.3 0h.8m8.7 0h.8m1.4 0h.8m.5 0h.8m.5 0h.8m2.6 0h.8m14.7 0h.8m-36.7 .1h.8m3.3 0h.8m6.6 0h.8m3.2 0h.8m5.2 0h.8m11.5 0h.8m1.3 0h.8m8.1 0h.8m-48.4 .1h.8m-.5 0h.8m1.1 0h.8m8 0h.8m28.7 0h.8m-37.1 .1h.8m6.1 0h.8m6.1 0h.8m.6 0h.8m4.7 0h.8m9.9 0h.8m9.2 0h.8m14.8 0h.8m-50.6 .1h.8m1.8 0h.8m2.3 0h.8m27.2 0h.8m6.1 0h.8m-45.4 .1h.8m4.7 0h.8m5.4 0h.8m-.7 0h.8m.2 0h.8m18.7 0h.8m0 0h.8m7.2 0h.8m-52.4 .1h.8m2.8 0h.8m14.9 0h.8m3.9 0h.8m3.3 0h.8m3.4 0h.8m6.1 0h.8m2.9 0h.8m6.5 0h.8m-44.2 .1h.8m8 0h.8m9.1 0h.8m4.5 0h.8m3.5 0h.8m-34.8 .1h.8m9.5 0h.8m12.6 0h.8m3.3 0h.8m5.6 0h.8m6.7 0h.8m13 0h.8m4.2 0h.8m-54.2 .1h.8m2.3 0h.8m23.7 0h.8m1.2 0h.8m9.5 0h.8m2 0h.8m-39.8 .1h.8m2 0h.8m8.8 0h.8m3.3 0h.8m7.8 0h.8m6.2 0h.8m.5 0h.8m2.4 0h.8m15.7 0h.8m-65.4 .1h.8m30.9 0h.8m4.4 0h.8m4.9 0h.8m6.8 0h.8m-50.3 .1h.8m15.1 0h.8m8.9 0h.8m2.4 0h.8m3.6 0h.8m.2 0h.8m26.8 0h.8m-64.7 .1h.8m2.1 0h.8m1.7 0h.8m3.4 0h.8m11.4 0h.8m4.4 0h.8m2.3 0h.8m15.5 0h.8m-41.4 .1h.8m10.4 0h.8m6.7 0h.8m2.4 0h.8m-30.7 .1h.8m5.3 0h.8m22.8 0h.8m3.4 0h.8m16.2 0h.8m3.6 0h.8m5.4 0h.8m-53 .1h.8m.3 0h.8m13 0h.8m18.1 0h.8m-31.7 .1h.8m13.8 0h.8m-.4 0h.8m-24.2 .1h.8m3.7 0h.8m11 0h.8m5.1 0h.8m2.6 0h.8m-.7 0h.8m7.2 0h.8m12.1 0h.8m-43.5 .1h.8m3.2 0h.8m7.7 0h.8m.3 0h.8m7.8 0h.8m13.4 0h.8m14.1 0h.8m5.1 0h.8m-55.5 .1h.8m33 0h.8m1.5 0h.8m1.8 0h.8m-.4 0h.8m-45.8 .1h.8m17.5 0h.8m4.4 0h.8m2.9 0h.8m7.9 0h.8m7.4 0h.8m23 0h.8m-51.7 .1h.8m2.5 0h.8m7.6 0h.8m10.9 0h.8m1 0h.8m-28.3 .1h.8m18.1 0h.8m.5 0h.8m1.6 0h.8m.3 0h.8m1 0h.8m3.3 0h.8m-37.2 .1h.8m.7 0h.8m.1 0h.8m11.4 0h.8m-.2 0h.8m3.9 0h.8m4.9 0h.8m4 0h.8m3 0h.8m-35.9 .1h.8m26.1 0h.8m12.9 0h.8m-33.4 .1h.8m3.1 0h.8m.7 0h.8m23.2 0h.8m6.4 0h.8m-35.3 .1h.8m6.4 0h.8m4.5 0h.8m7.6 0h.8m3.3 0h.8m0 0h.8m-25.5 .2h.8m-.7 0h.8m8.1 0h.8m20.1 0h.8m-40.6 .1h.8m5.8 0h.8m32.2 0h.8m-23.5 .1h.8m-11.8 .1h.8m7.2 0h.8m11.3 0h.8m1 0h.8m3.7 0h.8m-45.5 .1h.8m11.2 0h.8m27.6 0h.8m-29.8 .1h.8m-9.7 .1h.8m25.7 0h.8m10.2 0h.8m-31.2 .1h.8m6 0h.8m.5 0h.8m1.1 0h.8m.2 0h.8m21.2 0h.8m-32.7 .1h.8m40.1 0h.8m-40.2 .1h.8m35.9 0h.8m-38.4 .1h.8m1.6 0h.8m25.1 0h.8m7.6 0h.8m-48.1 .1h.8m12.4 0h.8m1.1 0h.8m9.6 0h.8m-.7 0h.8m-16.8 .1h.8m-.4 0h.8m28.4 0h.8m-12.7 .1h.8m6 0h.8m10.5 0h.8m1.1 0h.8m-39.6 .1h.8m3.5 0h.8m7.9 0h.8m16.9 0h.8m-40.6 .1h.8m10.5 0h.8m6.1 0h.8m9.9 0h.8m-.7 0h.8m4.3 0h.8m21.5 0h.8m15 0h.8m-66.5 .1h.8m2.5 0h.8m8.3 0h.8m1.2 0h.8m5.9 0h.8m10.3 0h.8m-27.9 .1h.8m2.8 .1h.8m.7 0h.8m11.9 0h.8m-.2 0h.8m-5.5 .1h.8m-1.5 .1h.8m20.9 0h.8m-43.2 .1h.8m12.2 0h.8m7.2 0h.8m14.3 0h.8m-40.4 .2h.8m10.3 .1h.8m9.1 0h.8m10.1 0h.8m0 0h.8m2.6 .1h.8m-25.4 .1h.8m3.5 0h.8m1.2 0h.8m-11 .1h.8m48.1 0h.8m-52.1 .1h.8m36.3 0h.8m1 0h.8m6.3 0h.8m-6.6 .1h.8m-29.3 .1h.8m.5 .1h.8m13.1 0h.8m-14.7 .1h.8m-14.2 .1h.8m5.3 0h.8m15.5 0h.8m-16.7 .1h.8m32.5 0h.8m-32.1 .2h.8m12.7 0h.8m2.2 0h.8m9 0h.8m-30.8 .1h.8m31.3 0h.8m15.8 .2h.8m-16.9 .1h.8m-22.2 .1h.8m1.6 0h.8m-19.3 .1h.8m8 0h.8m44 0h.8m-29.9 .1h.8m-22.7 .2h.8m24.9 0h.8m6.2 .1h.8m2.3 0h.8m-8.7 .1h.8m-4.6 .1h.8m8.6 0h.8m3.2 0h.8m-4.1 .1h.8m-35 .1h.8m13.9 0h.8m-18.9 .1h.8m38.2 0h.8m-20.6 .1h.8m23.3 0h.8m-23 .1h.8m-.7 0h.8m10.7 0h.8m-22 .1h.8m7.3 0h.8m7 0h.8m13.5 0h.8m-21 .1h.8m-15.8 .2h.8m9.7 0h.8m5.9 0h.8m3.2 0h.8m11 0h.8m-.1 0h.8m-31.6 .1h.8m6.9 0h.8m-14.2 .1h.8m11.9 0h.8m2.8 0h.8m15.7 0h.8m1.7 0h.8m-29.1 .1h.8m-18.8 .2h.8m19 0h.8m7.5 0h.8m9.9 0h.8m2.9 0h.8m2.7 0h.8m-26.2 .1h.8m19.6 0h.8m1.4 0h.8m-31.3 .1h.8m3.9 0h.8m30.3 0h.8m-37.3 .2h.8m-.5 0h.8m5.1 0h.8m9.6 .1h.8m-15.3 .1h.8m-2.3 .1h.8m-.1 .1h.8m28.7 0h.8m-32.5 .1h.8m28.6 0h.8m-34 .1h.8m16.1 0h.8m19.4 0h.8m-33.2 .1h.8m7.5 0h.8m46.3 .1h.8m-63.1 .1h.8m3.7 0h.8m29.9 0h.8m8.6 0h.8m5.2 0h.8m13.5 0h.8m-52.2 .1h.8m25.5 0h.8m-.4 0h.8m-8 .1h.8m3.8 0h.8m2.1 0h.8m-11.9 .1h.8m-4.9 .1h.8m4 0h.8m26 0h.8m-20 .1h.8m-32.8 .1h.8m24 0h.8m10.4 0h.8m-25.6 .1h.8m-5.8 .2h.8m19.4 0h.8m-25.1 .1h.8m32.2 0h.8m-32.4 .1h.8m37.1 0h.8m-57.8 .1h.8m7.2 0h.8m1.8 0h.8m18.1 0h.8m1.9 0h.8m7.2 0h.8m.5 0h.8m3.2 0h.8m-24.1 .1h.8m.4 0h.8m5.4 0h.8m1.2 0h.8m29.6 0h.8m-40.2 .1h.8m7 0h.8m1.7 0h.8m.5 0h.8m-14.6 .1h.8m28.9 0h.8m17.6 0h.8m-58.8 .2h.8m10.2 0h.8m14.2 0h.8m16.3 0h.8m-42.8 .1h.8m26.8 0h.8m9.3 0h.8m.5 0h.8m-34 .1h.8m22 0h.8m-2.2 .1h.8m5.1 0h.8m-29.2 .1h.8m5 0h.8m-19.4 .1h.8m17.7 0h.8m-.5 0h.8m4.7 0h.8m21 0h.8m3.6 0h.8m-14.4 .1h.8m3.4 0h.8m-.1 0h.8m-30 .1h.8m9.2 0h.8m11.9 0h.8m16.1 0h.8m-31.7 .1h.8m.2 0h.8m7.5 0h.8m19.1 0h.8m4.3 0h.8m-41.6 .1h.8m15 0h.8m34.5 0h.8m-48.4 .2h.8m4.2 .1h.8m5.3 0h.8m12.6 0h.8m-12.8 .1h.8m12.4 0h.8m-24.9 .1h.8m7.8 0h.8m3.9 0h.8m17 0h.8m-11.5 .1h.8m14.3 0h.8m-26.2 .1h.8m5.1 0h.8m-.5 0h.8m27 0h.8m-51.9 .1h.8m17 0h.8m5 0h.8m-21.6 .1h.8m35.8 0h.8m-20.6 .1h.8m1 0h.8m6.6 0h.8m7.4 0h.8m-22.1 .1h.8m1.9 0h.8m6.6 0h.8m10.2 .1h.8m-19.5 .1h.8m9.5 .1h.8m-26.8 .2h.8m24.7 0h.8m-27.2 .1h.8m14.5 0h.8m3.4 0h.8m-6.6 .1h.8m-33.5 .1h.8m24.2 .1h.8m9.2 0h.8m-10.7 .1h.8m-7.9 .1h.8m24.7 0h.8m-5.9 .1h.8m6.4 0h.8m2.3 0h.8m-6.3 .1h.8m2.2 0h.8m14.7 0h.8m-41.1 .1h.8m-.4 0h.8m7.3 0h.8m7 0h.8m-1.8 .1h.8m2.3 0h.8m21.6 0h.8m-36.8 .1h.8m5.4 .1h.8m2.5 0h.8m17.5 0h.8m-33.3 .2h.8m-.3 0h.8m15.6 0h.8m18.4 0h.8m13.5 0h.8m-25.5 .1h.8m-11.5 .1h.8m-.7 0h.8m2.2 0h.8m2 0h.8m23.6 0h.8m-14.1 .1h.8m3.5 .2h.8m-18 .1h.8m-.5 0h.8m23.6 .1h.8m-16.2 .3h.8m-17.8 .1h.8m.3 0h.8m9 0h.8m11.8 0h.8m-38.7 .1h.8m.7 0h.8m11.7 0h.8m13 .1h.8m-.6 0h.8m3.2 .1h.8m7.3 0h.8m-41.8 .1h.8m17.8 0h.8m-10.4 .4h.8m20.1 0h.8m-29.5 .1h.8m28.6 .1h.8m-18.5 .1h.8m15.7 0h.8m4.6 .1h.8m11.3 0h.8m-37.7 .1h.8m-12.7 .1h.8m17.7 0h.8m9 .3h.8m-28.9 .1h.8m1.5 .1h.8m4.7 0h.8m.3 0h.8m-.7 0h.8m-.1 .1h.8m10.1 .2h.8m12.6 0h.8m-33.6 .2h.8m-.7 0h.8m3.3 0h.8m44.3 0h.8m-72.1 .1h.8m30 0h.8m2.3 0h.8m-11.5 .1h.8m36.7 0h.8m-35.2 .3h.8m1.5 0h.8m2.9 0h.8m-14.3 .1h.8m5.6 0h.8m3.5 0h.8m5.5 0h.8m-14.1 .1h.8m9.2 0h.8m-8.6 .1h.8m7.8 0h.8m0 0h.8m-15.7 .2h.8m1.4 .1h.8m1.6 .1h.8m35.7 .2h.8m-37.5 .1h.8m-2.5 .1h.8m26.6 0h.8m-20.1 .1h.8m-12.6 .1h.8m-.2 .1h.8m19.3 0h.8m-18.4 .1h.8m16.1 0h.8m-12.8 .1h.8m-10.3 .1h.8m7.5 0h.8m24 0h.8m14.9 0h.8m-50.9 .1h.8m5.6 0h.8m-7.4 .1h.8m14.8 0h.8m3.2 0h.8m12.4 0h.8m-18.7 .2h.8m-4.7 .1h.8m-1.9 .1h.8m7.4 0h.8m-12 .2h.8m25.1 .1h.8m-25.2 .1h.8m8.8 0h.8m-38.5 .1h.8m16.4 .3h.8m7.6 .1h.8m-7.4 .1h.8m2.6 0h.8m2.9 0h.8m9.8 0h.8m-8.4 .1h.8m4.1 .2h.8m-8.6 .1h.8m.8 0h.8m-11.9 .1h.8m2 0h.8m3.8 0h.8m.7 0h.8m-20.9 .1h.8m18.5 0h.8m-8.7 .1h.8m7.3 0h.8m-4.2 .1h.8m12.2 0h.8m-33 .1h.8m19 0h.8m-5 .1h.8m.6 0h.8m-.4 0h.8m7.1 0h.8m-3.3 .1h.8m-16.7 .1h.8m2.4 0h.8m8.3 0h.8m16.7 .1h.8m-29.6 .1h.8m8.5 0h.8m13.9 0h.8m-25.1 .1h.8m5.1 0h.8m4.5 0h.8m.4 0h.8m-.4 0h.8m-17 .1h.8m3.4 0h.8m15.5 0h.8m15.6 0h.8m-30.6 .2h.8m6.6 0h.8m5.5 0h.8m15.7 .1h.8m-36.6 .1h.8m4.5 0h.8m-8.1 .1h.8m14.3 0h.8m5.4 0h.8m2.3 0h.8m-21.5 .1h.8m.6 0h.8m2.4 0h.8m10.9 0h.8m9.3 .1h.8m-27.5 .1h.8m-.3 0h.8m13.5 0h.8m11.3 0h.8m-18.6 .1h.8m17.1 0h.8m-21.1 .1h.8m34.9 0h.8m-29.7 .1h.8m5.7 0h.8m-33.5 .1h.8m14.8 0h.8m4.5 0h.8m12 0h.8m-24.8 .1h.8m24.1 .1h.8m.3 0h.8m-19 .1h.8m1.9 0h.8m1.6 0h.8m-10.8 .1h.8m7.2 0h.8m3 0h.8m3.1 0h.8m13 0h.8m-30.3 .1h.8m6 0h.8m7.8 0h.8m8.7 0h.8m-35.1 .1h.8m8.9 0h.8m2 0h.8m17.1 0h.8m-3.4 .1h.8m-17.1 .1h.8m-.5 0h.8m9.9 0h.8m-6.5 .1h.8m15.2 0h.8m-5.9 .1h.8m-.2 0h.8m7.3 0h.8m0 0h.8m-14.8 .2h.8m5 0h.8m6 0h.8m-27.8 .2h.8m10.9 0h.8m2 0h.8m-12.6 .1h.8m11.9 0h.8m.4 .1h.8m5.9 0h.8m-.8 0h.8m2.1 0h.8m-.2 0h.8m-21.5 .1h.8m1.9 0h.8m11.3 0h.8m-4.5 .1h.8m2.6 0h.8m-19.8 .3h.8m-.5 0h.8m16.2 0h.8m2 0h.8m3.9 0h.8m-15.3 .1h.8m4.1 0h.8m-17.9 .1h.8m10.9 0h.8m1.6 0h.8m-11.1 .4h.8m13.6 0h.8m21.1 0h.8m-45 .1h.8m11.1 0h.8m9.5 0h.8m-9.4 .1h.8m10.4 0h.8m-15.2 .2h.8m1.1 0h.8m21.5 0h.8m-9.4 .1h.8m-18.2 .1h.8m19.8 .2h.8m-13.4 .1h.8m-12.9 .3h.8m4.4 0h.8m9.9 0h.8m-11.2 .1h.8m16 0h.8m-18.6 .1h.8m2.7 .1h.8m1.2 0h.8m.5 0h.8m-11.5 .1h.8m3.8 0h.8m6.9 0h.8m-11.9 .1h.8m2.6 .1h.8m1.1 0h.8m14.2 0h.8m-21 .1h.8m4.9 0h.8m-4 .2h.8m7.3 0h.8m10.7 0h.8m2 0h.8m-18 .1h.8m13.4 0h.8m1.2 0h.8m-10 .1h.8m.1 0h.8m10.5 0h.8m-12.6 .1h.8m-9.6 .2h.8m14.9 0h.8m-21.7 .1h.8m12.9 0h.8m3.1 0h.8m5.5 0h.8m-13.2 .1h.8m-22.4 .1h.8m25.9 0h.8m3.3 .1h.8m-1.8 .2h.8m5.6 0h.8m-25.1 .3h.8m.3 0h.8m12.7 0h.8m-10.2 .1h.8m-2.9 .2h.8m8.1 .1h.8m-18.5 .3h.8m7.3 0h.8m3.7 .1h.8m5.6 .1h.8m-10.9 .1h.8m-9.5 .1h.8m12 .1h.8m4.1 0h.8m-4.4 .1h.8m1.1 0h.8m2.9 0h.8m-18 .1h.8m25.6 0h.8m-30.8 .1h.8m8.6 .4h.8m-1.7 .1h.8m7.1 0h.8m-2.7 .1h.8m6.6 .2h.8m-14.4 .1h.8m24.1 .1h.8m-29 .3h.8m12.5 .9h.8m-11.6 .2h.8m2.2 .1h.8m-12.6 .2h.8m13.6 .1h.8m-11.9 .3h.8m3.8 .2h.8m9.4 0h.8m1.3 .2h.8m-6 .1h.8m2.3 .7h.8m-23.8 .5h.8m14.7 0h.8m30.5 .9h.8m-43.8 2h.8m23.2 .3h.8" stroke="#6a6a6a" stroke-width="0.85" fill="none"/>
<g fill="none" stroke="#000" stroke-width="0.66">
<path d="M315.9 96.6l-3.3-.4-3-1.1-3-2-2.1-2.5-1.2-2.3-.6-2.5-.4-10 .3-4 .7-3.8 1.2-3.7 1.6-3 2.1-2.8 2.4-2.2 2.6-1.3 2.4-.4 2.6 .4 2.4 1.2 2.3 2 1.9 2.6 1.5 3 1.3 3.8 .8 3.7 .3 4-.7 10.3-.6 2.4-1.1 2.3-1.9 2.4-2.5 1.9-2.7 1.3-3.3 .7z"/><path d="M316.9 94.8l-2.3 .1-2.4-.4-2.3-.8-2-1.3-1.7-1.6-1.1-1.8-.8-2-.3-2 .1-2 .9-4.7 .4-6.7 .7-3 1.2-3.6 1.8-3.7 1.8-2.4 2.3-1.6 1.2-.5 1.2-.2 1.3 .1 1.3 .3 2.2 1.4 2.2 2.4 1.4 2.8 1 3 .6 3.4 .3 3.8 .1 5.2 .5 4.8 0 2-.5 2-.8 1.8-1.1 1.4-1.5 1.4-2 1.3-2 .7-1.7 .4z"/><path d="M317.2 93.6l-2.3 .1-2-.2-2-.6-1.7-1-1.7-1.3-1.1-1.6-.8-1.7-.3-2 .1-1.5 .4-1.8 2.1-5.4 .8-9 1-4 1.1-2.3 1.6-1.7 1.8-1.1 1.7-.4 2 .3 2 1.2 1.7 2 1.3 2.7 .7 2.5 .2 2.8-.6 7.7 1.6 4.7 .4 2.6-.1 1.4-.3 1.6-.7 1.4-.9 1.3-1.3 1.2-1.5 1-1.5 .6-1.7 .5z"/><path d="M317.4 92.8l-2 .2-2-.1-2-.6-1.8-.9-1.5-1.4-1.1-1.4-.6-1.6-.3-1.7 .1-1.7 .6-1.8 2.7-4.5 .6-1.7 .1-1.3-.5-3.5 0-2.5 .2-2.5 .6-2 1-2 1.1-1.4 1.6-1 1.7-.4 2 .4 1.7 1.1 1.6 1.8 1.2 2.5 .5 2.8 .1 2.7-.4 2.3-1 3.4-.2 1 .3 1 2 3.8 .7 2.8-.1 1.4-.3 1.3-.5 1.3-.9 1.2-2.2 1.8-1.5 .8-1.5 .4z"/><path d="M316.6 92.6l-2 .1-1.7-.3-1.7-.6-1.6-.9-1.2-1.1-1.1-1.5-.6-1.5-.2-1.5 .2-1.7 .6-1.8 3-4.5 .6-1.5 .1-1.2-.7-3.6-.2-2.4 .1-2.3 .6-2.3 .8-1.7 1.3-1.5 1.5-1 1.5-.4 2 .4 1.7 1.2 1.5 1.8 1 2.2 .5 2.8 0 2.8-.5 2.2-1.3 3.2-.2 1 .3 1 2.4 3.8 .5 1.5 .2 1.5-.1 1.5-.4 1.3-.6 1.2-.8 1-1.2 1.1-1.3 .8-1.4 .6-1.6 .3z"/><path d="M315.9 92.3l-1.7 0-1.6-.3-1.4-.6-1.6-.9-1.2-1.2-.8-1.3-.5-1.4-.2-1.6 .2-1.4 .6-1.8 .9-1.5 2.4-3 .7-1.5 0-1.2-.9-3.6-.3-2.2 .1-2.5 .6-2.3 .9-1.7 1.1-1.3 1.4-.8 1.6-.3 1.7 .4 1.5 1 1.4 1.7 1 2.3 .5 2.7-.2 3-.6 2-1.5 3-.3 1 .4 1 1.8 2.4 .9 1.4 .5 1.5 .3 1.7-.2 1.6-.4 1.2-.8 1.2-.8 1-1.2 1-1.3 .6-1.5 .5-1.5 .2z"/><path d="M316.9 91.8l-1.7 .2-1.8-.2-1.5-.4-1.6-.8-1.2-1-.9-1.3-.7-1.5-.2-1.5 .2-1.7 .7-1.8 3.7-4.8 .6-1.2 0-1-1.2-3.5-.4-2.3 .1-2.4 .5-2.3 .9-1.7 1-1.2 1.2-.8 1.6-.3 1.7 .4 1.5 1.1 1.2 1.7 .9 2.1 .4 2.7-.3 3-.7 2.1-1.9 2.9-.2 .7 .4 1 2.1 2.3 1 1.5 .7 1.8 .2 1.4-.4 2.3-.6 1.2-.8 1-2 1.5-2.5 .8z"/><path d="M316.4 91.6l-1.8 0-1.4-.2-1.6-.5-1.2-.8-1-.8-.9-1.3-.5-1.2-.3-1.5 .2-1.7 .8-1.8 1.2-1.6 3-3.4 .5-1-.2-1-1.4-3.2-.5-2 0-2.6 .5-2.4 .7-1.6 1.1-1.2 1.3-.8 1.3-.2 1.4 .3 1.6 1 1.2 1.6 .8 2.1 .4 3-.4 2.8-1 2.1-2.3 2.6-.2 .7 .5 1 2.4 2.3 1 1.3 .9 1.7 .3 1.7-.5 2.3-1.3 2-2.1 1.5-2.5 .8z"/><path d="M317.2 91.1l-1.6 .2-1.7-.1-1.5-.4-1.5-.8-1.2-1-.7-1-.6-1.2-.3-1.5 .4-2 1-2 2.7-2.9 2.5-2.1 0-.5-1.8-2.9-.8-1.9-.4-2-.1-2 .5-2.2 1.1-1.9 1.4-1.3 1.6-.3 1 .1 .8 .4 1.7 1.5 .7 1.2 .5 1.3 .3 2.8-.3 2.4-1 2.3-1.3 1.3-2.2 1.4-.4 .6 1 1.2 2.9 2.4 1.2 1.4 .9 1.7 .3 1.7-.3 2-1 1.8-1.8 1.5-2 .8z"/><path d="M316.9 74.8l-.7 .1-.8-.1-1.5-1.3-1.3-2.2-.6-2.7 .2-2.6 .7-2 1.3-1.5 .7-.4 1-.3 1 0 .7 .3 1.6 1.2 1.1 2 .6 2.5-.2 2.5-.8 2.1-1.3 1.5-1.7 .9z"/><path d="M316.4 90.8l-2.5 0-1.3-.3-1.2-.6-1.8-1.6-.6-1-.4-1.3 0-1 .1-1.2 1-2 2.7-3 1-.8 1-.3 .8 0 .7 .3 3.7 2.6 1.5 1.7 .7 2 .1 1.3-.2 1-1.1 2-1.8 1.4-2.4 .8z"/><path d="M317.2 74.1l-1.6-.1-.7-.3-.7-.7-1.2-2-.6-2.2 .1-2.2 .7-2.2 1.2-1.5 1.5-.6 1.5 .2 1.5 1.2 1 1.6 .6 2.3-.1 2.2-.7 2-1.1 1.4-1.4 .9z"/><path d="M315.4 90.6l-2.5-.4-2-1.1-1.3-1.5-.6-2 .3-2 1.1-2 2.2-2.4 1-.7 .8-.1 1 .1 1 .4 3 2 1.5 1.9 .6 2-.1 1.2-.3 1-1.2 1.8-2 1.2-2.5 .6z"/><path d="M317.4 73.3l-1.5 .1-1.3-.7-1.1-1.7-.6-2-.1-2.2 .6-1.9 1.1-1.3 1.4-.7 1.5 .2 1.2 .9 .9 1.6 .5 1.7 0 2-.4 1.7-1 1.5-1.2 .8z"/><path d="M316.4 90.1l-2.2 0-2.3-.8-1.6-1.5-.8-1.8 .1-2 .7-1.7 2.1-2.4 1-.7 .8-.2 .7 0 1 .2 2.7 1.7 1.6 1.5 .8 1.9-.1 2-.9 1.7-1.6 1.4-2 .7z"/><path d="M316.6 72.8l-1.2-.3-1-.9-.9-1.6-.3-1.7 .1-1.7 .6-1.6 1-1.1 1.3-.4 1.2 .3 1.2 1 .7 1.5 .4 1.7-.2 1.8-.6 1.5-1 1.1-1.3 .4z"/><path d="M316.9 89.6l-2.3 .2-2-.6-1.6-1.2-1-1.7-.1-1.7 .6-1.8 1.7-2.1 1-.8 .7-.3 .7-.1 1 .2 2.3 1.2 1.6 1.4 .9 1.6 .2 1.7-.6 1.7-1.4 1.4-1.7 .9z"/><path d="M316.9 72.1l-1-.1-1-.7-.8-1.3-.4-1.4 .1-1.6 .5-1.4 .9-1 1-.3 1 .1 1 .8 .7 1.4 .2 1.2 0 1.5-.5 1.3-.7 1-1 .5z"/><path d="M315.9 89.3l-1.7 0-1.9-.7-1.3-1.3-.6-1.5 0-1.5 .8-1.7 1.4-1.8 1.6-.8 .7 0 1 .3 2.2 1.3 1.3 1.3 .7 1.7-.2 1.7-.7 1.4-1.5 1.1-1.8 .5z"/><path d="M316.6 71.3l-.7-.1-.7-.6-.6-.8-.3-1.2 .1-1.3 .3-1 .7-.8 .8-.3 .7 .1 .7 .6 .6 .9 .3 1.2 0 1.3-.4 1-.7 .7-.8 .3z"/><path d="M316.4 88.8l-1.8 .1-1.7-.5-1.3-1.1-.6-1.3-.1-1.4 .5-1.6 1.2-1.6 1.3-.8 1.5 0 1.8 .8 1.4 1.2 .9 1.4 .1 1.6-.6 1.4-1.1 1.2-1.5 .6z"/><path d="M316.6 70.1l-.4 0-.5-.3-.5-1 .2-1.3 .8-.5 1 .5 .3 .8-.1 1.1-.8 .7z"/><path d="M316.4 88.3l-1.5 .2-1.5-.4-1.1-.8-.8-1.3-.1-1.4 .5-1.5 1-1.3 1.3-.8 1.2 0 1.5 .7 1.3 1.1 .7 1.2 .2 1.3-.5 1.4-1 1-1.2 .6z"/><path d="M316.2 87.9l-1.3 0-1.4-.3-.9-.8-.6-1-.1-1.2 .4-1.3 .9-1.1 1-.7 1.2 0 1.2 .6 1.2 .9 .7 1.3 0 1.3-.4 1-.8 .7-1.1 .6z"/><path d="M315.9 87.3l-1 .1-1-.4-.7-.5-.6-.9-.1-1 .2-1 .7-1 .8-.6 1 0 1.2 .5 .9 .8 .6 1 0 1-.3 .8-.7 .8-1 .4z"/><path d="M315.9 86.6l-1 0-.7-.2-.6-.4-.4-.7-.2-.7 .3-1 .6-.8 .5-.3 .8 0 .7 .2 .8 .6 .5 .7 .1 .8-.1 .8-.6 .6-.7 .4z"/><path d="M315.6 85.6l-1 0-.7-.6-.2-1 .2-.4 .5-.5 1-.1 .8 .5 .3 .5 0 1-.9 .6z"/>
</g>
<g fill="none" stroke="#000" stroke-width="0.8">
<path d="M367.9 85.6l-2.3 .1-2.4-.2-8.3-1.9-2-.6-1.3-.6-.6-.6-.2-.8 .4-.7 1.4-.8 9.6-3.3 1.7-.3 2-.2 3.5 .4 2.2 .9 1.6 1 1.1 1.6 .3 1.4-.6 1.6-1.6 1.4-2 1-2.5 .6z"/><path d="M366.6 84.8l-3.7-.2-7.3-1.4-2.5-.9-.6-.5-.3-.8 .6-.7 1.4-.7 8.4-2.6 3.3-.4 3 .4 2 .8 1.3 1 .7 1.2 .1 1.3-.7 1.3-1.4 1-2 .8-2.3 .4z"/>
</g>
<g fill="none" stroke="#000" stroke-width="0.55">
<path d="M321.9 109.3l-2.3 .1-1.7-.3-1.1-.5-.6-1 .1-1.3 .7-1.3 1.4-1.4 2-1.5 2.2-1.4 2.8-1.2 2.8-1 2.4-.6 2.6-.3 2 .1 1.4 .4 .9 .7 .3 .5 .1 .7-.6 1.6-1.6 1.7-2.1 1.6-2.4 1.5-3 1.3-3.3 1.1-3 .5z"/>
</g>
<path d="M417.6 28.4h.8m62.6 6.8h.8m.1 .8h.8m-38.1 .4h.8m.9 .2h.8m13.9 .4h.8m-2.6 .5h.8m-13.3 .2h.8m12.6 .1h.8m3.7 1.2h.8m-9.1 .3h.8m22.6 0h.8m.7 .4h.8m17.4 .1h.8m-46.7 .4h.8m5.4 0h.8m-10.3 1.4h.8m41.2 .2h.8m-39.5 .2h.8m36.7 .2h.8m3.9 0h.8m-42.7 .3h.8m38.8 0h.8m-17.9 .1h.8m-42.1 .5h.8m56.7 0h.8m-17.5 .2h.8m5.7 0h.8m-26.5 .1h.8m14 0h.8m7.7 0h.8m-6.4 .3h.8m-31.9 .1h.8m17 .2h.8m13 0h.8m30.7 0h.8m-59.4 .1h.8m11.7 .4h.8m2.5 .3h.8m34.3 .8h.8m6.8 0h.8m-38.3 .2h.8m19.3 0h.8m-32.7 .5h.8m-15.7 .1h.8m44 .2h.8m-21.6 .1h.8m-3.4 .2h.8m-50.8 .2h.8m44.9 0h.8m12.1 0h.8m-60 .3h.8m35.9 0h.8m-2.4 .4h.8m6.2 .1h.8m27.8 0h.8m-41.5 .2h.8m50.3 0h.8m-62.6 .2h.8m6.9 .1h.8m20.4 .1h.8m-7 .1h.8m19 .2h.8m-15.9 .1h.8m4.9 0h.8m-5 .1h.8m25.3 0h.8m-33.3 .2h.8m-4.1 .1h.8m-.4 0h.8m45.1 0h.8m-37 .1h.8m-14.4 .1h.8m27.6 0h.8m12 0h.8m-40.8 .1h.8m62.9 .1h.8m-54.5 .1h.8m9.3 0h.8m28.4 .1h.8m-55.8 .1h.8m15.5 0h.8m2.5 0h.8m-15.5 .1h.8m9.3 0h.8m33.9 0h.8m-38.6 .1h.8m-.4 .1h.8m-4 .2h.8m41.7 .1h.8m-52.5 .2h.8m18.2 .1h.8m20.1 .1h.8m.2 0h.8m-15.2 .1h.8m19.3 0h.8m-11.6 .1h.8m-10.6 .1h.8m15.5 0h.8m1.7 0h.8m-22.5 .1h.8m18.9 0h.8m-26.2 .1h.8m14.9 0h.8m11.6 0h.8m-31.8 .1h.8m8.5 0h.8m14.3 0h.8m-15.3 .1h.8m-.3 0h.8m35.6 0h.8m-51.7 .1h.8m21.7 0h.8m-42.8 .1h.8m46.4 0h.8m11.4 0h.8m-22.4 .2h.8m-25.8 .1h.8m49.1 0h.8m-22.5 .1h.8m-20.6 .1h.8m-2.8 .1h.8m-.3 0h.8m11.2 0h.8m39.8 0h.8m-53.6 .1h.8m3.9 0h.8m11.7 0h.8m19.7 0h.8m-34.5 .1h.8m14.7 0h.8m-22.8 .1h.8m.1 0h.8m5.1 0h.8m5.5 0h.8m-10.1 .2h.8m24.3 .1h.8m-54.9 .1h.8m19.4 .1h.8m4.5 0h.8m31.2 0h.8m-12.8 .1h.8m20.5 0h.8m-62.1 .2h.8m31.1 .1h.8m6.2 .1h.8m4.7 .1h.8m12.8 0h.8m-17.4 .1h.8m-.6 0h.8m-15.2 .1h.8m28 0h.8m-35 .1h.8m1.6 .2h.8m33.7 0h.8m-36.4 .1h.8m13.6 0h.8m1.3 0h.8m5.1 0h.8m2.7 0h.8m11.8 0h.8m-23 .1h.8m9.4 0h.8m-23.1 .1h.8m9.6 0h.8m12.9 0h.8m-34.6 .1h.8m6.7 0h.8m32.4 0h.8m-20.4 .1h.8m3.6 0h.8m24.6 0h.8m-72.6 .1h.8m40.6 .1h.8m27.8 0h.8m-49.3 .1h.8m1.3 0h.8m31.9 0h.8m-48.4 .1h.8m6.4 0h.8m3.7 0h.8m2.8 0h.8m-.4 0h.8m44 0h.8m-51 .1h.8m4.2 0h.8m49.9 0h.8m-55.1 .2h.8m3.9 0h.8m19.5 0h.8m15.3 0h.8m-31.9 .1h.8m43.6 0h.8m-48.2 .1h.8m2 0h.8m-.7 0h.8m5.9 0h.8m-9.2 .1h.8m19.8 0h.8m2.4 0h.8m-.1 0h.8m20.1 0h.8m-77.3 .1h.8m31.9 0h.8m5.2 0h.8m4.6 .1h.8m.5 .1h.8m2.8 0h.8m7.4 0h.8m26.5 0h.8m-19.6 .1h.8m-15.3 .1h.8m-28.3 .1h.8m16.4 0h.8m-17 .1h.8m9.3 0h.8m6.4 .1h.8m29 0h.8m-25.9 .1h.8m-20.9 .1h.8m-.4 0h.8m23 0h.8m-19.6 .1h.8m2.9 0h.8m.7 0h.8m-.3 0h.8m-8.9 .1h.8m-15 .1h.8m10.2 0h.8m16.9 0h.8m8.2 0h.8m-34.3 .1h.8m8.4 0h.8m5.3 0h.8m1.5 0h.8m2 0h.8m2.1 0h.8m12 .1h.8m6.6 0h.8m-21.5 .1h.8m3.1 0h.8m24.5 0h.8m-44.2 .1h.8m15.2 0h.8m13.8 0h.8m20.7 0h.8m-39.7 .1h.8m1.4 0h.8m-14.7 .2h.8m14.1 0h.8m.6 0h.8m12.5 0h.8m-34.7 .1h.8m11.2 0h.8m22.3 .1h.8m-30.9 .1h.8m8.9 0h.8m16.6 0h.8m2.9 0h.8m7.4 0h.8m-3.6 .1h.8m-11.1 .1h.8m8.3 0h.8m-43.1 .1h.8m18 0h.8m13.9 0h.8m-6.8 .1h.8m12 0h.8m-33.2 .1h.8m0 0h.8m38.2 0h.8m-40.1 .1h.8m8 0h.8m7 0h.8m18.1 0h.8m-35.9 .1h.8m20.5 0h.8m5.4 0h.8m-34.4 .1h.8m7.1 0h.8m6.1 0h.8m7.6 0h.8m15.8 0h.8m-19.5 .1h.8m15 0h.8m-25.6 .1h.8m.9 0h.8m3.5 0h.8m.9 0h.8m3.4 0h.8m8.1 0h.8m23.2 0h.8m-51.4 .1h.8m4.6 .1h.8m11 0h.8m1.3 0h.8m16.5 0h.8m-38.9 .1h.8m7.8 0h.8m37.6 0h.8m-47.8 .2h.8m32.7 0h.8m7.4 .1h.8m-56.1 .1h.8m11 0h.8m.5 0h.8m41.4 0h.8m-48.4 .1h.8m2.7 0h.8m1.1 0h.8m10.6 0h.8m9.7 0h.8m-23.7 .1h.8m30 0h.8m-35.8 .1h.8m27.5 0h.8m6.1 0h.8m-5.8 .1h.8m.4 0h.8m5.7 0h.8m4.2 0h.8m-43.1 .1h.8m-4 .3h.8m7.8 0h.8m23.2 0h.8m-35 .1h.8m5 0h.8m.6 0h.8m35.9 0h.8m12.1 .1h.8m-50.6 .1h.8m-.4 0h.8m48.4 0h.8m-55.7 .1h.8m10.5 .1h.8m10.8 0h.8m16.7 0h.8m-40.4 .1h.8m32 0h.8m3.9 0h.8m8.1 0h.8m-43.5 .1h.8m28.2 0h.8m-23.6 .1h.8m2.6 0h.8m-.1 0h.8m16.7 0h.8m22.6 0h.8m-16 .1h.8m4 .1h.8m-46.5 .1h.8m13.7 0h.8m14.6 0h.8m-33.2 .1h.8m27.3 0h.8m7.7 0h.8m-27.8 .1h.8m4.1 0h.8m20.3 0h.8m.4 0h.8m6.4 0h.8m-38.6 .1h.8m-.3 0h.8m24.7 0h.8m-31.4 .1h.8m2.9 0h.8m46.9 0h.8m-27.6 .1h.8m22.6 0h.8m-47.1 .2h.8m3.7 0h.8m0 0h.8m9.4 0h.8m1.9 0h.8m.2 0h.8m38.9 0h.8m-58.2 .1h.8m2.6 0h.8m36.1 0h.8m9.2 0h.8m-52.1 .1h.8m3.3 0h.8m17.2 0h.8m-22.9 .1h.8m4.8 0h.8m3.6 0h.8m10.9 0h.8m-16.2 .1h.8m21.3 0h.8m15.5 0h.8m-46.5 .1h.8m6.8 0h.8m9.3 0h.8m24.2 0h.8m9.8 0h.8m-58.4 .1h.8m24.3 0h.8m4.3 0h.8m1.3 0h.8m31.5 0h.8m-60.1 .2h.8m3.9 0h.8m27.2 0h.8m25.5 0h.8m-33.6 .1h.8m5.8 0h.8m5.5 0h.8m-42.3 .1h.8m-.3 0h.8m22.3 0h.8m-20.4 .1h.8m.5 0h.8m4.2 0h.8m2.5 0h.8m4.2 0h.8m30.2 0h.8m14.9 0h.8m-48.8 .1h.8m42.7 0h.8m-55.9 .1h.8m1.6 0h.8m22.5 0h.8m4.8 0h.8m3.1 0h.8m1 0h.8m2.5 0h.8m7.8 0h.8m-49.5 .1h.8m13.9 0h.8m7.1 0h.8m11 0h.8m-4.7 .1h.8m5.6 0h.8m7.7 0h.8m-20 .1h.8m6.2 0h.8m-34.1 .1h.8m13.2 0h.8m30.1 0h.8m-43.2 .1h.8m3.7 0h.8m-11.2 .1h.8m7.1 0h.8m8.2 0h.8m9.5 0h.8m4.8 .1h.8m2.6 0h.8m2.8 0h.8m3.9 0h.8m-41.6 .1h.8m6.4 0h.8m5.5 0h.8m6.6 0h.8m6.4 0h.8m6 0h.8m.6 0h.8m26.6 0h.8m-65.8 .1h.8m-.2 0h.8m2.7 0h.8m16 0h.8m-18.9 .1h.8m-.4 0h.8m39.9 0h.8m-82.7 .1h.8m40.2 0h.8m3 0h.8m24.9 0h.8m3 0h.8m1.2 0h.8m-43.5 .1h.8m12.4 0h.8m14.7 0h.8m9.7 0h.8m15.6 0h.8m-26.8 .1h.8m-25.9 .1h.8m27.2 0h.8m-65.9 .1h.8m39.1 0h.8m2.8 0h.8m2.7 0h.8m8 0h.8m3.7 0h.8m18 0h.8m13 0h.8m-43.5 .1h.8m1.4 0h.8m12.6 0h.8m2.8 0h.8m-30.7 .1h.8m-.1 0h.8m21 0h.8m9.4 0h.8m-29.1 .1h.8m21.1 0h.8m-25.4 .1h.8m2.3 0h.8m5 0h.8m7.2 0h.8m7 0h.8m2.3 0h.8m2.6 0h.8m5.9 0h.8m-31.8 .1h.8m37.8 0h.8m-51.8 .1h.8m2.9 0h.8m14.4 0h.8m3.1 0h.8m-20.4 .1h.8m17.7 0h.8m15.2 0h.8m-.1 0h.8m.9 0h.8m1.1 0h.8m6.3 0h.8m15.7 0h.8m-60.8 .1h.8m15.5 0h.8m10.3 0h.8m-35.5 .1h.8m1.3 0h.8m6.8 0h.8m12.9 0h.8m4 0h.8m13.9 0h.8m-31.3 .1h.8m.6 0h.8m35 0h.8m-46.5 .1h.8m34.2 0h.8m22.9 0h.8m-55.3 .1h.8m16.3 0h.8m-.4 0h.8m1.1 0h.8m11.7 0h.8m2.1 0h.8m2 0h.8m7.9 0h.8m-52.2 .1h.8m29 0h.8m5.4 0h.8m17.9 0h.8m-54.7 .1h.8m34.8 0h.8m9.1 0h.8m-12.9 .1h.8m.5 0h.8m3.3 0h.8m16.9 0h.8m-51.1 .1h.8m-.5 0h.8m12.6 0h.8m9 0h.8m15.4 0h.8m-30.8 .1h.8m2.5 0h.8m-.5 0h.8m21.8 0h.8m-40.9 .1h.8m14.6 0h.8m-18.9 .1h.8m1.9 0h.8m8.2 0h.8m9.2 0h.8m18.4 0h.8m-37.3 .1h.8m11.5 0h.8m-.1 0h.8m2.4 0h.8m12.5 0h.8m9.7 0h.8m1.1 0h.8m-37.9 .1h.8m.4 0h.8m.3 0h.8m6.4 0h.8m1.1 0h.8m3.5 0h.8m-24 .1h.8m21.5 0h.8m-.3 0h.8m6.7 0h.8m5.8 0h.8m1.6 0h.8m3.1 0h.8m7 0h.8m-54.8 .1h.8m11.3 0h.8m8.3 0h.8m-20.2 .1h.8m4.5 0h.8m-.3 0h.8m21.8 0h.8m13.8 0h.8m2 0h.8m4.8 0h.8m-22.6 .1h.8m2.5 0h.8m-.8 0h.8m-39.7 .1h.8m19.7 0h.8m2.6 0h.8m1.8 0h.8m17.7 0h.8m-11 .1h.8m8.8 0h.8m2.6 0h.8m4.3 0h.8m-46.5 .1h.8m16.8 0h.8m6.5 0h.8m3.5 0h.8m15 0h.8m-.7 0h.8m-30.9 .1h.8m5.1 0h.8m0 0h.8m2.1 0h.8m3.7 0h.8m-28.9 .1h.8m21 0h.8m34.8 0h.8m-62.4 .1h.8m10.3 0h.8m13.9 0h.8m8.2 0h.8m10.9 0h.8m8.7 0h.8m-58.2 .1h.8m1.2 0h.8m1.6 0h.8m-.4 0h.8m30.9 0h.8m-10.1 .1h.8m8.5 0h.8m5.8 0h.8m2.6 0h.8m2.9 0h.8m-.4 0h.8m12.8 0h.8m-51.3 .1h.8m17.4 0h.8m-28 .1h.8m9.4 0h.8m21.7 0h.8m1 0h.8m-.4 0h.8m5 0h.8m1.5 0h.8m-47.8 .1h.8m26.6 0h.8m-.2 0h.8m11.9 0h.8m22.6 0h.8m-56.6 .1h.8m-3.1 .1h.8m3.3 0h.8m3.1 0h.8m1.2 0h.8m12 0h.8m-30.2 .1h.8m36.4 0h.8m3.9 0h.8m-.5 0h.8m-41.1 .1h.8m1.1 0h.8m11.6 0h.8m18.5 0h.8m1.4 0h.8m7.4 0h.8m-47.6 .1h.8m25.9 0h.8m1.2 0h.8m39.4 0h.8m-64.6 .1h.8m47.6 0h.8m9.1 0h.8m-27.6 .1h.8m4.8 0h.8m-43.4 .1h.8m4.3 0h.8m6.2 0h.8m3.9 0h.8m6.8 0h.8m.6 0h.8m3.1 0h.8m5.9 0h.8m6.3 0h.8m-75.6 .1h.8m34.2 0h.8m1.2 0h.8m1.4 0h.8m10.6 0h.8m13.4 0h.8m3.8 0h.8m-4 .1h.8m-36.6 .1h.8m3.3 0h.8m27.2 0h.8m-.1 0h.8m-30.5 .1h.8m2.6 0h.8m.6 0h.8m1.2 0h.8m4.7 0h.8m17.3 0h.8m5.4 0h.8m15.4 0h.8m-51.7 .1h.8m3.9 0h.8m4.6 0h.8m13.5 0h.8m2.5 0h.8m13.4 0h.8m-.5 0h.8m-36.6 .1h.8m.9 0h.8m41 0h.8m-52.5 .1h.8m.3 0h.8m.4 0h.8m-.3 0h.8m5 0h.8m9.2 0h.8m17.6 0h.8m5.3 0h.8m3.3 0h.8m11.9 0h.8m-60.3 .1h.8m13.3 0h.8m5.9 0h.8m7.4 0h.8m3.8 0h.8m9.1 0h.8m3 0h.8m6.4 0h.8m-55.1 .1h.8m2.4 0h.8m-.1 0h.8m7.5 0h.8m3.9 0h.8m11.7 0h.8m6.4 0h.8m-.7 0h.8m.2 0h.8m0 0h.8m-.7 0h.8m0 0h.8m1.6 0h.8m-.5 0h.8m20 0h.8m-65.7 .1h.8m2.1 0h.8m2.4 0h.8m1.7 0h.8m2.3 0h.8m12.1 0h.8m1.4 0h.8m1.6 0h.8m5.4 0h.8m12.7 0h.8m-41.6 .1h.8m9.5 0h.8m.1 0h.8m3.9 0h.8m2.7 0h.8m4.8 0h.8m8.3 0h.8m1.5 0h.8m5.7 0h.8m11.8 0h.8m-57.2 .1h.8m.3 0h.8m3.1 0h.8m10.8 0h.8m-.3 0h.8m3.4 0h.8m2.3 0h.8m7 0h.8m12.3 0h.8m1.8 0h.8m-42.4 .1h.8m-.6 0h.8m6.8 0h.8m1.3 0h.8m.7 0h.8m4.9 0h.8m4.1 0h.8m11.4 0h.8m1.4 0h.8m-49.4 .1h.8m11.8 0h.8m6.7 0h.8m5.9 0h.8m.5 0h.8m.1 0h.8m1.5 0h.8m6.7 0h.8m.8 0h.8m-35.6 .1h.8m7.6 0h.8m1.8 0h.8m9.2 0h.8m4.7 0h.8m.1 0h.8m14.9 0h.8m-47.7 .1h.8m9.8 0h.8m19 0h.8m-.5 0h.8m22.3 0h.8m-.4 0h.8m-53.3 .1h.8m5.9 0h.8m10.2 0h.8m4.2 0h.8m3.4 0h.8m7.3 0h.8m3.5 0h.8m1.4 0h.8m0 0h.8m-45.9 .1h.8m1 0h.8m9.5 0h.8m3.1 0h.8m17.2 0h.8m.5 0h.8m-.4 0h.8m2.3 0h.8m.1 0h.8m-38.7 .1h.8m.5 0h.8m7.3 0h.8m13.1 0h.8m1.1 0h.8m.1 0h.8m-.6 0h.8m36.2 0h.8m-64.8 .1h.8m1.5 0h.8m3.1 0h.8m3.6 0h.8m5.5 0h.8m-13.4 .1h.8m.4 0h.8m4.4 0h.8m11 0h.8m2.3 0h.8m4.9 0h.8m.2 0h.8m4.3 0h.8m15.6 0h.8m.5 0h.8m-53.8 .1h.8m2.4 0h.8m25.7 0h.8m-.4 0h.8m-.8 0h.8m-.3 0h.8m4 0h.8m1.8 0h.8m1.1 0h.8m5.2 0h.8m13.7 0h.8m-48.2 .1h.8m-.1 0h.8m7.7 0h.8m4.8 0h.8m13.8 0h.8m3.6 0h.8m-39.9 .1h.8m-.3 0h.8m6.3 0h.8m1.8 0h.8m5.4 0h.8m-.5 0h.8m9.6 0h.8m3.6 0h.8m10.5 0h.8m5.6 0h.8m-58.2 .1h.8m20.4 0h.8m9.9 0h.8m.7 0h.8m7.1 0h.8m-44.7 .1h.8m.8 0h.8m9.4 0h.8m13.4 0h.8m7.2 0h.8m3.6 0h.8m10.9 0h.8m0 0h.8m8.8 0h.8m-53.3 .1h.8m11.3 0h.8m.7 0h.8m6.2 0h.8m-.2 0h.8m8.6 0h.8m8 0h.8m-46.3 .1h.8m1 0h.8m-.5 0h.8m3.3 0h.8m1.7 0h.8m32.1 0h.8m13.5 0h.8m-57.6 .1h.8m13.3 0h.8m2.4 0h.8m1 0h.8m1.4 0h.8m1.1 0h.8m5.8 0h.8m.3 0h.8m-.2 0h.8m2.3 0h.8m1.7 0h.8m10.9 0h.8m5.9 0h.8m-55.3 .1h.8m-.6 0h.8m.9 0h.8m17.7 0h.8m3.6 0h.8m.7 0h.8m3 0h.8m1.4 0h.8m.2 0h.8m7.1 0h.8m3.7 0h.8m7.6 0h.8m3 0h.8m-63.5 .1h.8m5.5 0h.8m8.6 0h.8m-.3 0h.8m4.4 0h.8m11.8 0h.8m2.5 0h.8m-34.8 .1h.8m5.8 0h.8m.9 0h.8m6.9 0h.8m.1 0h.8m3.1 0h.8m8.7 0h.8m5 0h.8m3.4 0h.8m25 0h.8m-34.8 .1h.8m.2 0h.8m3.6 0h.8m3 0h.8m6.9 0h.8m1.4 0h.8m-49.2 .1h.8m2.3 0h.8m4.7 0h.8m3.6 0h.8m.5 0h.8m.8 0h.8m.9 0h.8m-.4 0h.8m4.2 0h.8m6.1 0h.8m.7 0h.8m-.3 0h.8m12 0h.8m-46.3 .1h.8m3.5 0h.8m-.6 0h.8m3.7 0h.8m10.2 0h.8m9.4 0h.8m0 0h.8m-.3 0h.8m-.8 0h.8m-27.5 .1h.8m2.6 0h.8m2.4 0h.8m1.1 0h.8m4.7 0h.8m6.3 0h.8m.2 0h.8m2.1 0h.8m-.6 0h.8m.9 0h.8m4.3 0h.8m3.3 0h.8m.6 0h.8m-.2 0h.8m0 0h.8m7.4 0h.8m-52.3 .1h.8m3.8 0h.8m.2 0h.8m14.6 0h.8m1.8 0h.8m8 0h.8m.7 0h.8m2.9 0h.8m7.5 0h.8m3.6 0h.8m2.6 0h.8m-57.7 .1h.8m-.1 0h.8m3.7 0h.8m3.4 0h.8m9.8 0h.8m-.5 0h.8m.8 0h.8m2.6 0h.8m.8 0h.8m4.1 0h.8m2.4 0h.8m-.5 0h.8m1.2 0h.8m13.2 0h.8m-53.4 .1h.8m3 0h.8m2.3 0h.8m11.1 0h.8m-.6 0h.8m1.5 0h.8m1.4 0h.8m-.1 0h.8m-.8 0h.8m7.4 0h.8m-.7 0h.8m4.2 0h.8m.4 0h.8m-.2 0h.8m4.7 0h.8m2.7 0h.8m.1 0h.8m2.5 0h.8m-53 .1h.8m3.4 0h.8m4.2 0h.8m5.3 0h.8m10 0h.8m3.2 0h.8m2.4 0h.8m6.1 0h.8m.5 0h.8m-.5 0h.8m5.4 0h.8m-45 .1h.8m1.1 0h.8m2.7 0h.8m-.8 0h.8m.6 0h.8m11 0h.8m2.6 0h.8m4.3 0h.8m15.2 0h.8m.5 0h.8m11.7 0h.8m-63.2 .1h.8m5.6 0h.8m15.3 0h.8m7.9 0h.8m7.6 0h.8m8.3 0h.8m6.7 0h.8m-52.7 .1h.8m15.1 0h.8m13.1 0h.8m-.5 0h.8m5 0h.8m13.8 0h.8m-37.5 .1h.8m3.4 0h.8m9.4 0h.8m8.2 0h.8m2.1 0h.8m-38.4 .1h.8m1.2 0h.8m.4 0h.8m4.9 0h.8m10.1 0h.8m2.8 0h.8m2.4 0h.8m2.5 0h.8m1.9 0h.8m-.4 0h.8m2 0h.8m-41.4 .1h.8m3.5 0h.8m12.8 0h.8m.6 0h.8m-.2 0h.8m5.3 0h.8m8.8 0h.8m21.1 0h.8m-45.2 .1h.8m4 0h.8m0 0h.8m7.4 0h.8m9.4 0h.8m1.8 0h.8m1.6 0h.8m2.4 0h.8m-.4 0h.8m18.9 0h.8m-64.1 .1h.8m-.3 0h.8m5 0h.8m.8 0h.8m.4 0h.8m3.7 0h.8m2.1 0h.8m17.4 0h.8m28.7 0h.8m-67.6 .1h.8m4.3 0h.8m16.1 0h.8m8.8 0h.8m5.8 0h.8m.4 0h.8m12.3 0h.8m-43.3 .1h.8m16.3 0h.8m2.3 0h.8m2 0h.8m15.8 0h.8m1.2 0h.8m-49.7 .1h.8m16.5 0h.8m.9 0h.8m.9 0h.8m4.3 0h.8m4.7 0h.8m2.7 0h.8m1.3 0h.8m2.4 0h.8m8.6 0h.8m9.2 0h.8m-.6 0h.8m-63.1 .1h.8m1.9 0h.8m14.6 0h.8m.1 0h.8m1.3 0h.8m9.1 0h.8m4.6 0h.8m-.6 0h.8m6.6 0h.8m2.4 0h.8m3.2 0h.8m.7 0h.8m-55.3 .1h.8m12.2 0h.8m3.9 0h.8m.8 0h.8m19.1 0h.8m3.5 0h.8m18.3 0h.8m-60.2 .1h.8m5 0h.8m3.8 0h.8m10.9 0h.8m8.2 0h.8m7.9 0h.8m4.2 0h.8m8.7 0h.8m3.2 0h.8m-55.7 .1h.8m5.8 0h.8m10 0h.8m.9 0h.8m2.8 0h.8m-.6 0h.8m1.1 0h.8m5.9 0h.8m6.4 0h.8m-40.8 .1h.8m9 0h.8m5 0h.8m13.1 0h.8m-.3 0h.8m1.9 0h.8m4.6 0h.8m1.1 0h.8m10.5 0h.8m-46.3 .1h.8m1.1 0h.8m22.5 0h.8m2 0h.8m.1 0h.8m21.8 0h.8m3 0h.8m-40.5 .1h.8m7.3 0h.8m-.3 0h.8m15.4 0h.8m-46.7 .1h.8m.4 0h.8m2.1 0h.8m4.7 0h.8m9.6 0h.8m9.4 0h.8m7.9 0h.8m3.2 0h.8m3.4 0h.8m-25.4 .1h.8m5.3 0h.8m-.3 0h.8m20.6 0h.8m-50.5 .1h.8m-.2 0h.8m.5 0h.8m12 0h.8m5.2 0h.8m5.7 0h.8m2.3 0h.8m.3 0h.8m5 0h.8m3.5 0h.8m-47.3 .1h.8m5.4 0h.8m18.9 0h.8m7.5 0h.8m5.3 0h.8m4.4 0h.8m13.3 0h.8m-55.9 .1h.8m4 0h.8m1.6 0h.8m7.9 0h.8m-.8 0h.8m1 0h.8m2 0h.8m.2 0h.8m4.2 0h.8m.9 0h.8m4.6 0h.8m2.5 0h.8m.8 0h.8m12.8 0h.8m-.4 0h.8m-58.2 .1h.8m20.7 0h.8m.1 0h.8m9.5 0h.8m.7 0h.8m.9 0h.8m6.3 0h.8m-.4 0h.8m5.9 0h.8m-.2 0h.8m11.8 0h.8m-51.3 .1h.8m.3 0h.8m5 0h.8m.1 0h.8m2 0h.8m1.7 0h.8m5.2 0h.8m-.3 0h.8m1.5 0h.8m5.1 0h.8m7 0h.8m8.5 0h.8m.8 0h.8m2.1 0h.8m-57.2 .1h.8m-.4 0h.8m3.6 0h.8m7.5 0h.8m2.3 0h.8m-.2 0h.8m.2 0h.8m1.7 0h.8m0 0h.8m.8 0h.8m5.4 0h.8m1.8 0h.8m1.9 0h.8m1.6 0h.8m1.2 0h.8m1.1 0h.8m12.7 0h.8m.7 0h.8m-53.9 .1h.8m1.4 0h.8m3 0h.8m1.7 0h.8m1 0h.8m-.2 0h.8m2.3 0h.8m-.3 0h.8m2.5 0h.8m5.9 0h.8m.3 0h.8m-.7 0h.8m4.4 0h.8m2.1 0h.8m26.1 0h.8m-68.8 .1h.8m1.8 0h.8m.7 0h.8m.6 0h.8m5.9 0h.8m4.4 0h.8m1.7 0h.8m7.5 0h.8m6.9 0h.8m-.2 0h.8m.5 0h.8m2.4 0h.8m4.2 0h.8m5.7 0h.8m11.2 0h.8m-62.4 .1h.8m8.9 0h.8m-.1 0h.8m13.3 0h.8m2.2 0h.8m3.1 0h.8m4.6 0h.8m-.7 0h.8m.7 0h.8m3.7 0h.8m2.4 0h.8m-.6 0h.8m-50.4 .1h.8m4.6 0h.8m-.7 0h.8m9.1 0h.8m.5 0h.8m4.8 0h.8m11.6 0h.8m-.8 0h.8m1 0h.8m1.4 0h.8m.4 0h.8m2.7 0h.8m.3 0h.8m11 0h.8m-57.1 .1h.8m12.4 0h.8m1.9 0h.8m2.1 0h.8m2.2 0h.8m3.7 0h.8m-.6 0h.8m-.4 0h.8m2.1 0h.8m2.9 0h.8m-.7 0h.8m-34 .1h.8m4.7 0h.8m2.6 0h.8m4.9 0h.8m6 0h.8m13.4 0h.8m3.4 0h.8m2.4 0h.8m-.6 0h.8m7.3 0h.8m1.3 0h.8m4 0h.8m-56.5 .1h.8m2.8 0h.8m9 0h.8m1.6 0h.8m-.3 0h.8m4.5 0h.8m2.7 0h.8m-.3 0h.8m4.3 0h.8m-.3 0h.8m-.7 0h.8m2.9 0h.8m20.4 0h.8m-42.2 .1h.8m1.3 0h.8m22.7 0h.8m1.8 0h.8m.2 0h.8m6 0h.8m4.7 0h.8m-57.2 .1h.8m16.4 0h.8m3.3 0h.8m1.4 0h.8m-.2 0h.8m1.5 0h.8m-.3 0h.8m.5 0h.8m2 0h.8m2.7 0h.8m19.3 0h.8m-52.7 .1h.8m0 0h.8m8 0h.8m11.2 0h.8m.2 0h.8m9.7 0h.8m7 0h.8m13.9 0h.8m-53.5 .1h.8m5.2 0h.8m-.5 0h.8m1.1 0h.8m2.1 0h.8m.6 0h.8m2.1 0h.8m7.4 0h.8m8.6 0h.8m5.1 0h.8m4.4 0h.8m1.1 0h.8m2.2 0h.8m-52.7 .1h.8m-.1 0h.8m5.3 0h.8m2.5 0h.8m7.8 0h.8m3.9 0h.8m2.1 0h.8m-.4 0h.8m5.3 0h.8m.5 0h.8m2.9 0h.8m4.2 0h.8m-46.4 .1h.8m-.6 0h.8m-.4 0h.8m-.1 0h.8m-.4 0h.8m7.6 0h.8m.5 0h.8m.9 0h.8m9.1 0h.8m2.3 0h.8m11.3 0h.8m15.2 0h.8m-48.1 .1h.8m8.4 0h.8m6.6 0h.8m2.4 0h.8m.5 0h.8m4 0h.8m-.3 0h.8m3 0h.8m1.8 0h.8m2.3 0h.8m3.3 0h.8m-50.2 .1h.8m3.7 0h.8m-.2 0h.8m-.5 0h.8m2.9 0h.8m25.5 0h.8m-.2 0h.8m-.3 0h.8m3.8 0h.8m2.1 0h.8m-42.6 .1h.8m-.5 0h.8m2.6 0h.8m12.5 0h.8m4.5 0h.8m0 0h.8m-.6 0h.8m6.7 0h.8m-.6 0h.8m7.4 0h.8m2.2 0h.8m-47.2 .1h.8m3.5 0h.8m1.1 0h.8m16.9 0h.8m12.3 0h.8m-.5 0h.8m-.1 0h.8m13.3 0h.8m-16.9 .1h.8m3.6 0h.8m9.3 0h.8m12.8 0h.8m-62.8 .1h.8m8.6 0h.8m-.2 0h.8m8.7 0h.8m-.6 0h.8m2.7 0h.8m14.6 0h.8m4.3 0h.8m.2 0h.8m7.1 0h.8m-52.6 .1h.8m-.7 0h.8m6.2 0h.8m.1 0h.8m3.2 0h.8m6 0h.8m18.8 0h.8m.1 0h.8m3.9 0h.8m2.1 0h.8m14 0h.8m-62.7 .1h.8m20.6 0h.8m5.6 0h.8m6.2 0h.8m10.7 0h.8m3 0h.8m1.3 0h.8m14.7 0h.8m-65.5 .1h.8m11.1 0h.8m5.2 0h.8m-.5 0h.8m7.8 0h.8m.7 0h.8m5.3 0h.8m.2 0h.8m2.6 0h.8m5.7 0h.8m2.2 0h.8m-54.9 .1h.8m3.4 0h.8m11.6 0h.8m-.2 0h.8m.8 0h.8m3 0h.8m3 0h.8m20.5 0h.8m.9 0h.8m4.5 0h.8m-51.5 .1h.8m1.3 0h.8m5.3 0h.8m.4 0h.8m13.9 0h.8m-.6 0h.8m6.2 0h.8m6.6 0h.8m.2 0h.8m1.4 0h.8m2.4 0h.8m15.6 0h.8m-61.8 .1h.8m1.7 0h.8m2.3 0h.8m-.8 0h.8m2.9 0h.8m11.8 0h.8m8.9 0h.8m5.4 0h.8m1.9 0h.8m.4 0h.8m-.4 0h.8m1.1 0h.8m17.9 0h.8m-65 .1h.8m9.1 0h.8m1.6 0h.8m3.6 0h.8m1 0h.8m16.1 0h.8m8.8 0h.8m11 0h.8m-58.3 .1h.8m4.8 0h.8m19.3 0h.8m2.4 0h.8m-.5 0h.8m12.1 0h.8m4.1 0h.8m-45.8 .1h.8m9.6 0h.8m1.4 0h.8m7 0h.8m3.2 0h.8m5 0h.8m3.1 0h.8m7.2 0h.8m1.6 0h.8m-.7 0h.8m5.8 0h.8m-50.8 .1h.8m1.5 0h.8m.1 0h.8m22.1 0h.8m6 0h.8m19.8 0h.8m-58.1 .1h.8m4.8 0h.8m-.5 0h.8m.3 0h.8m10.6 0h.8m12.5 0h.8m1.4 0h.8m.4 0h.8m9.2 0h.8m8.2 0h.8m1.3 0h.8m5.7 0h.8m4.1 0h.8m-64.3 .1h.8m1.5 0h.8m10.3 0h.8m-.5 0h.8m5.9 0h.8m7.5 0h.8m8.8 0h.8m-42.8 .1h.8m4.5 0h.8m17.6 0h.8m.5 0h.8m3.4 0h.8m9.6 0h.8m-33.4 .1h.8m10.1 0h.8m11.4 0h.8m23.5 0h.8m-48.4 .1h.8m-.3 0h.8m8.5 0h.8m4.8 0h.8m-.7 0h.8m.4 0h.8m5.8 0h.8m-.1 0h.8m-.3 0h.8m3.8 0h.8m2 0h.8m3 0h.8m-38.1 .1h.8m4.9 0h.8m8.7 0h.8m-.1 0h.8m5 0h.8m1.8 0h.8m1.3 0h.8m2.9 0h.8m1.9 0h.8m12.7 0h.8m3.2 0h.8m-51.5 .1h.8m9.6 0h.8m9.8 0h.8m4.3 0h.8m2.2 0h.8m-.5 0h.8m4.1 0h.8m1.5 0h.8m2.2 0h.8m6.9 0h.8m2.5 0h.8m-58.1 .1h.8m.3 0h.8m6.1 0h.8m-.6 0h.8m1.1 0h.8m6.2 0h.8m13.8 0h.8m-.3 0h.8m7 0h.8m14.5 0h.8m-50 .1h.8m3.7 0h.8m.9 0h.8m5 0h.8m12.4 0h.8m-.5 0h.8m5.8 0h.8m.4 0h.8m11.4 0h.8m-50.1 .1h.8m6.3 0h.8m12 0h.8m8.3 0h.8m3.6 0h.8m6.2 0h.8m23 0h.8m-63.7 .1h.8m4.7 0h.8m13.5 0h.8m-.8 0h.8m2.4 0h.8m3 0h.8m-.3 0h.8m.5 0h.8m3.7 0h.8m-.6 0h.8m-.3 0h.8m.7 0h.8m2.9 0h.8m-.7 0h.8m4.3 0h.8m2.9 0h.8m10.6 0h.8m-57.4 .1h.8m6.9 0h.8m12.7 0h.8m2.5 0h.8m.3 0h.8m-.1 0h.8m-.6 0h.8m-33 .1h.8m1.1 0h.8m1.5 0h.8m6.8 0h.8m2 0h.8m23 0h.8m.7 0h.8m5.9 0h.8m6.5 0h.8m-47.4 .1h.8m-.2 0h.8m-.1 0h.8m3.8 0h.8m-.2 0h.8m4.1 0h.8m1.6 0h.8m8.4 0h.8m4.4 0h.8m-.4 0h.8m-.4 0h.8m2.9 0h.8m-34.1 .1h.8m25 0h.8m.5 0h.8m9.5 0h.8m.9 0h.8m-44.9 .1h.8m-.3 0h.8m10 0h.8m2 0h.8m15 0h.8m2.5 0h.8m3.2 0h.8m-.3 0h.8m4.7 0h.8m7.4 0h.8m6.1 0h.8m1.2 0h.8m-55.4 .1h.8m3.8 0h.8m4.6 0h.8m.6 0h.8m14.6 0h.8m-.6 0h.8m1 0h.8m.4 0h.8m2.9 0h.8m-.5 0h.8m3.7 0h.8m-.2 0h.8m20.9 0h.8m-62.8 .1h.8m9.2 0h.8m3.4 0h.8m.2 0h.8m1.2 0h.8m9.4 0h.8m-.2 0h.8m.1 0h.8m-.7 0h.8m5.1 0h.8m5.5 0h.8m5.6 0h.8m-48.5 .1h.8m3.8 0h.8m4.1 0h.8m.7 0h.8m.5 0h.8m.9 0h.8m-.7 0h.8m1.6 0h.8m.1 0h.8m.6 0h.8m4.5 0h.8m1.8 0h.8m8.4 0h.8m10 0h.8m6.8 0h.8m-56.3 .1h.8m-.1 0h.8m15.6 0h.8m3.8 0h.8m5.8 0h.8m7.5 0h.8m2.4 0h.8m-.7 0h.8m3.4 0h.8m4 0h.8m-49.8 .1h.8m2.1 0h.8m25.7 0h.8m2.7 0h.8m21 0h.8m-53.1 .1h.8m2.3 0h.8m2.4 0h.8m18.2 0h.8m4 0h.8m2.9 0h.8m.9 0h.8m-.6 0h.8m8.4 0h.8m-51.7 .1h.8m.4 0h.8m8.4 0h.8m14.6 0h.8m2 0h.8m6.7 0h.8m5.8 0h.8m-39.3 .1h.8m1.9 0h.8m12.1 0h.8m4.6 0h.8m6.3 0h.8m8.9 0h.8m2.6 0h.8m.1 0h.8m-47.7 .1h.8m9.3 0h.8m8.4 0h.8m11.8 0h.8m5.4 0h.8m-.6 0h.8m-.6 0h.8m-40.5 .1h.8m8.6 0h.8m8 0h.8m1.7 0h.8m.4 0h.8m13.1 0h.8m7.4 0h.8m2.9 0h.8m5.8 0h.8m-51.2 .1h.8m.5 0h.8m.4 0h.8m16.8 0h.8m2.9 0h.8m1.3 0h.8m0 0h.8m-.7 0h.8m-.3 0h.8m1.3 0h.8m11.9 0h.8m12.4 0h.8m-51.5 .1h.8m.4 0h.8m.2 0h.8m.8 0h.8m2.1 0h.8m.1 0h.8m2.2 0h.8m2.1 0h.8m0 0h.8m6.1 0h.8m9.9 0h.8m5.5 0h.8m-24.5 .1h.8m6.1 0h.8m5.1 0h.8m2.2 0h.8m10.1 0h.8m1.8 0h.8m1.1 0h.8m1 0h.8m-.5 0h.8m-.1 0h.8m2.8 0h.8m6 0h.8m-37.4 .1h.8m4.3 0h.8m17.8 0h.8m-47.8 .1h.8m12.4 0h.8m13.6 0h.8m19.4 0h.8m3.7 0h.8m-49.8 .1h.8m10.9 0h.8m.1 0h.8m16.2 0h.8m.4 0h.8m4.2 0h.8m-31.8 .1h.8m7.5 0h.8m-.5 0h.8m6.6 0h.8m11.8 0h.8m0 0h.8m8.5 0h.8m-48.2 .1h.8m2 0h.8m-.2 0h.8m8.9 0h.8m6.5 0h.8m2.8 0h.8m6.3 0h.8m11.5 0h.8m1.4 0h.8m-50.6 .1h.8m5.6 0h.8m8.8 0h.8m6.9 0h.8m2.2 0h.8m2.7 0h.8m9.6 0h.8m1.6 0h.8m.2 0h.8m-46 .1h.8m4.6 0h.8m20 0h.8m27.9 0h.8m1.7 0h.8m-57.1 .1h.8m9.8 0h.8m17.9 0h.8m14.8 0h.8m2.4 0h.8m-.3 0h.8m2.2 0h.8m-46.8 .1h.8m1.2 0h.8m11.6 0h.8m2.8 0h.8m1 0h.8m12.4 0h.8m5.3 0h.8m2.5 0h.8m-44.3 .1h.8m5.1 0h.8m15.1 0h.8m0 0h.8m-.6 0h.8m13.1 0h.8m-35.6 .1h.8m1.2 0h.8m21.2 0h.8m6.7 0h.8m15.7 0h.8m-51.6 .1h.8m1.2 0h.8m22.5 0h.8m6.4 0h.8m10.2 0h.8m3.8 0h.8m2.3 0h.8m.8 0h.8m-56.3 .1h.8m10.1 0h.8m1.7 0h.8m7.8 0h.8m5 0h.8m3.9 0h.8m10.4 0h.8m5.2 0h.8m-48.4 .1h.8m11.8 0h.8m4.1 0h.8m.5 0h.8m.3 0h.8m1.8 0h.8m1.8 0h.8m.2 0h.8m3.3 0h.8m2.6 0h.8m.9 0h.8m24.7 0h.8m-61.7 .1h.8m-.3 0h.8m5.9 0h.8m8.1 0h.8m7.3 0h.8m4 0h.8m3.4 0h.8m5.6 0h.8m7.7 0h.8m-49.1 .1h.8m1.3 0h.8m0 0h.8m26.7 0h.8m-31.5 .1h.8m0 0h.8m13.3 0h.8m5.9 0h.8m13.2 0h.8m8.7 0h.8m12.1 0h.8m-56.6 .1h.8m-.6 0h.8m19 0h.8m2.3 0h.8m3 0h.8m.2 0h.8m12.8 0h.8m8 0h.8m-48.2 .1h.8m1.5 0h.8m.4 0h.8m11.6 0h.8m1.9 0h.8m7.1 0h.8m4.9 0h.8m6.7 0h.8m8.6 0h.8m-52.1 .1h.8m10 0h.8m1.4 0h.8m6.4 0h.8m9.4 0h.8m15.1 0h.8m-36 .1h.8m.8 0h.8m11.8 0h.8m1.4 0h.8m12.5 0h.8m5.2 0h.8m-49.2 .1h.8m35 0h.8m10.4 0h.8m-.2 0h.8m-49.7 .1h.8m9 0h.8m1.2 0h.8m9.9 0h.8m13.5 0h.8m17.9 0h.8m-54.3 .1h.8m8.8 0h.8m5.2 0h.8m2.2 0h.8m10.8 0h.8m1.8 0h.8m.6 0h.8m8.7 0h.8m-36.3 .1h.8m3.9 0h.8m22.5 0h.8m.3 0h.8m24.4 0h.8m-62.5 .1h.8m12.5 0h.8m4.4 0h.8m-11.8 .1h.8m1.6 0h.8m10.4 0h.8m8 0h.8m5.9 0h.8m-36.9 .1h.8m14.5 0h.8m0 0h.8m6.5 0h.8m3 0h.8m6.3 0h.8m-32.8 .1h.8m10.4 0h.8m3.4 0h.8m11.9 0h.8m.6 0h.8m-.6 0h.8m-.2 0h.8m9.8 0h.8m1.7 0h.8m1.9 0h.8m3.9 0h.8m-26.9 .1h.8m3.6 0h.8m1.5 0h.8m6.6 0h.8m16.5 0h.8m-34.7 .1h.8m22.3 0h.8m9.4 0h.8m-60.2 .1h.8m8.9 0h.8m6.5 0h.8m2.7 0h.8m5.9 0h.8m1.2 0h.8m-.6 0h.8m-28.8 .1h.8m32.4 0h.8m-38.2 .1h.8m2.8 0h.8m.3 0h.8m12.7 0h.8m.3 0h.8m-.2 0h.8m9.1 0h.8m.5 0h.8m-.6 0h.8m6.7 0h.8m-42.3 .1h.8m12.1 0h.8m-.7 0h.8m7.4 0h.8m15.6 0h.8m6.4 0h.8m-21.7 .1h.8m4.5 0h.8m16 0h.8m-46.2 .1h.8m2.3 0h.8m1 0h.8m13.2 0h.8m2.8 0h.8m-23.4 .1h.8m1.5 0h.8m-.1 0h.8m43.4 0h.8m8.7 0h.8m-18.3 .1h.8m4.2 0h.8m4.8 0h.8m-42.4 .1h.8m5.9 0h.8m4.3 0h.8m2.7 0h.8m1.4 0h.8m11.6 0h.8m1.4 0h.8m10.8 0h.8m3.3 0h.8m-49.9 .1h.8m24.2 0h.8m.6 0h.8m6.3 0h.8m21.5 0h.8m-57.8 .1h.8m.3 0h.8m9.2 0h.8m36 0h.8m-31.9 .1h.8m20.4 0h.8m-41.3 .1h.8m.5 0h.8m27.8 0h.8m6 0h.8m2.3 0h.8m19.7 0h.8m-57 .1h.8m30.1 0h.8m-.6 0h.8m10.2 0h.8m-47 .1h.8m6.5 0h.8m15.6 0h.8m26 0h.8m-.6 0h.8m-51.6 .1h.8m-.3 0h.8m-.6 0h.8m.6 0h.8m-.6 0h.8m3.4 0h.8m.7 0h.8m5 0h.8m5.2 0h.8m16.9 0h.8m-22.3 .1h.8m9.1 0h.8m31.2 0h.8m-44.5 .1h.8m14.9 0h.8m.7 0h.8m7.2 0h.8m-43.7 .1h.8m26.8 0h.8m3 0h.8m3.1 0h.8m24.1 0h.8m-50.7 .1h.8m6.4 0h.8m1.2 0h.8m-3 .1h.8m11.2 0h.8m24.1 0h.8m1.9 0h.8m-48.9 .1h.8m14.9 0h.8m14.4 0h.8m5.5 0h.8m3.2 0h.8m-.1 0h.8m-.2 0h.8m-6.7 .1h.8m-41.7 .1h.8m23.5 0h.8m14.9 0h.8m-22.4 .1h.8m2.9 0h.8m20.7 0h.8m.1 0h.8m-26 .1h.8m11.7 0h.8m7.3 0h.8m1.9 0h.8m-40.9 .1h.8m23.7 0h.8m.1 0h.8m8 0h.8m26.7 0h.8m-69.2 .1h.8m.9 0h.8m5.4 0h.8m5 0h.8m0 0h.8m14.8 0h.8m17.5 0h.8m1.7 0h.8m-46.8 .1h.8m4.6 0h.8m4.7 0h.8m.3 0h.8m5.8 0h.8m5.2 0h.8m-.2 0h.8m1.8 0h.8m5 0h.8m1.2 0h.8m8.6 0h.8m-30.9 .1h.8m12.6 0h.8m2.9 0h.8m2.2 0h.8m-31.2 .1h.8m0 0h.8m10.5 0h.8m31.5 0h.8m-48.9 .1h.8m14.3 0h.8m1.7 0h.8m1.9 0h.8m.5 0h.8m25.7 0h.8m4.4 0h.8m.8 0h.8m-56.4 .1h.8m12.5 0h.8m5.5 0h.8m4.9 0h.8m5.1 0h.8m-23.9 .1h.8m28.3 0h.8m2 0h.8m-47.1 .1h.8m15.3 0h.8m4.2 0h.8m4.3 0h.8m-26 .1h.8m15.4 0h.8m30.6 0h.8m17.8 .1h.8m-63.8 .1h.8m59.8 0h.8m-60.1 .1h.8m3.2 0h.8m33.5 0h.8m18.2 0h.8m-54.7 .1h.8m40.7 0h.8m-35.2 .1h.8m2.3 0h.8m15.9 0h.8m12.4 0h.8m10.8 0h.8m-58.6 .1h.8m4.8 0h.8m15.9 0h.8m13.6 .1h.8m-33.9 .1h.8m16.6 0h.8m20 0h.8m-42.8 .1h.8m1.8 0h.8m6.9 0h.8m15.3 0h.8m.3 0h.8m1.1 0h.8m16.6 .1h.8m-5 .1h.8m-36.1 .1h.8m.7 0h.8m-2.3 .1h.8m14.5 0h.8m1.1 0h.8m33.2 0h.8m-63.9 .3h.8m11.2 0h.8m7.7 .1h.8m17.4 0h.8m-23.1 .1h.8m8.9 0h.8m5.3 0h.8m17.6 0h.8m19.7 0h.8m-53.6 .1h.8m3.4 0h.8m19.8 .1h.8m21.3 .1h.8m-64.1 .2h.8m-1.2 .1h.8m60 0h.8m-25.2 .2h.8m-16.1 .1h.8m4.1 0h.8m13 0h.8m-37.9 .1h.8m41.4 0h.8m-42.1 .1h.8m3.3 0h.8m.2 .1h.8m25.4 0h.8m1.3 0h.8m27.8 0h.8m-6.5 .1h.8m-8.2 .1h.8m3.8 0h.8m-52.2 .1h.8m27.1 0h.8m14.3 0h.8m-41.5 .1h.8m1.2 0h.8m11.7 0h.8m23.8 0h.8m-42 .1h.8m16.4 0h.8m1.1 0h.8m7 0h.8m8.7 0h.8m-33.9 .1h.8m13 0h.8m2 0h.8m5.3 0h.8m3.8 0h.8m-26.9 .1h.8m29.2 0h.8m4.9 0h.8m8.3 0h.8m-35.4 .2h.8m14.4 0h.8m-28 .2h.8m14.6 0h.8m1.3 0h.8m-25 .1h.8m17.4 0h.8m13.3 0h.8m10.4 0h.8m1.9 0h.8m-34.8 .1h.8m-7.1 .1h.8m18.2 0h.8m9.5 0h.8m5.4 0h.8m-44.9 .1h.8m22.8 .1h.8m4.2 0h.8m13.8 .1h.8m.3 0h.8m11.8 0h.8m-21.7 .1h.8m5.8 0h.8m10.3 0h.8m-53.7 .1h.8m9.5 0h.8m-8.7 .1h.8m7.4 0h.8m9.1 .1h.8m11.1 0h.8m1.2 0h.8m1.8 0h.8m20.2 .1h.8m-25.9 .1h.8m6.1 0h.8m-34.4 .1h.8m4.9 0h.8m-3.8 .1h.8m11.1 0h.8m4.3 0h.8m3.6 0h.8m13.1 0h.8m-42.8 .1h.8m3.8 0h.8m-10.1 .1h.8m17.4 0h.8m9.7 0h.8m0 0h.8m.1 0h.8m1.1 0h.8m28 0h.8m-30.4 .1h.8m18.4 0h.8m-4.4 .1h.8m-29.4 .1h.8m5.8 0h.8m7.1 0h.8m7.7 0h.8m27.9 0h.8m-65.7 .1h.8m9.3 0h.8m-7.1 .1h.8m-3.1 .1h.8m26.2 .1h.8m5.7 0h.8m-1.8 .1h.8m.5 0h.8m5.3 0h.8m6.1 0h.8m-45.8 .1h.8m19.3 0h.8m13.6 0h.8m-1.8 .1h.8m11.2 0h.8m-26.1 .1h.8m14.2 0h.8m-27.5 .1h.8m-6.1 .1h.8m-.8 0h.8m13.7 0h.8m10.5 0h.8m14.8 .1h.8m-47.2 .1h.8m23.8 0h.8m.8 0h.8m5.6 0h.8m9.1 0h.8m-3.1 .1h.8m-35.1 .1h.8m2.7 0h.8m4.6 0h.8m7.1 0h.8m22.2 0h.8m-19.3 .1h.8m22.6 0h.8m-40 .1h.8m19.8 0h.8m8.6 0h.8m-47.6 .1h.8m7.7 0h.8m27.3 0h.8m1.7 0h.8m-41.8 .1h.8m5.4 0h.8m1.1 0h.8m-.2 0h.8m11.5 0h.8m41.3 0h.8m-36.7 .1h.8m16.1 0h.8m3.6 0h.8m14.8 0h.8m-51.5 .1h.8m4.2 0h.8m7.7 0h.8m-.5 0h.8m9.7 0h.8m1.2 0h.8m-5.8 .1h.8m-26.2 .1h.8m2.6 0h.8m36.8 0h.8m-53 .1h.8m12.7 0h.8m8.2 0h.8m14.1 0h.8m-.2 0h.8m3.9 0h.8m-26.3 .1h.8m1 0h.8m29.5 0h.8m11.2 0h.8m-56.3 .1h.8m8.8 0h.8m9.9 0h.8m8 0h.8m-.3 0h.8m-.2 0h.8m-11.6 .1h.8m16.1 0h.8m-30.1 .1h.8m6.3 0h.8m5.3 0h.8m4.6 0h.8m9 0h.8m-33.9 .1h.8m17.4 0h.8m-8 .2h.8m8.9 0h.8m2.3 0h.8m-.8 0h.8m8.2 0h.8m1.6 0h.8m3.5 0h.8m1.1 0h.8m-15.4 .1h.8m0 0h.8m8.8 0h.8m-31.7 .1h.8m7.1 0h.8m12.5 0h.8m4 0h.8m1.7 0h.8m-30.6 .1h.8m2.2 0h.8m22 0h.8m.9 0h.8m12.4 0h.8m10.2 0h.8m-45.3 .1h.8m9.3 0h.8m8.5 0h.8m17.5 0h.8m-24.7 .1h.8m-14.1 .1h.8m11.1 0h.8m-.1 0h.8m12.7 0h.8m1.1 .1h.8m6 0h.8m-44.7 .1h.8m3.2 0h.8m9.7 0h.8m22.7 0h.8m-36.5 .1h.8m12.7 0h.8m8.2 0h.8m-40.6 .1h.8m20.1 0h.8m17.9 0h.8m2.4 .1h.8m29 0h.8m-46.1 .1h.8m.6 0h.8m32.4 0h.8m-26.6 .2h.8m18.9 0h.8m-31.9 .2h.8m5.2 0h.8m6.5 0h.8m4 0h.8m.3 0h.8m-11.7 .1h.8m10.6 0h.8m28.7 0h.8m-40.9 .1h.8m25.8 0h.8m-36 .1h.8m11.3 0h.8m8.6 0h.8m-30.3 .1h.8m55.6 0h.8m-54.9 .1h.8m20.4 0h.8m19.9 0h.8m-45.1 .1h.8m21.5 0h.8m2.4 0h.8m-17.4 .1h.8m-25.6 .1h.8m13.2 0h.8m13.1 0h.8m.6 0h.8m6 0h.8m2.8 0h.8m6.9 0h.8m1 0h.8m2.5 0h.8m-16.8 .1h.8m17.5 0h.8m-37.4 .1h.8m34.3 0h.8m5.1 0h.8m6.8 0h.8m-23.2 .1h.8m12.8 0h.8m-19.7 .1h.8m9.9 0h.8m4.8 0h.8m-15.6 .1h.8m23.7 0h.8m-47.1 .1h.8m31.5 0h.8m7.3 0h.8m-33.1 .2h.8m21.2 0h.8m-7.2 .2h.8m-18.8 .1h.8m31.9 0h.8m3 0h.8m-42.8 .1h.8m-1.8 .1h.8m3.9 0h.8m16 0h.8m12.7 0h.8m-40.8 .2h.8m17.8 0h.8m40.2 0h.8m-85.4 .2h.8m46.7 .1h.8m6.7 0h.8m7.3 0h.8m-29.7 .1h.8m15.6 0h.8m1.6 0h.8m-13.8 .1h.8m1.6 0h.8m-.1 0h.8m26.9 0h.8m-23 .2h.8m10.8 0h.8m-36.6 .1h.8m12.1 0h.8m8.5 0h.8m4.6 0h.8m5 0h.8m-22.2 .1h.8m-.7 0h.8m20.5 0h.8m-22.4 .1h.8m9.3 0h.8m14.5 0h.8m-7.4 .1h.8m-22.4 .1h.8m17.4 0h.8m-.1 0h.8m-27.3 .1h.8m15.7 0h.8m-18.8 .1h.8m45.6 0h.8m-39.1 .1h.8m18.4 0h.8m7 0h.8m-25.9 .1h.8m-1.5 .1h.8m3.6 0h.8m20.6 0h.8m-30.2 .1h.8m55.8 0h.8m-33.9 .1h.8m-29.7 .1h.8m26.3 0h.8m-28.3 .2h.8m36.8 0h.8m14.6 .2h.8m1.4 .1h.8m-23.2 .1h.8m7.7 .1h.8m-11.5 .1h.8m10 0h.8m2.2 .1h.8m-35 .1h.8m7.9 0h.8m-7.8 .1h.8m-35.9 .1h.8m26 .1h.8m2.4 0h.8m-8.2 .1h.8m-23.5 .2h.8m24.6 .2h.8m-.2 0h.8m1.3 0h.8m18.7 .4h.8m-56 .2h.8m61.3 .5h.8m-31.1 .3h.8m29.2 0h.8m-36.3 .1h.8m-3.1 .1h.8m1.9 0h.8m2.9 .1h.8m7 0h.8m-13.8 .2h.8m1.8 .2h.8m20 0h.8m18.1 0h.8m-62.8 .2h.8m57 0h.8m-39.1 .1h.8m5.8 .1h.8m2.4 0h.8m-11.3 .1h.8m14.2 0h.8m-11.5 .2h.8m-.7 0h.8m5.1 .1h.8m33.4 0h.8m-63.2 .1h.8m17.7 .2h.8m.6 0h.8m-4.1 .1h.8m11.7 .1h.8m-12.5 .1h.8m2.4 0h.8m2.6 0h.8m-2.2 .1h.8m4.1 0h.8m-.2 0h.8m-14.6 .1h.8m.1 0h.8m4.6 0h.8m-10.1 .1h.8m7.2 .1h.8m-11.3 .1h.8m3.5 0h.8m10.8 .2h.8m15.4 0h.8m-22.5 .1h.8m-10.4 .1h.8m6.4 0h.8m6.4 0h.8m.4 0h.8m-21.7 .2h.8m14.6 0h.8m12.9 0h.8m42.5 0h.8m-63.9 .1h.8m11.4 0h.8m.9 0h.8m7.7 .1h.8m3.5 0h.8m-31.6 .1h.8m3.9 0h.8m9.5 .1h.8m-.6 0h.8m-16.7 .2h.8m-7.6 .1h.8m4.1 0h.8m16 0h.8m-21.3 .1h.8m5.6 0h.8m4.4 .1h.8m10.7 .1h.8m-21.7 .2h.8m20 0h.8m-9.7 .1h.8m.3 0h.8m8.2 0h.8m-10.4 .1h.8m19.5 0h.8m-31.4 .1h.8m2.9 0h.8m9.9 0h.8m1.8 .1h.8m-5 .1h.8m6.3 .1h.8m-16.2 .1h.8m-10.1 .1h.8m14 0h.8m.6 0h.8m4.7 0h.8m.2 0h.8m-.7 .1h.8m6.7 0h.8m1 0h.8m-30.3 .1h.8m22.9 0h.8m-12.4 .2h.8m1.1 0h.8m6.7 .1h.8m-14.4 .2h.8m5.4 0h.8m6.4 0h.8m-28.8 .1h.8m9.4 0h.8m10.8 0h.8m7.8 .1h.8m-11.7 .1h.8m4.1 0h.8m-10.1 .1h.8m6.6 0h.8m.5 0h.8m6.7 0h.8m-30.5 .1h.8m20.3 0h.8m-3 .1h.8m2.8 0h.8m2.1 0h.8m-6.4 .1h.8m5.5 0h.8m-5.5 .1h.8m-6.9 .1h.8m1.3 0h.8m-3.1 .1h.8m9.6 0h.8m-10 .1h.8m15.4 0h.8m-18.2 .1h.8m13.1 0h.8m-25.2 .3h.8m14.2 0h.8m16.2 .1h.8m-13.8 .1h.8m.2 0h.8m-8.4 .1h.8m2.8 0h.8m-1.4 .1h.8m-12.9 .1h.8m4.8 0h.8m3.7 0h.8m.1 0h.8m1.8 0h.8m16.3 0h.8m-26.7 .1h.8m12.7 0h.8m-14.2 .1h.8m18.4 0h.8m-18.9 .1h.8m11.5 0h.8m-11 .1h.8m2.4 .1h.8m.4 .1h.8m3.8 0h.8m-21.2 .1h.8m13.7 0h.8m-9.7 .1h.8m3.9 0h.8m2.1 0h.8m18.1 0h.8m-31.3 .1h.8m12.2 0h.8m5.5 .1h.8m10.4 .1h.8m-26.9 .1h.8m8.2 0h.8m1.2 0h.8m21.9 0h.8m-10.5 .1h.8m-16.2 .1h.8m-32.7 .1h.8m23.3 0h.8m5.4 0h.8m3.4 .2h.8m-3 .1h.8m-6.1 .1h.8m5.3 0h.8m-8.3 .3h.8m5.5 0h.8m-7.7 .1h.8m17.4 .1h.8m-8.2 .3h.8m-16.7 .2h.8m6.6 0h.8m3.3 0h.8m-18.1 .1h.8m7 .1h.8m3.8 0h.8m3.7 0h.8m9.4 .2h.8m-4.6 .5h.8m1.6 .2h.8m-16.1 .1h.8m15.5 0h.8m-.9 .1h.8m-19 .1h.8m7.7 .1h.8m8 0h.8m-11.1 .1h.8m4.1 .3h.8m-11.4 .2h.8m12.2 0h.8m-4.6 .1h.8m-19.7 .1h.8m5.8 .1h.8m9.2 .2h.8m-8.1 .3h.8m11 0h.8m-19 .1h.8m15.1 .2h.8m5.6 0h.8m-.7 0h.8m11.7 .1h.8m-28 .6h.8m13 0h.8m3.8 .4h.8m-10.1 .2h.8m-.4 .1h.8m3.1 0h.8m6.4 0h.8m-13.4 .4h.8m-10 .4h.8m18.4 0h.8m-19.8 .1h.8m30.3 .1h.8m-15.7 .2h.8m2.1 .2h.8m-12.4 .4h.8m-9.3 .2h.8m24.6 .3h.8m-28.1 1h.8m7.1 .4h.8m16.3 .1h.8m-13.4 2.2h.8" stroke="#6a6a6a" stroke-width="0.85" fill="none"/>
<g fill="none" stroke="#000" stroke-width="0.66">
<path d="M434.5 96.8l-2.5-.1-2.5-.5-2.5-1.1-2.5-1.6-1.9-1.9-1.2-2-.7-2-.3-2.3 .4-5.5-.3-5.2 .2-3.3 .6-4 1.2-3.5 2-3.8 2.5-2.8 1.5-1.2 1.5-.7 1.5-.5 1.5-.2 2.5 .3 2.5 1.2 2.2 1.8 2.2 2.7 1.9 3.4 1.4 3.6 .9 4 .5 4.2-.2 4.2-.7 5.3-.8 3-1 2.3-1.9 2.4-2.3 1.9-2.7 1.3-3 .6z"/><path d="M433.5 95.3l-2.3-.1-2.2-.5-2.2-1-1.8-1.3-1.6-1.6-1-1.8-.6-1.7-.2-2 .3-2.3 1.3-4.7 .1-5.3 .3-3 .7-2.7 1.1-3 1.8-3.5 1.8-2.2 2.2-1.5 2.3-.4 2.3 .4 2 1.1 1.9 1.8 1.7 2.6 1.2 3 1 3.4 .6 3.8 .2 3.8-.1 9-.5 2.2-.8 2-1.8 2.2-2.2 1.8-2.8 1.1-2.7 .4z"/><path d="M434.5 94.1l-2 .1-2.3-.3-2-.6-1.7-1-1.5-1.3-1.1-1.4-.8-1.8-.3-2 .1-1.5 .5-1.7 2.3-4.6 .4-1.2 .5-8.8 .4-2.7 .7-2 1.2-2.3 1.3-1.4 1.6-1 1.7-.4 2.3 .4 2.1 1.4 1.7 2 1.5 3 .6 2.6 .3 2.7-.4 8.3 1 4.4 .2 1.8-.1 1.8-.4 1.4-.7 1.6-.9 1.2-1.2 1.1-1.5 1-1.8 .8-1.7 .4z"/><path d="M434.8 93.3l-2 .2-2-.2-2-.6-1.8-.9-1.5-1.2-1.1-1.6-.6-1.4-.2-1.8 .2-2 .7-1.8 1-1.6 2.3-2.8 .5-1.3 0-1.3-.6-4-.1-2.2 .2-2.8 .6-2.2 1-2 1.1-1.3 1.5-1 1.8-.4 2 .5 2 1.3 1.6 2.1 1.1 2.6 .5 2.4 .2 2.6-.2 2.4-.8 3.8-.1 1.5 .4 1.5 1.1 3.2 .3 2-.1 1.6-.3 1.2-.5 1.2-.9 1.3-1.1 1.1-1.2 .8-1.6 .7-1.4 .4z"/><path d="M434.2 93.1l-1.7 .1-2-.3-1.7-.5-1.8-1-1.2-1.1-1.1-1.5-.6-1.5-.2-1.5 .3-2 .9-2 1.3-1.8 2.4-2.4 .5-1 0-1-1-3.8-.3-2.5 .1-3 .7-2.5 .9-1.8 1.1-1.2 1.4-.9 1.6-.3 2 .4 1.7 1.2 1.6 2.1 1.1 2.5 .5 2.5 .1 2.5-.3 2-.9 4-.1 1.5 .3 1.5 1.3 3.2 .4 2.3-.1 1.5-.4 1.2-.6 1.3-.9 1.1-2.3 1.7-1.4 .6-1.6 .4z"/><path d="M433.2 92.8l-1.7 0-1.7-.4-1.6-.7-1.4-.9-1.2-1.2-.7-1.3-.4-1.3-.2-1.4 .4-2 1-2 1.5-1.8 2.7-2.2 .4-.8-.1-1-1.3-3.8-.5-2.4 .1-2.8 .6-2.8 .9-1.7 1.2-1.3 1.3-.7 1.5-.2 1.8 .4 1.7 1.2 1.4 1.9 1 2.4 .5 2.3 0 2.5-.3 2-1 3.8-.2 1.7 .4 1.5 1.5 3.5 .3 2.3-.2 1.4-.4 1.3-.8 1.3-.9 1-1 .8-1.6 .7-1.4 .5-1.6 .2z"/><path d="M434.5 92.3l-1.7 .2-1.8-.2-1.8-.5-1.4-.8-1.2-1-1-1.2-.7-1.5-.2-1.5 .4-2.2 1.1-2 1.6-1.6 2.7-2 .6-.7 .1-.5-.1-.8-1.4-3-.7-2.2-.2-2.2 .1-2.3 .7-2.5 1.1-1.8 1.5-1.1 1.6-.4 1.7 .3 1.7 1.2 1.4 1.8 1 2.5 .4 2.3 0 2.2-.3 2-1.2 3.8-.1 1.7 .3 1.5 1.6 3.5 .4 2-.4 2.3-.6 1.2-.7 1-2 1.6-2.5 .9z"/><path d="M433.8 92.1l-1.8 0-1.5-.2-1.5-.6-1.2-.7-1-.9-.9-1.1-.6-1.3-.2-1.5 .4-2.2 1.2-2 1.8-1.7 3.2-1.9 .5-.7-.2-1-1.7-3-.7-2-.4-2.3 0-2.2 .6-2.3 1.1-1.9 1.3-1.2 1.8-.4 1.8 .4 1.4 1.2 1.3 1.7 .9 2.3 .3 2.2-.1 2.2-.4 2-1.2 3.3-.2 1.7 .4 1.8 1.7 3.8 .3 2-.4 2.2-1.3 2-1 .8-1.3 .8-2.4 .7z"/><path d="M434.5 91.6l-1.5 .2-1.8-.1-1.4-.4-1.5-.7-1.1-.9-.9-1.1-.5-1.3-.3-1.5 .5-2.2 1.3-2 1.7-1.5 3.5-1.7 .6-.8 .1-.6-.3-.7-1.9-2.7-.9-1.8-.5-2-.1-2.2 .5-2.6 1-2 1.5-1.2 1.5-.3 1.5 .3 1.5 1.1 1.2 1.7 .9 2.2 .3 2.2-.2 2.3-.5 1.7-1.4 3.6-.2 1.4 .5 1.8 1.8 3.5 .4 2.3-.3 2-1.1 1.7-1.6 1.4-2.3 .9z"/><path d="M434 91.3l-1.5 .1-1.5-.1-1.2-.4-1.3-.7-1.1-.9-.7-1-.6-1.3-.2-1.2 .2-1.2 .3-1 1.5-2 1.9-1.4 3.4-1.4 1.1-1 .1-.5-.3-.7-2.3-2.7-1-1.6-.7-2-.2-2 .2-2.5 .9-2 1.2-1.3 .8-.4 1-.1 1.5 .3 1.5 1.2 1.1 1.5 .7 2 .2 2.3-.2 2.3-.7 2-1.7 3.2-.2 1 .5 1.5 2.2 4 .5 2.3-.4 2-1.1 1.7-1.7 1.3-2.2 .7z"/><path d="M435.5 75.8l-.7-.1-.8-.4-2-1.9-1.1-1.8-.6-2.3 0-2.5 .7-2.2 1.2-1.5 1.6-.6 1.4 .2 1.6 1.1 1.2 2 .6 2.2 0 2.3-.6 2.3-1.2 2.2-.8 .8-.5 .2z"/><path d="M433.2 91.1l-1.4-.1-1.3-.2-1.3-.6-1-.6-.9-1-.6-1-.3-1.3 0-1.3 .3-1 .5-1.1 1.8-1.8 2.2-1 3.8-1 .8 .3 .4 .5 1.9 2.7 .8 2 0 1.7-.6 1.7-1.3 1.6-1.8 1-2 .5z"/><path d="M435 74.8l-1.5-.6-1.4-1.4-.9-1.8-.5-2 0-2.2 .6-1.8 .9-1.2 .8-.5 .8-.2 1.4 .2 1.6 1.2 1 1.8 .4 2-.1 2.3-.6 2-1.3 1.7-.4 .4-.8 .1z"/><path d="M434 90.6l-1.2 .1-1.6-.1-1.2-.4-1.1-.6-.8-.8-.8-1-.4-1-.1-1.2 .2-1.3 .5-1 .7-1 .9-.7 2.4-1.2 3-.5 1.3 .5 1.4 1.6 1.1 2 .2 1.8-.3 1.5-1 1.5-1.4 1.1-1.8 .7z"/><path d="M435.5 73.9l-1.3-.1-1.4-1-1-1.5-.6-1.7-.1-2 .4-1.9 1-1.4 1.3-.6 1.2 .1 1.2 .9 1 1.3 .5 1.8 .1 2-.4 1.8-.9 1.5-1 .8z"/><path d="M433 90.3l-2.2-.3-1.1-.4-1.1-.8-.6-.8-.5-1-.2-1 0-1 .3-1 .6-1 1.6-1.3 2.2-.9 2.5-.2 .7 .2 .8 .5 1.2 1.5 .8 1.8 0 1.7-.5 1.5-1.1 1.2-1.6 1-1.8 .3z"/><path d="M435.2 73.1l-1 0-1.2-.8-1-1.5-.4-1.5-.1-1.7 .4-1.6 .9-1.1 1-.5 1.2 .1 1 .7 .8 1.1 .5 1.7 .1 1.8-.4 1.4-.8 1.3-1 .6z"/><path d="M433.8 89.8l-2 0-2-.7-1.4-1.3-.6-1.8 .2-1.7 1-1.5 1.8-1.2 2.2-.5 1.8 .1 1.2 .8 1.1 1.6 .5 1.7-.2 1.5-.6 1.3-1.3 1-1.7 .7z"/><path d="M435 72.4l-1-.2-.9-.6-.6-1-.4-1.6 0-1.4 .4-1.3 .7-.7 .8-.4 1 .2 .8 .6 .7 1 .3 1.3 0 1.5-.3 1.1-.7 1.1-.8 .4z"/><path d="M434 89.3l-1.8 .2-1.4-.4-1.4-.8-.9-1.3-.3-1.4 .4-1.6 1-1.2 1.4-.8 1.8-.5 1.7 .2 1.4 .9 1 1.4 .2 1.8-.4 1.5-1.1 1.3-1.6 .7z"/><path d="M435 71.4l-.8 0-.5-.4-.6-.7-.3-1-.1-1 .3-1 .5-.6 .5-.3 .8 .1 .4 .3 .6 .7 .3 .8 .1 1-.2 .9-.5 .8-.5 .4z"/><path d="M434 88.8l-1.5 .2-1.3-.2-1.3-.8-.8-1-.4-1.2 .2-1.2 .8-1.3 1.1-.7 1.4-.6 1.8 .1 1.2 .5 1 1.3 .5 1.4-.3 1.5-.9 1.2-1.5 .8z"/><path d="M432.8 88.6l-1.5-.3-1.2-.7-.6-1-.2-1.3 .5-1.3 1-.9 1.2-.6 1.5 0 1.1 .3 .9 .8 .5 1 .1 1.2-.3 1.2-.8 .8-1 .5-1.2 .3z"/><path d="M433.8 87.9l-1 .1-1.2-.2-.9-.5-.6-.7-.2-.8 .1-1 .5-.9 .8-.6 1.2-.4 1.3 .1 1 .5 .6 .8 .2 1-.1 1-.7 1-1 .6z"/><path d="M433.2 87.3l-1 0-.6-.3-.6-.4-.4-.8 0-.8 .3-.7 .6-.5 .7-.4 1 0 .8 .2 .5 .4 .5 .8 .1 .8-.3 .8-.7 .6-.9 .3z"/><path d="M433.2 86.6l-1.2-.3-.6-.7 0-.8 .7-.8 .7-.1 .7 .1 .5 .3 .4 .5 0 .5-.2 .6-.4 .5-.6 .2z"/>
</g>
<g fill="none" stroke="#000" stroke-width="0.55">
<path d="M439.5 108.8l-2.3 .2-1.7-.1-1.5-.6-.6-.7 0-1 .5-1.3 1.1-1.3 1.8-1.4 2.2-1.5 2.5-1.2 2.5-.9 2.5-.7 2.3-.3 2 0 1.4 .3 1.2 .7 .3 1-.5 1.6-1.3 1.4-1.8 1.6-2.3 1.4-2.6 1.2-3 1-2.7 .6z"/>
</g>
<g><path d="M55.6 141.2V25.3H518.8V141.2H55.6" fill="none" stroke="#222" stroke-width="0.9"/>
<path d="M171.8 25.3V141.2" stroke="#333" stroke-width="0.8"/>
<path d="M288.0 25.3V141.2" stroke="#333" stroke-width="0.8"/>
<path d="M403.6 25.3V141.2" stroke="#333" stroke-width="0.8"/>
<path d="M53.2 140.4H55.6" stroke="#222" stroke-width="0.7"/>
<path d="M54.3 131.96H55.6" stroke="#222" stroke-width="0.7"/>
<path d="M54.3 127.02H55.6" stroke="#222" stroke-width="0.7"/>
<path d="M54.3 123.51H55.6" stroke="#222" stroke-width="0.7"/>
<path d="M54.3 120.79H55.6" stroke="#222" stroke-width="0.7"/>
<path d="M54.3 118.57H55.6" stroke="#222" stroke-width="0.7"/>
<path d="M54.3 116.69H55.6" stroke="#222" stroke-width="0.7"/>
<path d="M54.3 115.07H55.6" stroke="#222" stroke-width="0.7"/>
<path d="M54.3 113.63H55.6" stroke="#222" stroke-width="0.7"/>
<path d="M53.2 112.35H55.6" stroke="#222" stroke-width="0.7"/>
<path d="M54.3 103.91H55.6" stroke="#222" stroke-width="0.7"/>
<path d="M54.3 98.97H55.6" stroke="#222" stroke-width="0.7"/>
<path d="M54.3 95.46H55.6" stroke="#222" stroke-width="0.7"/>
<path d="M54.3 92.74H55.6" stroke="#222" stroke-width="0.7"/>
<path d="M54.3 90.52H55.6" stroke="#222" stroke-width="0.7"/>
<path d="M54.3 88.64H55.6" stroke="#222" stroke-width="0.7"/>
<path d="M54.3 87.02H55.6" stroke="#222" stroke-width="0.7"/>
<path d="M54.3 85.58H55.6" stroke="#222" stroke-width="0.7"/>
<path d="M53.2 84.3H55.6" stroke="#222" stroke-width="0.7"/>
<path d="M54.3 75.86H55.6" stroke="#222" stroke-width="0.7"/>
<path d="M54.3 70.92H55.6" stroke="#222" stroke-width="0.7"/>
<path d="M54.3 67.41H55.6" stroke="#222" stroke-width="0.7"/>
<path d="M54.3 64.69H55.6" stroke="#222" stroke-width="0.7"/>
<path d="M54.3 62.47H55.6" stroke="#222" stroke-width="0.7"/>
<path d="M54.3 60.59H55.6" stroke="#222" stroke-width="0.7"/>
<path d="M54.3 58.97H55.6" stroke="#222" stroke-width="0.7"/>
<path d="M54.3 57.53H55.6" stroke="#222" stroke-width="0.7"/>
<path d="M53.2 56.25H55.6" stroke="#222" stroke-width="0.7"/>
<path d="M54.3 47.81H55.6" stroke="#222" stroke-width="0.7"/>
<path d="M54.3 42.87H55.6" stroke="#222" stroke-width="0.7"/>
<path d="M54.3 39.36H55.6" stroke="#222" stroke-width="0.7"/>
<path d="M54.3 36.64H55.6" stroke="#222" stroke-width="0.7"/>
<path d="M54.3 34.42H55.6" stroke="#222" stroke-width="0.7"/>
<path d="M54.3 32.54H55.6" stroke="#222" stroke-width="0.7"/>
<path d="M54.3 30.92H55.6" stroke="#222" stroke-width="0.7"/>
<path d="M54.3 29.48H55.6" stroke="#222" stroke-width="0.7"/>
<path d="M53.2 28.2H55.6" stroke="#222" stroke-width="0.7"/>
<text transform="translate(41.95 143.35) scale(0.726 1)" font-size="8.89" font-weight="bold" stroke="#000" stroke-width="0.5">10</text>
<text transform="translate(49.21 138.20) scale(0.798 1)" font-size="7.38" font-weight="bold" stroke="#000" stroke-width="0.4">0</text>
<text transform="translate(41.95 115.30) scale(0.726 1)" font-size="8.89" font-weight="bold" stroke="#000" stroke-width="0.5">10</text>
<text transform="translate(49.07 110.15) scale(0.804 1)" font-size="7.49" font-weight="bold" stroke="#000" stroke-width="0.4">1</text>
<text transform="translate(41.95 87.25) scale(0.726 1)" font-size="8.89" font-weight="bold" stroke="#000" stroke-width="0.5">10</text>
<text transform="translate(49.25 82.10) scale(0.790 1)" font-size="7.38" font-weight="bold" stroke="#000" stroke-width="0.4">2</text>
<text transform="translate(41.95 59.20) scale(0.726 1)" font-size="8.89" font-weight="bold" stroke="#000" stroke-width="0.5">10</text>
<text transform="translate(49.32 54.05) scale(0.762 1)" font-size="7.38" font-weight="bold" stroke="#000" stroke-width="0.4">3</text>
<text transform="translate(41.95 31.15) scale(0.726 1)" font-size="8.89" font-weight="bold" stroke="#000" stroke-width="0.5">10</text>
<text transform="translate(49.37 26.00) scale(0.699 1)" font-size="7.49" font-weight="bold" stroke="#000" stroke-width="0.4">4</text>
<path d="M56.2 141.2v2.2" stroke="#222" stroke-width="0.7"/>
<path d="M61.62 141.2v1.1" stroke="#222" stroke-width="0.6"/>
<path d="M67.03 141.2v1.1" stroke="#222" stroke-width="0.6"/>
<path d="M72.45 141.2v1.1" stroke="#222" stroke-width="0.6"/>
<path d="M77.86 141.2v2.2" stroke="#222" stroke-width="0.7"/>
<path d="M83.28 141.2v1.1" stroke="#222" stroke-width="0.6"/>
<path d="M88.69 141.2v1.1" stroke="#222" stroke-width="0.6"/>
<path d="M94.11 141.2v1.1" stroke="#222" stroke-width="0.6"/>
<path d="M99.52 141.2v2.2" stroke="#222" stroke-width="0.7"/>
<path d="M104.94 141.2v1.1" stroke="#222" stroke-width="0.6"/>
<path d="M110.35 141.2v1.1" stroke="#222" stroke-width="0.6"/>
<path d="M115.77 141.2v1.1" stroke="#222" stroke-width="0.6"/>
<path d="M121.18 141.2v2.2" stroke="#222" stroke-width="0.7"/>
<path d="M126.6 141.2v1.1" stroke="#222" stroke-width="0.6"/>
<path d="M132.01 141.2v1.1" stroke="#222" stroke-width="0.6"/>
<path d="M137.43 141.2v1.1" stroke="#222" stroke-width="0.6"/>
<path d="M142.84 141.2v2.2" stroke="#222" stroke-width="0.7"/>
<path d="M148.25 141.2v1.1" stroke="#222" stroke-width="0.6"/>
<path d="M153.67 141.2v1.1" stroke="#222" stroke-width="0.6"/>
<path d="M159.09 141.2v1.1" stroke="#222" stroke-width="0.6"/>
<path d="M164.5 141.2v2.2" stroke="#222" stroke-width="0.7"/>
<text transform="translate(54.07 150.75) scale(1.157 1)" font-size="7.10" font-weight="bold" stroke="#000" stroke-width="0.5">0</text>
<text transform="translate(70.13 150.75) scale(1.071 1)" font-size="7.10" font-weight="bold" stroke="#000" stroke-width="0.5">200</text>
<text transform="translate(92.08 150.75) scale(1.145 1)" font-size="7.10" font-weight="bold" stroke="#000" stroke-width="0.5">400</text>
<text transform="translate(113.39 150.75) scale(1.170 1)" font-size="7.10" font-weight="bold" stroke="#000" stroke-width="0.5">600</text>
<text transform="translate(133.14 150.75) scale(1.140 1)" font-size="7.10" font-weight="bold" stroke="#000" stroke-width="0.5">800</text>
<text transform="translate(150.22 150.75) scale(1.077 1)" font-size="7.10" font-weight="bold" stroke="#000" stroke-width="0.5">1000</text>
<path d="M172.7 141.2v2.2" stroke="#222" stroke-width="0.7"/>
<path d="M178.11 141.2v1.1" stroke="#222" stroke-width="0.6"/>
<path d="M183.53 141.2v1.1" stroke="#222" stroke-width="0.6"/>
<path d="M188.94 141.2v1.1" stroke="#222" stroke-width="0.6"/>
<path d="M194.36 141.2v2.2" stroke="#222" stroke-width="0.7"/>
<path d="M199.77 141.2v1.1" stroke="#222" stroke-width="0.6"/>
<path d="M205.19 141.2v1.1" stroke="#222" stroke-width="0.6"/>
<path d="M210.6 141.2v1.1" stroke="#222" stroke-width="0.6"/>
<path d="M216.02 141.2v2.2" stroke="#222" stroke-width="0.7"/>
<path d="M221.43 141.2v1.1" stroke="#222" stroke-width="0.6"/>
<path d="M226.85 141.2v1.1" stroke="#222" stroke-width="0.6"/>
<path d="M232.26 141.2v1.1" stroke="#222" stroke-width="0.6"/>
<path d="M237.68 141.2v2.2" stroke="#222" stroke-width="0.7"/>
<path d="M243.09 141.2v1.1" stroke="#222" stroke-width="0.6"/>
<path d="M248.51 141.2v1.1" stroke="#222" stroke-width="0.6"/>
<path d="M253.93 141.2v1.1" stroke="#222" stroke-width="0.6"/>
<path d="M259.34 141.2v2.2" stroke="#222" stroke-width="0.7"/>
<path d="M264.75 141.2v1.1" stroke="#222" stroke-width="0.6"/>
<path d="M270.17 141.2v1.1" stroke="#222" stroke-width="0.6"/>
<path d="M275.58 141.2v1.1" stroke="#222" stroke-width="0.6"/>
<path d="M281 141.2v2.2" stroke="#222" stroke-width="0.7"/>
<text transform="translate(170.57 150.75) scale(1.157 1)" font-size="7.10" font-weight="bold" stroke="#000" stroke-width="0.5">0</text>
<text transform="translate(186.63 150.75) scale(1.071 1)" font-size="7.10" font-weight="bold" stroke="#000" stroke-width="0.5">200</text>
<text transform="translate(208.58 150.75) scale(1.145 1)" font-size="7.10" font-weight="bold" stroke="#000" stroke-width="0.5">400</text>
<text transform="translate(229.89 150.75) scale(1.170 1)" font-size="7.10" font-weight="bold" stroke="#000" stroke-width="0.5">600</text>
<text transform="translate(249.64 150.75) scale(1.140 1)" font-size="7.10" font-weight="bold" stroke="#000" stroke-width="0.5">800</text>
<text transform="translate(266.72 150.75) scale(1.077 1)" font-size="7.10" font-weight="bold" stroke="#000" stroke-width="0.5">1000</text>
<path d="M289.4 141.2v2.2" stroke="#222" stroke-width="0.7"/>
<path d="M294.81 141.2v1.1" stroke="#222" stroke-width="0.6"/>
<path d="M300.23 141.2v1.1" stroke="#222" stroke-width="0.6"/>
<path d="M305.64 141.2v1.1" stroke="#222" stroke-width="0.6"/>
<path d="M311.06 141.2v2.2" stroke="#222" stroke-width="0.7"/>
<path d="M316.48 141.2v1.1" stroke="#222" stroke-width="0.6"/>
<path d="M321.89 141.2v1.1" stroke="#222" stroke-width="0.6"/>
<path d="M327.31 141.2v1.1" stroke="#222" stroke-width="0.6"/>
<path d="M332.72 141.2v2.2" stroke="#222" stroke-width="0.7"/>
<path d="M338.13 141.2v1.1" stroke="#222" stroke-width="0.6"/>
<path d="M343.55 141.2v1.1" stroke="#222" stroke-width="0.6"/>
<path d="M348.96 141.2v1.1" stroke="#222" stroke-width="0.6"/>
<path d="M354.38 141.2v2.2" stroke="#222" stroke-width="0.7"/>
<path d="M359.8 141.2v1.1" stroke="#222" stroke-width="0.6"/>
<path d="M365.21 141.2v1.1" stroke="#222" stroke-width="0.6"/>
<path d="M370.62 141.2v1.1" stroke="#222" stroke-width="0.6"/>
<path d="M376.04 141.2v2.2" stroke="#222" stroke-width="0.7"/>
<path d="M381.45 141.2v1.1" stroke="#222" stroke-width="0.6"/>
<path d="M386.87 141.2v1.1" stroke="#222" stroke-width="0.6"/>
<path d="M392.28 141.2v1.1" stroke="#222" stroke-width="0.6"/>
<path d="M397.7 141.2v2.2" stroke="#222" stroke-width="0.7"/>
<text transform="translate(287.27 150.75) scale(1.157 1)" font-size="7.10" font-weight="bold" stroke="#000" stroke-width="0.5">0</text>
<text transform="translate(303.33 150.75) scale(1.071 1)" font-size="7.10" font-weight="bold" stroke="#000" stroke-width="0.5">200</text>
<text transform="translate(325.28 150.75) scale(1.145 1)" font-size="7.10" font-weight="bold" stroke="#000" stroke-width="0.5">400</text>
<text transform="translate(346.59 150.75) scale(1.170 1)" font-size="7.10" font-weight="bold" stroke="#000" stroke-width="0.5">600</text>
<text transform="translate(366.34 150.75) scale(1.140 1)" font-size="7.10" font-weight="bold" stroke="#000" stroke-width="0.5">800</text>
<text transform="translate(383.42 150.75) scale(1.077 1)" font-size="7.10" font-weight="bold" stroke="#000" stroke-width="0.5">1000</text>
<path d="M405.7 141.2v2.2" stroke="#222" stroke-width="0.7"/>
<path d="M411.12 141.2v1.1" stroke="#222" stroke-width="0.6"/>
<path d="M416.53 141.2v1.1" stroke="#222" stroke-width="0.6"/>
<path d="M421.94 141.2v1.1" stroke="#222" stroke-width="0.6"/>
<path d="M427.36 141.2v2.2" stroke="#222" stroke-width="0.7"/>
<path d="M432.78 141.2v1.1" stroke="#222" stroke-width="0.6"/>
<path d="M438.19 141.2v1.1" stroke="#222" stroke-width="0.6"/>
<path d="M443.61 141.2v1.1" stroke="#222" stroke-width="0.6"/>
<path d="M449.02 141.2v2.2" stroke="#222" stroke-width="0.7"/>
<path d="M454.44 141.2v1.1" stroke="#222" stroke-width="0.6"/>
<path d="M459.85 141.2v1.1" stroke="#222" stroke-width="0.6"/>
<path d="M465.26 141.2v1.1" stroke="#222" stroke-width="0.6"/>
<path d="M470.68 141.2v2.2" stroke="#222" stroke-width="0.7"/>
<path d="M476.1 141.2v1.1" stroke="#222" stroke-width="0.6"/>
<path d="M481.51 141.2v1.1" stroke="#222" stroke-width="0.6"/>
<path d="M486.93 141.2v1.1" stroke="#222" stroke-width="0.6"/>
<path d="M492.34 141.2v2.2" stroke="#222" stroke-width="0.7"/>
<path d="M497.75 141.2v1.1" stroke="#222" stroke-width="0.6"/>
<path d="M503.17 141.2v1.1" stroke="#222" stroke-width="0.6"/>
<path d="M508.58 141.2v1.1" stroke="#222" stroke-width="0.6"/>
<path d="M514 141.2v2.2" stroke="#222" stroke-width="0.7"/>
<text transform="translate(403.57 150.75) scale(1.157 1)" font-size="7.10" font-weight="bold" stroke="#000" stroke-width="0.5">0</text>
<text transform="translate(419.63 150.75) scale(1.071 1)" font-size="7.10" font-weight="bold" stroke="#000" stroke-width="0.5">200</text>
<text transform="translate(441.58 150.75) scale(1.145 1)" font-size="7.10" font-weight="bold" stroke="#000" stroke-width="0.5">400</text>
<text transform="translate(462.89 150.75) scale(1.170 1)" font-size="7.10" font-weight="bold" stroke="#000" stroke-width="0.5">600</text>
<text transform="translate(484.44 150.75) scale(1.140 1)" font-size="7.10" font-weight="bold" stroke="#000" stroke-width="0.5">800</text>
<text transform="translate(501.52 150.75) scale(1.077 1)" font-size="7.10" font-weight="bold" stroke="#000" stroke-width="0.5">1000</text></g>
<g><ellipse cx="83.7" cy="72.2" rx="17.5" ry="27.8" fill="none" stroke="#c8285a" stroke-width="1.8"/>
<ellipse cx="132.4" cy="77.8" rx="30.3" ry="12.2" fill="none" stroke="#3ad43a" stroke-width="1.8"/>
<ellipse cx="131.4" cy="97.8" rx="23.3" ry="6.1" fill="none" stroke="#c83cd8" stroke-width="1.8"/>
<ellipse cx="98.1" cy="108.4" rx="13.9" ry="12.6" fill="none" stroke="#2a4ed8" stroke-width="1.8"/></g>
<g><ellipse cx="197.3" cy="72.1" rx="17.6" ry="27.5" fill="none" stroke="#c8285a" stroke-width="1.8"/>
<ellipse cx="245.6" cy="78.0" rx="29.3" ry="12.5" fill="none" stroke="#3ad43a" stroke-width="1.8"/>
<ellipse cx="244.8" cy="98.1" rx="23.3" ry="6.3" fill="none" stroke="#c83cd8" stroke-width="1.8"/>
<ellipse cx="211.8" cy="108.0" rx="14" ry="12.5" fill="none" stroke="#2a4ed8" stroke-width="1.8"/></g>
<g><ellipse cx="316.1" cy="72.3" rx="17.8" ry="27.6" fill="none" stroke="#c8285a" stroke-width="1.8"/>
<ellipse cx="365.0" cy="77.9" rx="30.7" ry="12.7" fill="none" stroke="#3ad43a" stroke-width="1.8"/>
<ellipse cx="363.2" cy="98.2" rx="23.6" ry="6.3" fill="none" stroke="#c83cd8" stroke-width="1.8"/>
<ellipse cx="330.4" cy="108.5" rx="14.1" ry="12.5" fill="none" stroke="#2a4ed8" stroke-width="1.8"/></g>
<g><ellipse cx="433.7" cy="71.8" rx="17.7" ry="27.5" fill="none" stroke="#c8285a" stroke-width="1.8"/>
<ellipse cx="481.8" cy="77.6" rx="30.0" ry="12.6" fill="none" stroke="#3ad43a" stroke-width="1.8"/>
<ellipse cx="480.4" cy="98.2" rx="23.3" ry="6.3" fill="none" stroke="#c83cd8" stroke-width="1.8"/>
<ellipse cx="447.5" cy="108.1" rx="14.0" ry="12.6" fill="none" stroke="#2a4ed8" stroke-width="1.8"/></g>
<text transform="translate(59.70 39.97) scale(0.878 1)" font-size="8.65" font-weight="bold" stroke="#000" stroke-width="0.65">54.1</text>
<text transform="translate(175.89 39.97) scale(0.910 1)" font-size="8.53" font-weight="bold" stroke="#000" stroke-width="0.65">56.5</text>
<text transform="translate(291.15 39.97) scale(0.937 1)" font-size="8.53" font-weight="bold" stroke="#000" stroke-width="0.65">90.2</text>
<text transform="translate(406.94 39.97) scale(0.953 1)" font-size="8.53" font-weight="bold" stroke="#000" stroke-width="0.65">92.3</text>
<text transform="translate(147.94 59.57) scale(0.915 1)" font-size="8.53" font-weight="bold" stroke="#000" stroke-width="0.65">19.4</text>
<text transform="translate(261.25 59.47) scale(0.910 1)" font-size="8.53" font-weight="bold" stroke="#000" stroke-width="0.65">31.6</text>
<text transform="translate(383.80 59.47) scale(0.866 1)" font-size="8.53" font-weight="bold" stroke="#000" stroke-width="0.65">5.2</text>
<text transform="translate(500.15 59.47) scale(0.923 1)" font-size="8.53" font-weight="bold" stroke="#000" stroke-width="0.65">2.0</text>
<text transform="translate(144.69 116.17) scale(0.939 1)" font-size="8.51" font-weight="bold" stroke="#000" stroke-width="0.65">5.5</text>
<text transform="translate(257.80 116.17) scale(0.962 1)" font-size="8.39" font-weight="bold" stroke="#000" stroke-width="0.65">0.8</text>
<text transform="translate(376.60 116.17) scale(0.969 1)" font-size="8.39" font-weight="bold" stroke="#000" stroke-width="0.65">0.2</text>
<text transform="translate(492.91 116.17) scale(0.951 1)" font-size="8.39" font-weight="bold" stroke="#000" stroke-width="0.65">0.2</text>
<text transform="translate(69.63 131.08) scale(0.902 1)" font-size="8.82" font-weight="bold" stroke="#000" stroke-width="0.65">10.0</text>
<text transform="translate(187.29 131.08) scale(0.886 1)" font-size="8.82" font-weight="bold" stroke="#000" stroke-width="0.65">5.3</text>
<text transform="translate(305.02 131.08) scale(0.908 1)" font-size="8.82" font-weight="bold" stroke="#000" stroke-width="0.65">1.3</text>
<text transform="translate(422.71 131.08) scale(0.916 1)" font-size="8.95" font-weight="bold" stroke="#000" stroke-width="0.65">1.5</text>
<text transform="translate(105.48 135.28) scale(1.055 1)" font-size="9.03" font-weight="bold" stroke="#000" stroke-width="0.65">No Irradiation</text>
<text transform="translate(258.52 135.28) scale(0.970 1)" font-size="9.24" font-weight="bold" stroke="#000" stroke-width="0.65">Day 1</text>
<text transform="translate(374.51 135.28) scale(0.987 1)" font-size="9.24" font-weight="bold" stroke="#000" stroke-width="0.65">Day 4</text>
<text transform="translate(490.61 135.18) scale(1.039 1)" font-size="8.82" font-weight="bold" stroke="#000" stroke-width="0.65">Day 8</text>
<path d="M56 438.54H519.5" stroke="#e8e8e8" stroke-width="1"/>
<path d="M56 403.68H519.5" stroke="#e8e8e8" stroke-width="1"/>
<path d="M56 368.82H519.5" stroke="#e8e8e8" stroke-width="1"/>
<path d="M56 333.96H519.5" stroke="#e8e8e8" stroke-width="1"/>
<path d="M56 299.1H519.5" stroke="#e8e8e8" stroke-width="1"/>
<path d="M56 264.24H519.5" stroke="#e8e8e8" stroke-width="1"/>
<path d="M56 229.38H519.5" stroke="#e8e8e8" stroke-width="1"/>
<path d="M55.5 194.9H519.5" stroke="#c2c2c2" stroke-width="1.8"/>
<path d="M56 473.4H519.5" stroke="#dcdcdc" stroke-width="1"/>
<path d="M56 194.52V473.4" stroke="#e0e0e0" stroke-width="1"/>
<path d="M519.5 194.52V473.4" stroke="#e8e8e8" stroke-width="1"/>
<text x="49" y="477.4" font-size="11.3" text-anchor="end" font-weight="bold" fill="#111">0</text>
<text x="49" y="442.54" font-size="11.3" text-anchor="end" font-weight="bold" fill="#111">5</text>
<text x="49" y="407.68" font-size="11.3" text-anchor="end" font-weight="bold" fill="#111">10</text>
<text x="49" y="372.82" font-size="11.3" text-anchor="end" font-weight="bold" fill="#111">15</text>
<text x="49" y="337.96" font-size="11.3" text-anchor="end" font-weight="bold" fill="#111">20</text>
<text x="49" y="303.1" font-size="11.3" text-anchor="end" font-weight="bold" fill="#111">25</text>
<text x="49" y="268.24" font-size="11.3" text-anchor="end" font-weight="bold" fill="#111">30</text>
<text x="49" y="233.38" font-size="11.3" text-anchor="end" font-weight="bold" fill="#111">35</text>
<text x="49" y="198.52" font-size="11.3" text-anchor="end" font-weight="bold" fill="#111">40</text>
<text x="78.6" y="489" font-size="11.3" text-anchor="middle" font-weight="bold" fill="#111">0</text>
<text x="125" y="489" font-size="11.3" text-anchor="middle" font-weight="bold" fill="#111">1</text>
<text x="171.4" y="489" font-size="11.3" text-anchor="middle" font-weight="bold" fill="#111">2</text>
<text x="217.8" y="489" font-size="11.3" text-anchor="middle" font-weight="bold" fill="#111">3</text>
<text x="264.2" y="489" font-size="11.3" text-anchor="middle" font-weight="bold" fill="#111">4</text>
<text x="310.6" y="489" font-size="11.3" text-anchor="middle" font-weight="bold" fill="#111">5</text>
<text x="357" y="489" font-size="11.3" text-anchor="middle" font-weight="bold" fill="#111">6</text>
<text x="403.4" y="489" font-size="11.3" text-anchor="middle" font-weight="bold" fill="#111">7</text>
<text x="449.8" y="489" font-size="11.3" text-anchor="middle" font-weight="bold" fill="#111">8</text>
<text x="496.2" y="489" font-size="11.3" text-anchor="middle" font-weight="bold" fill="#111">10</text>
<polyline points="78.6,218.92 125,210.56 171.4,439.24 217.8,406.12 264.2,449.7 310.6,439.24 357,468.87 403.4,470.96 449.8,465.73 496.2,467.33" fill="none" stroke="#2fd62a" stroke-width="1.45" stroke-linejoin="round"/>
<path d="M78.6 216.42L81.1 218.92L78.6 221.42L76.1 218.92Z" fill="#2fd62a"/>
<path d="M125 208.06L127.5 210.56L125 213.06L122.5 210.56Z" fill="#2fd62a"/>
<path d="M171.4 436.74L173.9 439.24L171.4 441.74L168.9 439.24Z" fill="#2fd62a"/>
<path d="M217.8 403.62L220.3 406.12L217.8 408.62L215.3 406.12Z" fill="#2fd62a"/>
<path d="M264.2 447.2L266.7 449.7L264.2 452.2L261.7 449.7Z" fill="#2fd62a"/>
<path d="M310.6 436.74L313.1 439.24L310.6 441.74L308.1 439.24Z" fill="#2fd62a"/>
<path d="M357 466.37L359.5 468.87L357 471.37L354.5 468.87Z" fill="#2fd62a"/>
<path d="M403.4 468.46L405.9 470.96L403.4 473.46L400.9 470.96Z" fill="#2fd62a"/>
<path d="M449.8 463.23L452.3 465.73L449.8 468.23L447.3 465.73Z" fill="#2fd62a"/>
<path d="M496.2 464.83L498.7 467.33L496.2 469.83L493.7 467.33Z" fill="#2fd62a"/>
<polyline points="78.6,349.65 125,428.78 171.4,464.34 217.8,464.34 264.2,468.87 310.6,467.82 357,472.7 403.4,468.17 449.8,464.69 496.2,464.34" fill="none" stroke="#1f4fc0" stroke-width="1.45" stroke-linejoin="round"/>
<rect x="76.9" y="347.95" width="3.4" height="3.4" fill="#1f4fc0"/>
<rect x="123.3" y="427.08" width="3.4" height="3.4" fill="#1f4fc0"/>
<rect x="169.7" y="462.64" width="3.4" height="3.4" fill="#1f4fc0"/>
<rect x="216.1" y="462.64" width="3.4" height="3.4" fill="#1f4fc0"/>
<rect x="262.5" y="467.17" width="3.4" height="3.4" fill="#1f4fc0"/>
<rect x="308.9" y="466.12" width="3.4" height="3.4" fill="#1f4fc0"/>
<rect x="355.3" y="471" width="3.4" height="3.4" fill="#1f4fc0"/>
<rect x="401.7" y="466.47" width="3.4" height="3.4" fill="#1f4fc0"/>
<rect x="448.1" y="462.99" width="3.4" height="3.4" fill="#1f4fc0"/>
<rect x="494.5" y="462.64" width="3.4" height="3.4" fill="#1f4fc0"/>
<polyline points="78.6,411.35 125,465.73 171.4,469.7 217.8,471.8 264.2,472.7 310.6,472.7 357,472.7 403.4,473.4 449.8,472.49 496.2,472.49" fill="none" stroke="#c015c8" stroke-width="1.45" stroke-linejoin="round"/>
<circle cx="78.6" cy="411.35" r="2.1" fill="#c015c8"/>
<circle cx="125" cy="465.73" r="2.1" fill="#c015c8"/>
<circle cx="171.4" cy="469.7" r="2.1" fill="#c015c8"/>
<circle cx="217.8" cy="471.8" r="2.1" fill="#c015c8"/>
<circle cx="264.2" cy="472.7" r="2.1" fill="#c015c8"/>
<circle cx="310.6" cy="472.7" r="2.1" fill="#c015c8"/>
<circle cx="357" cy="472.7" r="2.1" fill="#c015c8"/>
<circle cx="403.4" cy="473.4" r="2.1" fill="#c015c8"/>
<circle cx="449.8" cy="472.49" r="2.1" fill="#c015c8"/>
<circle cx="496.2" cy="472.49" r="2.1" fill="#c015c8"/>
<rect x="396.2" y="213.9" width="110.3" height="64.3" fill="#fff" stroke="#d4d4d4" stroke-width="1"/>
<path d="M402.9 225.7H426.3" stroke="#2fd62a" stroke-width="1.7"/>
<path d="M414.6 222.9L417.40000000000003 225.7L414.6 228.5L411.8 225.7Z" fill="#2fd62a"/>
<text x="437.9" y="231.2" font-size="12.2" font-weight="bold" fill="#2a2a2a">Myeloid</text>
<path d="M402.9 246.05H426.3" stroke="#1f4fc0" stroke-width="1.7"/>
<rect x="412.6" y="244.05" width="4" height="4" fill="#1f4fc0"/>
<text x="437.9" y="251.55" font-size="12.2" font-weight="bold" fill="#2a2a2a">Lymphoid</text>
<path d="M402.9 266.4H426.3" stroke="#c015c8" stroke-width="1.7"/>
<circle cx="414.6" cy="266.4" r="2.3" fill="#c015c8"/>
<text x="437.9" y="271.9" font-size="12.2" font-weight="bold" fill="#2a2a2a">Precursor</text>
<text x="285.9" y="511.6" font-size="15.7" text-anchor="middle" font-weight="bold" fill="#222">Days After Irradiation (40 Gy)</text>
<text transform="translate(22.9 334.3) rotate(-90)" font-size="15.95" text-anchor="middle" font-weight="bold" fill="#222">Total Cell Number (x10<tspan font-size="10" dy="-6">4</tspan><tspan dy="6">)</tspan></text>
</svg></body></html>
